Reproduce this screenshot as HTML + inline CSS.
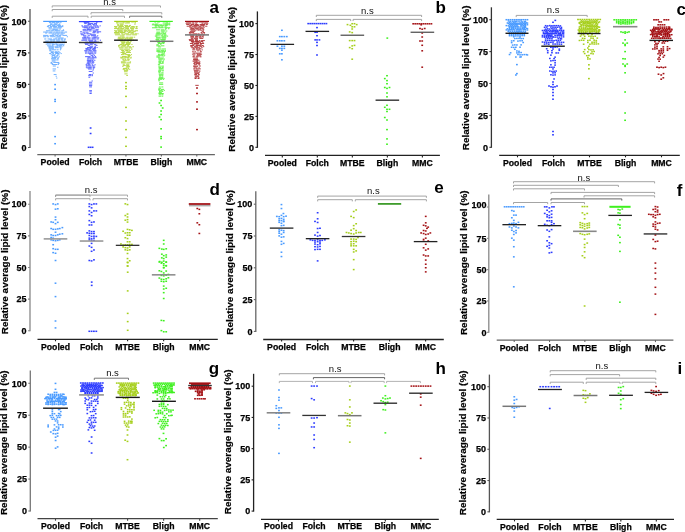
<!DOCTYPE html>
<html><head><meta charset="utf-8"><style>
html,body{margin:0;padding:0;background:#fff;}
svg{display:block;will-change:transform;}
text{font-family:"Liberation Sans",sans-serif;}
.tk{font-size:9px;font-weight:bold;text-anchor:end;fill:#000;stroke:#000;stroke-width:0.25px;}
.cl{font-size:8.7px;font-weight:bold;text-anchor:middle;fill:#000;stroke:#000;stroke-width:0.25px;}
.yl{font-size:9.95px;font-weight:bold;text-anchor:middle;fill:#000;stroke:#000;stroke-width:0.2px;}
.lt{font-size:17px;font-weight:bold;fill:#000;}
.ns{font-size:9.5px;text-anchor:middle;fill:#111;}
</style></head><body>
<svg width="685" height="532" viewBox="0 0 685 532">
<line x1="30" y1="9" x2="30" y2="148" stroke="#555" stroke-width="1.3"/>
<line x1="28" y1="147.5" x2="30" y2="147.5" stroke="#555" stroke-width="1.1"/>
<text x="26.6" y="150.7" class="tk">0</text>
<line x1="28" y1="115.95" x2="30" y2="115.95" stroke="#555" stroke-width="1.1"/>
<text x="26.6" y="119.15" class="tk">25</text>
<line x1="28" y1="84.4" x2="30" y2="84.4" stroke="#555" stroke-width="1.1"/>
<text x="26.6" y="87.6" class="tk">50</text>
<line x1="28" y1="52.85" x2="30" y2="52.85" stroke="#555" stroke-width="1.1"/>
<text x="26.6" y="56.05" class="tk">75</text>
<line x1="28" y1="21.3" x2="30" y2="21.3" stroke="#555" stroke-width="1.1"/>
<text x="26.6" y="24.5" class="tk">100</text>
<line x1="37.3" y1="154.6" x2="214.9" y2="154.6" stroke="#666" stroke-width="1.3"/>
<line x1="55.1" y1="154.6" x2="55.1" y2="156.6" stroke="#666" stroke-width="1.1"/>
<text x="55.1" y="165.1" class="cl">Pooled</text>
<line x1="90.52" y1="154.6" x2="90.52" y2="156.6" stroke="#666" stroke-width="1.1"/>
<text x="90.52" y="165.1" class="cl">Folch</text>
<line x1="125.94" y1="154.6" x2="125.94" y2="156.6" stroke="#666" stroke-width="1.1"/>
<text x="125.94" y="165.1" class="cl">MTBE</text>
<line x1="161.36" y1="154.6" x2="161.36" y2="156.6" stroke="#666" stroke-width="1.1"/>
<text x="161.36" y="165.1" class="cl">Bligh</text>
<line x1="196.78" y1="154.6" x2="196.78" y2="156.6" stroke="#666" stroke-width="1.1"/>
<text x="196.78" y="165.1" class="cl">MMC</text>
<text transform="translate(7.3,77.2) rotate(-90)" class="yl">Relative average lipid level (%)</text>
<text x="209.5" y="12.8" class="lt">a</text>
<rect x="43.2" y="20.8" width="23.8" height="1.2" fill="#4a9bff"/>
<rect x="48.91" y="22.1" width="2.18" height="1" fill="#4a9bff" fill-opacity="0.8"/>
<rect x="51.46" y="22.1" width="3.91" height="1" fill="#4a9bff" fill-opacity="0.8"/>
<rect x="55.73" y="22.1" width="3.78" height="1" fill="#4a9bff" fill-opacity="0.8"/>
<rect x="60.25" y="22.1" width="1.2" height="1" fill="#4a9bff" fill-opacity="0.8"/>
<rect x="50.04" y="23.35" width="2.5" height="1" fill="#4a9bff" fill-opacity="0.8"/>
<rect x="53.79" y="23.35" width="4.1" height="1" fill="#4a9bff" fill-opacity="0.8"/>
<rect x="59.16" y="23.35" width="1.2" height="1" fill="#4a9bff" fill-opacity="0.8"/>
<rect x="49.86" y="24.23" width="2.89" height="1" fill="#4a9bff" fill-opacity="0.8"/>
<rect x="53.23" y="24.23" width="4.12" height="1" fill="#4a9bff" fill-opacity="0.8"/>
<rect x="58.01" y="24.23" width="2.33" height="1" fill="#4a9bff" fill-opacity="0.8"/>
<rect x="47.64" y="25.15" width="3.42" height="1" fill="#4a9bff" fill-opacity="0.8"/>
<rect x="51.95" y="25.15" width="3.54" height="1" fill="#4a9bff" fill-opacity="0.8"/>
<rect x="56.58" y="25.15" width="4.65" height="1" fill="#4a9bff" fill-opacity="0.8"/>
<rect x="62.1" y="25.15" width="1.2" height="1" fill="#4a9bff" fill-opacity="0.8"/>
<rect x="46.89" y="26.11" width="2.03" height="1" fill="#4a9bff" fill-opacity="0.8"/>
<rect x="49.98" y="26.11" width="2.18" height="1" fill="#4a9bff" fill-opacity="0.8"/>
<rect x="52.5" y="26.11" width="4.51" height="1" fill="#4a9bff" fill-opacity="0.8"/>
<rect x="57.88" y="26.11" width="5.42" height="1" fill="#4a9bff" fill-opacity="0.8"/>
<rect x="48.39" y="27.23" width="3.55" height="1" fill="#4a9bff" fill-opacity="0.8"/>
<rect x="53.19" y="27.23" width="3.63" height="1" fill="#4a9bff" fill-opacity="0.8"/>
<rect x="57.18" y="27.23" width="4.63" height="1" fill="#4a9bff" fill-opacity="0.8"/>
<rect x="48.65" y="28.48" width="3.24" height="1" fill="#4a9bff" fill-opacity="0.8"/>
<rect x="52.21" y="28.48" width="3.58" height="1" fill="#4a9bff" fill-opacity="0.8"/>
<rect x="56.2" y="28.48" width="1.77" height="1" fill="#4a9bff" fill-opacity="0.8"/>
<rect x="58.4" y="28.48" width="2.61" height="1" fill="#4a9bff" fill-opacity="0.8"/>
<rect x="52.36" y="29.33" width="5.39" height="1" fill="#4a9bff" fill-opacity="0.8"/>
<rect x="62.84" y="29.33" width="1.2" height="1" fill="#4a9bff" fill-opacity="0.8"/>
<rect x="45.94" y="30.26" width="4.15" height="1" fill="#4a9bff" fill-opacity="0.8"/>
<rect x="50.4" y="30.26" width="3.39" height="1" fill="#4a9bff" fill-opacity="0.8"/>
<rect x="54.65" y="30.26" width="5.79" height="1" fill="#4a9bff" fill-opacity="0.8"/>
<rect x="61.25" y="30.26" width="3.01" height="1" fill="#4a9bff" fill-opacity="0.8"/>
<rect x="43.1" y="31.55" width="5.44" height="1" fill="#4a9bff" fill-opacity="0.8"/>
<rect x="49.23" y="31.55" width="3.3" height="1" fill="#4a9bff" fill-opacity="0.8"/>
<rect x="53.46" y="31.55" width="1.78" height="1" fill="#4a9bff" fill-opacity="0.8"/>
<rect x="55.75" y="31.55" width="2.23" height="1" fill="#4a9bff" fill-opacity="0.8"/>
<rect x="58.33" y="31.55" width="1.5" height="1" fill="#4a9bff" fill-opacity="0.8"/>
<rect x="60.23" y="31.55" width="3.14" height="1" fill="#4a9bff" fill-opacity="0.8"/>
<rect x="64.54" y="31.55" width="2.56" height="1" fill="#4a9bff" fill-opacity="0.8"/>
<rect x="45.12" y="32.54" width="2.05" height="1" fill="#4a9bff" fill-opacity="0.8"/>
<rect x="48.47" y="32.54" width="3.6" height="1" fill="#4a9bff" fill-opacity="0.8"/>
<rect x="52.45" y="32.54" width="1.96" height="1" fill="#4a9bff" fill-opacity="0.8"/>
<rect x="54.97" y="32.54" width="5.23" height="1" fill="#4a9bff" fill-opacity="0.8"/>
<rect x="60.53" y="32.54" width="4.55" height="1" fill="#4a9bff" fill-opacity="0.8"/>
<rect x="51.82" y="33.64" width="4.63" height="1" fill="#4a9bff" fill-opacity="0.8"/>
<rect x="57.12" y="33.64" width="2.25" height="1" fill="#4a9bff" fill-opacity="0.8"/>
<rect x="60.2" y="33.64" width="3.22" height="1" fill="#4a9bff" fill-opacity="0.8"/>
<rect x="43.1" y="34.89" width="5.34" height="1" fill="#4a9bff" fill-opacity="0.8"/>
<rect x="49.56" y="34.89" width="4.83" height="1" fill="#4a9bff" fill-opacity="0.8"/>
<rect x="55.2" y="34.89" width="3.1" height="1" fill="#4a9bff" fill-opacity="0.8"/>
<rect x="58.63" y="34.89" width="2.76" height="1" fill="#4a9bff" fill-opacity="0.8"/>
<rect x="62.38" y="34.89" width="4.72" height="1" fill="#4a9bff" fill-opacity="0.8"/>
<rect x="43.1" y="36.23" width="3.14" height="1" fill="#4a9bff" fill-opacity="0.8"/>
<rect x="46.77" y="36.23" width="2.39" height="1" fill="#4a9bff" fill-opacity="0.8"/>
<rect x="50.08" y="36.23" width="5.55" height="1" fill="#4a9bff" fill-opacity="0.8"/>
<rect x="56.41" y="36.23" width="4.44" height="1" fill="#4a9bff" fill-opacity="0.8"/>
<rect x="66.79" y="36.23" width="1.2" height="1" fill="#4a9bff" fill-opacity="0.8"/>
<rect x="55.41" y="37.47" width="2.27" height="1" fill="#4a9bff" fill-opacity="0.8"/>
<rect x="58.12" y="37.47" width="5.57" height="1" fill="#4a9bff" fill-opacity="0.8"/>
<rect x="44.21" y="38.46" width="2.09" height="1" fill="#4a9bff" fill-opacity="0.8"/>
<rect x="47.57" y="38.46" width="4.42" height="1" fill="#4a9bff" fill-opacity="0.8"/>
<rect x="53.23" y="38.46" width="3.45" height="1" fill="#4a9bff" fill-opacity="0.8"/>
<rect x="57.81" y="38.46" width="2.45" height="1" fill="#4a9bff" fill-opacity="0.8"/>
<rect x="60.85" y="38.46" width="2.58" height="1" fill="#4a9bff" fill-opacity="0.8"/>
<rect x="63.99" y="38.46" width="1.99" height="1" fill="#4a9bff" fill-opacity="0.8"/>
<rect x="49.5" y="39.45" width="5.63" height="1" fill="#4a9bff" fill-opacity="0.8"/>
<rect x="55.97" y="39.45" width="3.86" height="1" fill="#4a9bff" fill-opacity="0.8"/>
<rect x="60.56" y="39.45" width="2.32" height="1" fill="#4a9bff" fill-opacity="0.8"/>
<rect x="63.98" y="39.45" width="1.56" height="1" fill="#4a9bff" fill-opacity="0.8"/>
<rect x="45.31" y="40.56" width="3.83" height="1" fill="#4a9bff" fill-opacity="0.8"/>
<rect x="50.22" y="40.56" width="1.98" height="1" fill="#4a9bff" fill-opacity="0.8"/>
<rect x="52.75" y="40.56" width="2.75" height="1" fill="#4a9bff" fill-opacity="0.8"/>
<rect x="56.3" y="40.56" width="4.03" height="1" fill="#4a9bff" fill-opacity="0.8"/>
<rect x="61.55" y="40.56" width="3.35" height="1" fill="#4a9bff" fill-opacity="0.8"/>
<rect x="44.56" y="41.64" width="3.54" height="1" fill="#4a9bff" fill-opacity="0.8"/>
<rect x="48.88" y="41.64" width="5.74" height="1" fill="#4a9bff" fill-opacity="0.8"/>
<rect x="55.79" y="41.64" width="5.74" height="1" fill="#4a9bff" fill-opacity="0.8"/>
<rect x="62.39" y="41.64" width="3.25" height="1" fill="#4a9bff" fill-opacity="0.8"/>
<rect x="46.96" y="42.51" width="1.83" height="1" fill="#4a9bff" fill-opacity="0.8"/>
<rect x="49.16" y="42.51" width="4.51" height="1" fill="#4a9bff" fill-opacity="0.8"/>
<rect x="54.87" y="42.51" width="2.2" height="1" fill="#4a9bff" fill-opacity="0.8"/>
<rect x="45.67" y="43.58" width="5.25" height="1" fill="#4a9bff" fill-opacity="0.8"/>
<rect x="51.64" y="43.58" width="3.82" height="1" fill="#4a9bff" fill-opacity="0.8"/>
<rect x="55.96" y="43.58" width="2.93" height="1" fill="#4a9bff" fill-opacity="0.8"/>
<rect x="59.21" y="43.58" width="3.99" height="1" fill="#4a9bff" fill-opacity="0.8"/>
<rect x="63.52" y="43.58" width="1.2" height="1" fill="#4a9bff" fill-opacity="0.8"/>
<rect x="51.78" y="44.41" width="2.7" height="1" fill="#4a9bff" fill-opacity="0.8"/>
<rect x="55.55" y="44.41" width="2.72" height="1" fill="#4a9bff" fill-opacity="0.8"/>
<rect x="58.99" y="44.41" width="4.88" height="1" fill="#4a9bff" fill-opacity="0.8"/>
<rect x="47.08" y="45.29" width="4.07" height="1" fill="#4a9bff" fill-opacity="0.8"/>
<rect x="51.54" y="45.29" width="1.76" height="1" fill="#4a9bff" fill-opacity="0.8"/>
<rect x="56.79" y="45.29" width="5.11" height="1" fill="#4a9bff" fill-opacity="0.8"/>
<rect x="63.05" y="45.29" width="1.2" height="1" fill="#4a9bff" fill-opacity="0.8"/>
<rect x="48.31" y="46.28" width="5.67" height="1" fill="#4a9bff" fill-opacity="0.8"/>
<rect x="54.41" y="46.28" width="3.87" height="1" fill="#4a9bff" fill-opacity="0.8"/>
<rect x="58.69" y="46.28" width="2.23" height="1" fill="#4a9bff" fill-opacity="0.8"/>
<rect x="61.42" y="46.28" width="1.2" height="1" fill="#4a9bff" fill-opacity="0.8"/>
<rect x="48.55" y="47.24" width="2.3" height="1" fill="#4a9bff" fill-opacity="0.8"/>
<rect x="51.17" y="47.24" width="2.63" height="1" fill="#4a9bff" fill-opacity="0.8"/>
<rect x="54.83" y="47.24" width="3.98" height="1" fill="#4a9bff" fill-opacity="0.8"/>
<rect x="59.59" y="47.24" width="2.06" height="1" fill="#4a9bff" fill-opacity="0.8"/>
<rect x="48.67" y="48.28" width="5.26" height="1" fill="#4a9bff" fill-opacity="0.8"/>
<rect x="59.97" y="48.28" width="1.56" height="1" fill="#4a9bff" fill-opacity="0.8"/>
<rect x="49.33" y="49.3" width="1.74" height="1" fill="#4a9bff" fill-opacity="0.8"/>
<rect x="51.44" y="49.3" width="4.83" height="1" fill="#4a9bff" fill-opacity="0.8"/>
<rect x="56.74" y="49.3" width="1.88" height="1" fill="#4a9bff" fill-opacity="0.8"/>
<rect x="59.79" y="49.3" width="1.2" height="1" fill="#4a9bff" fill-opacity="0.8"/>
<rect x="49.22" y="50.26" width="2.21" height="1" fill="#4a9bff" fill-opacity="0.8"/>
<rect x="50.66" y="51.26" width="3.22" height="1" fill="#4a9bff" fill-opacity="0.8"/>
<rect x="54.68" y="51.26" width="2.4" height="1" fill="#4a9bff" fill-opacity="0.8"/>
<rect x="57.39" y="51.26" width="2.15" height="1" fill="#4a9bff" fill-opacity="0.8"/>
<rect x="50.75" y="52.08" width="2.87" height="1" fill="#4a9bff" fill-opacity="0.8"/>
<rect x="54.51" y="52.08" width="3.88" height="1" fill="#4a9bff" fill-opacity="0.8"/>
<rect x="59.34" y="52.08" width="1.2" height="1" fill="#4a9bff" fill-opacity="0.8"/>
<rect x="49.14" y="53.06" width="2.17" height="1" fill="#4a9bff" fill-opacity="0.8"/>
<rect x="52.25" y="53.06" width="1.7" height="1" fill="#4a9bff" fill-opacity="0.8"/>
<rect x="55.14" y="53.06" width="4.32" height="1" fill="#4a9bff" fill-opacity="0.8"/>
<rect x="60.58" y="53.06" width="1.2" height="1" fill="#4a9bff" fill-opacity="0.8"/>
<rect x="50.68" y="54.32" width="5.22" height="1" fill="#4a9bff" fill-opacity="0.8"/>
<rect x="57.09" y="54.32" width="2.43" height="1" fill="#4a9bff" fill-opacity="0.8"/>
<rect x="52" y="55.14" width="3.12" height="1" fill="#4a9bff" fill-opacity="0.8"/>
<rect x="56.26" y="55.14" width="1.94" height="1" fill="#4a9bff" fill-opacity="0.8"/>
<rect x="51.39" y="56.31" width="1.51" height="1" fill="#4a9bff" fill-opacity="0.8"/>
<rect x="53.95" y="56.31" width="3.76" height="1" fill="#4a9bff" fill-opacity="0.8"/>
<rect x="58.67" y="56.31" width="1.2" height="1" fill="#4a9bff" fill-opacity="0.8"/>
<rect x="51.77" y="57.15" width="4.78" height="1" fill="#4a9bff" fill-opacity="0.8"/>
<rect x="57.59" y="57.15" width="1.2" height="1" fill="#4a9bff" fill-opacity="0.8"/>
<rect x="51.05" y="58.21" width="4.95" height="1" fill="#4a9bff" fill-opacity="0.8"/>
<rect x="56.95" y="58.21" width="1.85" height="1" fill="#4a9bff" fill-opacity="0.8"/>
<rect x="51.71" y="59.42" width="4.05" height="1" fill="#4a9bff" fill-opacity="0.8"/>
<rect x="56.12" y="59.42" width="2.37" height="1" fill="#4a9bff" fill-opacity="0.8"/>
<rect x="51.73" y="60.59" width="3.82" height="1" fill="#4a9bff" fill-opacity="0.8"/>
<rect x="50.62" y="61.93" width="1.58" height="1" fill="#4a9bff" fill-opacity="0.8"/>
<rect x="53.32" y="61.93" width="5.86" height="1" fill="#4a9bff" fill-opacity="0.8"/>
<rect x="50.6" y="62.85" width="2.45" height="1" fill="#4a9bff" fill-opacity="0.8"/>
<rect x="57.78" y="62.85" width="1.82" height="1" fill="#4a9bff" fill-opacity="0.8"/>
<rect x="51.83" y="64.03" width="5.54" height="1" fill="#4a9bff" fill-opacity="0.8"/>
<rect x="57.7" y="64.03" width="1.2" height="1" fill="#4a9bff" fill-opacity="0.8"/>
<rect x="52.82" y="65.5" width="3.05" height="1" fill="#4a9bff" fill-opacity="0.8"/>
<rect x="57.13" y="66.8" width="1.24" height="1" fill="#4a9bff" fill-opacity="0.8"/>
<rect x="52.55" y="68.47" width="3.43" height="1" fill="#4a9bff" fill-opacity="0.8"/>
<rect x="52.69" y="70.42" width="2.7" height="1" fill="#4a9bff" fill-opacity="0.8"/>
<rect x="53.66" y="74.04" width="2.88" height="1" fill="#4a9bff" fill-opacity="0.8"/>
<rect x="55.61" y="75.76" width="1.2" height="1" fill="#4a9bff" fill-opacity="0.8"/>
<rect x="56.15" y="77.55" width="1.2" height="1" fill="#4a9bff" fill-opacity="0.8"/>
<rect x="54.2" y="83.85" width="1.8" height="1.5" fill="#4a9bff"/>
<rect x="54.2" y="88.45" width="1.8" height="1.5" fill="#4a9bff"/>
<rect x="54.2" y="98.75" width="1.8" height="1.5" fill="#4a9bff"/>
<rect x="54.2" y="100.65" width="1.8" height="1.5" fill="#4a9bff"/>
<rect x="54.2" y="111.85" width="1.8" height="1.5" fill="#4a9bff"/>
<rect x="54.2" y="135.85" width="1.8" height="1.5" fill="#4a9bff"/>
<rect x="54.2" y="142.95" width="1.8" height="1.5" fill="#4a9bff"/>
<rect x="78.9" y="21" width="23.4" height="1.2" fill="#2d3cff"/>
<rect x="83.75" y="22.1" width="5.58" height="1" fill="#2d3cff" fill-opacity="0.8"/>
<rect x="96.18" y="22.1" width="1.27" height="1" fill="#2d3cff" fill-opacity="0.8"/>
<rect x="84.18" y="23.09" width="2.58" height="1" fill="#2d3cff" fill-opacity="0.8"/>
<rect x="87.62" y="23.09" width="5.49" height="1" fill="#2d3cff" fill-opacity="0.8"/>
<rect x="93.83" y="23.09" width="3.19" height="1" fill="#2d3cff" fill-opacity="0.8"/>
<rect x="87.46" y="24.07" width="3.77" height="1" fill="#2d3cff" fill-opacity="0.8"/>
<rect x="92.39" y="24.07" width="2.47" height="1" fill="#2d3cff" fill-opacity="0.8"/>
<rect x="95.41" y="24.07" width="1.51" height="1" fill="#2d3cff" fill-opacity="0.8"/>
<rect x="81.32" y="25.34" width="1.6" height="1" fill="#2d3cff" fill-opacity="0.8"/>
<rect x="83.93" y="25.34" width="5.53" height="1" fill="#2d3cff" fill-opacity="0.8"/>
<rect x="90.35" y="25.34" width="1.5" height="1" fill="#2d3cff" fill-opacity="0.8"/>
<rect x="93.07" y="25.34" width="5.22" height="1" fill="#2d3cff" fill-opacity="0.8"/>
<rect x="99.56" y="25.34" width="1.2" height="1" fill="#2d3cff" fill-opacity="0.8"/>
<rect x="82.02" y="26.43" width="5.74" height="1" fill="#2d3cff" fill-opacity="0.8"/>
<rect x="88.7" y="26.43" width="4.94" height="1" fill="#2d3cff" fill-opacity="0.8"/>
<rect x="94.49" y="26.43" width="1.68" height="1" fill="#2d3cff" fill-opacity="0.8"/>
<rect x="96.71" y="26.43" width="2.48" height="1" fill="#2d3cff" fill-opacity="0.8"/>
<rect x="83.59" y="27.3" width="4.36" height="1" fill="#2d3cff" fill-opacity="0.8"/>
<rect x="88.37" y="27.3" width="1.82" height="1" fill="#2d3cff" fill-opacity="0.8"/>
<rect x="91.06" y="27.3" width="3.25" height="1" fill="#2d3cff" fill-opacity="0.8"/>
<rect x="95.21" y="27.3" width="1.55" height="1" fill="#2d3cff" fill-opacity="0.8"/>
<rect x="97.52" y="27.3" width="1.2" height="1" fill="#2d3cff" fill-opacity="0.8"/>
<rect x="86.74" y="28.36" width="2.88" height="1" fill="#2d3cff" fill-opacity="0.8"/>
<rect x="90.42" y="28.36" width="4.54" height="1" fill="#2d3cff" fill-opacity="0.8"/>
<rect x="82.6" y="29.18" width="3.39" height="1" fill="#2d3cff" fill-opacity="0.8"/>
<rect x="86.49" y="29.18" width="5.09" height="1" fill="#2d3cff" fill-opacity="0.8"/>
<rect x="95.42" y="29.18" width="3.18" height="1" fill="#2d3cff" fill-opacity="0.8"/>
<rect x="82.77" y="30.4" width="5.78" height="1" fill="#2d3cff" fill-opacity="0.8"/>
<rect x="89.04" y="30.4" width="2.5" height="1" fill="#2d3cff" fill-opacity="0.8"/>
<rect x="92.51" y="30.4" width="5.77" height="1" fill="#2d3cff" fill-opacity="0.8"/>
<rect x="80.06" y="31.31" width="2.14" height="1" fill="#2d3cff" fill-opacity="0.8"/>
<rect x="93.04" y="31.31" width="2.98" height="1" fill="#2d3cff" fill-opacity="0.8"/>
<rect x="97.26" y="31.31" width="3.87" height="1" fill="#2d3cff" fill-opacity="0.8"/>
<rect x="82.46" y="32.32" width="2.99" height="1" fill="#2d3cff" fill-opacity="0.8"/>
<rect x="85.75" y="32.32" width="2.76" height="1" fill="#2d3cff" fill-opacity="0.8"/>
<rect x="92.33" y="32.32" width="3.1" height="1" fill="#2d3cff" fill-opacity="0.8"/>
<rect x="96.56" y="32.32" width="2.18" height="1" fill="#2d3cff" fill-opacity="0.8"/>
<rect x="80.28" y="33.33" width="2.37" height="1" fill="#2d3cff" fill-opacity="0.8"/>
<rect x="83.85" y="33.33" width="1.64" height="1" fill="#2d3cff" fill-opacity="0.8"/>
<rect x="86.59" y="33.33" width="4.95" height="1" fill="#2d3cff" fill-opacity="0.8"/>
<rect x="81.09" y="34.27" width="2.92" height="1" fill="#2d3cff" fill-opacity="0.8"/>
<rect x="90.15" y="34.27" width="5.74" height="1" fill="#2d3cff" fill-opacity="0.8"/>
<rect x="82.95" y="35.28" width="3.43" height="1" fill="#2d3cff" fill-opacity="0.8"/>
<rect x="87.61" y="35.28" width="2.32" height="1" fill="#2d3cff" fill-opacity="0.8"/>
<rect x="90.97" y="35.28" width="5.2" height="1" fill="#2d3cff" fill-opacity="0.8"/>
<rect x="97.08" y="35.28" width="1.2" height="1" fill="#2d3cff" fill-opacity="0.8"/>
<rect x="83.63" y="36.51" width="2.39" height="1" fill="#2d3cff" fill-opacity="0.8"/>
<rect x="86.57" y="36.51" width="1.79" height="1" fill="#2d3cff" fill-opacity="0.8"/>
<rect x="93.36" y="36.51" width="4.2" height="1" fill="#2d3cff" fill-opacity="0.8"/>
<rect x="81.96" y="37.37" width="4.69" height="1" fill="#2d3cff" fill-opacity="0.8"/>
<rect x="87.19" y="37.37" width="3.38" height="1" fill="#2d3cff" fill-opacity="0.8"/>
<rect x="91.54" y="37.37" width="4.87" height="1" fill="#2d3cff" fill-opacity="0.8"/>
<rect x="97.37" y="37.37" width="1.87" height="1" fill="#2d3cff" fill-opacity="0.8"/>
<rect x="82.46" y="38.48" width="4.82" height="1" fill="#2d3cff" fill-opacity="0.8"/>
<rect x="87.83" y="38.48" width="2.6" height="1" fill="#2d3cff" fill-opacity="0.8"/>
<rect x="91.62" y="38.48" width="4.1" height="1" fill="#2d3cff" fill-opacity="0.8"/>
<rect x="96.42" y="38.48" width="2.32" height="1" fill="#2d3cff" fill-opacity="0.8"/>
<rect x="81.34" y="39.72" width="5.96" height="1" fill="#2d3cff" fill-opacity="0.8"/>
<rect x="88.08" y="39.72" width="5.19" height="1" fill="#2d3cff" fill-opacity="0.8"/>
<rect x="94.48" y="39.72" width="1.68" height="1" fill="#2d3cff" fill-opacity="0.8"/>
<rect x="99.81" y="39.72" width="1.2" height="1" fill="#2d3cff" fill-opacity="0.8"/>
<rect x="89.04" y="40.77" width="4.18" height="1" fill="#2d3cff" fill-opacity="0.8"/>
<rect x="93.74" y="40.77" width="3.16" height="1" fill="#2d3cff" fill-opacity="0.8"/>
<rect x="97.41" y="40.77" width="1.2" height="1" fill="#2d3cff" fill-opacity="0.8"/>
<rect x="85.28" y="41.68" width="2.97" height="1" fill="#2d3cff" fill-opacity="0.8"/>
<rect x="88.74" y="41.68" width="2.9" height="1" fill="#2d3cff" fill-opacity="0.8"/>
<rect x="92.74" y="41.68" width="3.18" height="1" fill="#2d3cff" fill-opacity="0.8"/>
<rect x="84.46" y="42.7" width="4.38" height="1" fill="#2d3cff" fill-opacity="0.8"/>
<rect x="89.3" y="42.7" width="4.63" height="1" fill="#2d3cff" fill-opacity="0.8"/>
<rect x="84.99" y="43.81" width="3.37" height="1" fill="#2d3cff" fill-opacity="0.8"/>
<rect x="89.66" y="43.81" width="3.14" height="1" fill="#2d3cff" fill-opacity="0.8"/>
<rect x="93.83" y="43.81" width="2.38" height="1" fill="#2d3cff" fill-opacity="0.8"/>
<rect x="87.79" y="44.84" width="2.23" height="1" fill="#2d3cff" fill-opacity="0.8"/>
<rect x="95.65" y="44.84" width="1.84" height="1" fill="#2d3cff" fill-opacity="0.8"/>
<rect x="89.45" y="45.73" width="3.71" height="1" fill="#2d3cff" fill-opacity="0.8"/>
<rect x="94.42" y="45.73" width="1.58" height="1" fill="#2d3cff" fill-opacity="0.8"/>
<rect x="87.07" y="47.06" width="5.57" height="1" fill="#2d3cff" fill-opacity="0.8"/>
<rect x="93.76" y="47.06" width="2.22" height="1" fill="#2d3cff" fill-opacity="0.8"/>
<rect x="96.51" y="47.06" width="1.2" height="1" fill="#2d3cff" fill-opacity="0.8"/>
<rect x="85.38" y="47.96" width="3.3" height="1" fill="#2d3cff" fill-opacity="0.8"/>
<rect x="89.36" y="47.96" width="2.05" height="1" fill="#2d3cff" fill-opacity="0.8"/>
<rect x="92.44" y="47.96" width="3.39" height="1" fill="#2d3cff" fill-opacity="0.8"/>
<rect x="85.55" y="49.18" width="5.27" height="1" fill="#2d3cff" fill-opacity="0.8"/>
<rect x="91.72" y="49.18" width="3.93" height="1" fill="#2d3cff" fill-opacity="0.8"/>
<rect x="84.2" y="50.21" width="3.42" height="1" fill="#2d3cff" fill-opacity="0.8"/>
<rect x="88.37" y="50.21" width="3.47" height="1" fill="#2d3cff" fill-opacity="0.8"/>
<rect x="92.76" y="50.21" width="3.7" height="1" fill="#2d3cff" fill-opacity="0.8"/>
<rect x="84.86" y="51.44" width="2.31" height="1" fill="#2d3cff" fill-opacity="0.8"/>
<rect x="87.57" y="51.44" width="2.08" height="1" fill="#2d3cff" fill-opacity="0.8"/>
<rect x="90.04" y="51.44" width="3.49" height="1" fill="#2d3cff" fill-opacity="0.8"/>
<rect x="93.87" y="51.44" width="2.47" height="1" fill="#2d3cff" fill-opacity="0.8"/>
<rect x="85.02" y="52.67" width="1.74" height="1" fill="#2d3cff" fill-opacity="0.8"/>
<rect x="87.44" y="52.67" width="5.78" height="1" fill="#2d3cff" fill-opacity="0.8"/>
<rect x="94.38" y="52.67" width="1.8" height="1" fill="#2d3cff" fill-opacity="0.8"/>
<rect x="89.02" y="53.57" width="2.24" height="1" fill="#2d3cff" fill-opacity="0.8"/>
<rect x="92.49" y="53.57" width="1.79" height="1" fill="#2d3cff" fill-opacity="0.8"/>
<rect x="90.61" y="54.82" width="2.68" height="1" fill="#2d3cff" fill-opacity="0.8"/>
<rect x="93.91" y="54.82" width="1.2" height="1" fill="#2d3cff" fill-opacity="0.8"/>
<rect x="85.08" y="56.14" width="5.53" height="1" fill="#2d3cff" fill-opacity="0.8"/>
<rect x="91.7" y="56.14" width="2.02" height="1" fill="#2d3cff" fill-opacity="0.8"/>
<rect x="94.65" y="56.14" width="1.47" height="1" fill="#2d3cff" fill-opacity="0.8"/>
<rect x="87.5" y="57.26" width="3.27" height="1" fill="#2d3cff" fill-opacity="0.8"/>
<rect x="91.34" y="57.26" width="5.25" height="1" fill="#2d3cff" fill-opacity="0.8"/>
<rect x="86.97" y="58.48" width="2.3" height="1" fill="#2d3cff" fill-opacity="0.8"/>
<rect x="89.62" y="58.48" width="4.61" height="1" fill="#2d3cff" fill-opacity="0.8"/>
<rect x="86.82" y="59.82" width="4.49" height="1" fill="#2d3cff" fill-opacity="0.8"/>
<rect x="91.6" y="59.82" width="1.65" height="1" fill="#2d3cff" fill-opacity="0.8"/>
<rect x="94.17" y="59.82" width="1.2" height="1" fill="#2d3cff" fill-opacity="0.8"/>
<rect x="87.42" y="60.69" width="4.44" height="1" fill="#2d3cff" fill-opacity="0.8"/>
<rect x="92.16" y="60.69" width="1.62" height="1" fill="#2d3cff" fill-opacity="0.8"/>
<rect x="86.82" y="61.61" width="4.15" height="1" fill="#2d3cff" fill-opacity="0.8"/>
<rect x="91.89" y="61.61" width="2.49" height="1" fill="#2d3cff" fill-opacity="0.8"/>
<rect x="87.46" y="62.55" width="1.93" height="1" fill="#2d3cff" fill-opacity="0.8"/>
<rect x="90.57" y="62.55" width="3.17" height="1" fill="#2d3cff" fill-opacity="0.8"/>
<rect x="86.36" y="63.35" width="4.03" height="1" fill="#2d3cff" fill-opacity="0.8"/>
<rect x="85.56" y="64.29" width="1.7" height="1" fill="#2d3cff" fill-opacity="0.8"/>
<rect x="87.96" y="64.29" width="2.57" height="1" fill="#2d3cff" fill-opacity="0.8"/>
<rect x="91.61" y="64.29" width="1.56" height="1" fill="#2d3cff" fill-opacity="0.8"/>
<rect x="94.41" y="64.29" width="1.23" height="1" fill="#2d3cff" fill-opacity="0.8"/>
<rect x="85.95" y="65.37" width="5.16" height="1" fill="#2d3cff" fill-opacity="0.8"/>
<rect x="91.72" y="65.37" width="2.85" height="1" fill="#2d3cff" fill-opacity="0.8"/>
<rect x="85.8" y="66.6" width="1.53" height="1" fill="#2d3cff" fill-opacity="0.8"/>
<rect x="88.37" y="66.6" width="3.59" height="1" fill="#2d3cff" fill-opacity="0.8"/>
<rect x="92.72" y="66.6" width="2.52" height="1" fill="#2d3cff" fill-opacity="0.8"/>
<rect x="86.56" y="67.42" width="4.87" height="1" fill="#2d3cff" fill-opacity="0.8"/>
<rect x="92.58" y="67.42" width="2.05" height="1" fill="#2d3cff" fill-opacity="0.8"/>
<rect x="88.02" y="68.5" width="3.85" height="1" fill="#2d3cff" fill-opacity="0.8"/>
<rect x="92.82" y="68.5" width="1.2" height="1" fill="#2d3cff" fill-opacity="0.8"/>
<rect x="92.42" y="69.61" width="1.2" height="1" fill="#2d3cff" fill-opacity="0.8"/>
<rect x="88.69" y="70.94" width="3.82" height="1" fill="#2d3cff" fill-opacity="0.8"/>
<rect x="92.63" y="72.51" width="1.2" height="1" fill="#2d3cff" fill-opacity="0.8"/>
<rect x="88.73" y="74.01" width="2.45" height="1" fill="#2d3cff" fill-opacity="0.8"/>
<rect x="91.57" y="74.01" width="1.2" height="1" fill="#2d3cff" fill-opacity="0.8"/>
<rect x="88.21" y="75.18" width="3.05" height="1" fill="#2d3cff" fill-opacity="0.8"/>
<rect x="91.59" y="75.18" width="1.41" height="1" fill="#2d3cff" fill-opacity="0.8"/>
<rect x="88.46" y="76.77" width="1.8" height="1" fill="#2d3cff" fill-opacity="0.8"/>
<rect x="91.59" y="80.46" width="1.2" height="1" fill="#2d3cff" fill-opacity="0.8"/>
<rect x="89.03" y="81.74" width="3.14" height="1" fill="#2d3cff" fill-opacity="0.8"/>
<rect x="88.91" y="83.51" width="3.38" height="1" fill="#2d3cff" fill-opacity="0.8"/>
<rect x="89" y="84.9" width="3.19" height="1" fill="#2d3cff" fill-opacity="0.8"/>
<rect x="89.21" y="86.38" width="2.78" height="1" fill="#2d3cff" fill-opacity="0.8"/>
<rect x="89.23" y="90.15" width="2.74" height="1" fill="#2d3cff" fill-opacity="0.8"/>
<rect x="89.36" y="91.45" width="2.49" height="1" fill="#2d3cff" fill-opacity="0.8"/>
<rect x="89.49" y="92.99" width="2.23" height="1" fill="#2d3cff" fill-opacity="0.8"/>
<rect x="89.7" y="127.25" width="1.8" height="1.5" fill="#2d3cff"/>
<rect x="89.7" y="132.75" width="1.8" height="1.5" fill="#2d3cff"/>
<rect x="87.7" y="146.55" width="1.8" height="1.5" fill="#2d3cff"/>
<rect x="89.7" y="146.55" width="1.8" height="1.5" fill="#2d3cff"/>
<rect x="91.7" y="146.55" width="1.8" height="1.5" fill="#2d3cff"/>
<rect x="114.2" y="20.8" width="23.6" height="1.2" fill="#a6cf1c"/>
<rect x="115.98" y="21.5" width="3.31" height="1" fill="#a6cf1c" fill-opacity="0.8"/>
<rect x="122.69" y="21.5" width="2.43" height="1" fill="#a6cf1c" fill-opacity="0.8"/>
<rect x="126.32" y="21.5" width="3.76" height="1" fill="#a6cf1c" fill-opacity="0.8"/>
<rect x="131.25" y="21.5" width="2.55" height="1" fill="#a6cf1c" fill-opacity="0.8"/>
<rect x="134.64" y="21.5" width="1.39" height="1" fill="#a6cf1c" fill-opacity="0.8"/>
<rect x="116.12" y="22.49" width="2.2" height="1" fill="#a6cf1c" fill-opacity="0.8"/>
<rect x="119.28" y="22.49" width="4.84" height="1" fill="#a6cf1c" fill-opacity="0.8"/>
<rect x="124.86" y="22.49" width="4.98" height="1" fill="#a6cf1c" fill-opacity="0.8"/>
<rect x="134.38" y="22.49" width="1.5" height="1" fill="#a6cf1c" fill-opacity="0.8"/>
<rect x="116.97" y="23.76" width="2.2" height="1" fill="#a6cf1c" fill-opacity="0.8"/>
<rect x="119.8" y="23.76" width="3.85" height="1" fill="#a6cf1c" fill-opacity="0.8"/>
<rect x="134.34" y="23.76" width="1.2" height="1" fill="#a6cf1c" fill-opacity="0.8"/>
<rect x="117.21" y="24.91" width="2.43" height="1" fill="#a6cf1c" fill-opacity="0.8"/>
<rect x="119.97" y="24.91" width="3.3" height="1" fill="#a6cf1c" fill-opacity="0.8"/>
<rect x="124.26" y="24.91" width="3.75" height="1" fill="#a6cf1c" fill-opacity="0.8"/>
<rect x="128.78" y="24.91" width="2.14" height="1" fill="#a6cf1c" fill-opacity="0.8"/>
<rect x="114.03" y="26.02" width="3.4" height="1" fill="#a6cf1c" fill-opacity="0.8"/>
<rect x="118.44" y="26.02" width="5.46" height="1" fill="#a6cf1c" fill-opacity="0.8"/>
<rect x="124.91" y="26.02" width="5.34" height="1" fill="#a6cf1c" fill-opacity="0.8"/>
<rect x="131.18" y="26.02" width="3.54" height="1" fill="#a6cf1c" fill-opacity="0.8"/>
<rect x="135.65" y="26.02" width="1.94" height="1" fill="#a6cf1c" fill-opacity="0.8"/>
<rect x="114.62" y="27.21" width="2.63" height="1" fill="#a6cf1c" fill-opacity="0.8"/>
<rect x="118" y="27.21" width="4.3" height="1" fill="#a6cf1c" fill-opacity="0.8"/>
<rect x="123.27" y="27.21" width="5.69" height="1" fill="#a6cf1c" fill-opacity="0.8"/>
<rect x="129.91" y="27.21" width="5" height="1" fill="#a6cf1c" fill-opacity="0.8"/>
<rect x="135.7" y="27.21" width="1.68" height="1" fill="#a6cf1c" fill-opacity="0.8"/>
<rect x="114" y="28.1" width="5.73" height="1" fill="#a6cf1c" fill-opacity="0.8"/>
<rect x="120.13" y="28.1" width="4.09" height="1" fill="#a6cf1c" fill-opacity="0.8"/>
<rect x="125.24" y="28.1" width="3.8" height="1" fill="#a6cf1c" fill-opacity="0.8"/>
<rect x="130.17" y="28.1" width="3.85" height="1" fill="#a6cf1c" fill-opacity="0.8"/>
<rect x="135.27" y="28.1" width="2.45" height="1" fill="#a6cf1c" fill-opacity="0.8"/>
<rect x="117.13" y="29.32" width="5.93" height="1" fill="#a6cf1c" fill-opacity="0.8"/>
<rect x="123.42" y="29.32" width="2.73" height="1" fill="#a6cf1c" fill-opacity="0.8"/>
<rect x="126.47" y="29.32" width="3.38" height="1" fill="#a6cf1c" fill-opacity="0.8"/>
<rect x="130.85" y="29.32" width="3.08" height="1" fill="#a6cf1c" fill-opacity="0.8"/>
<rect x="114" y="30.24" width="3.26" height="1" fill="#a6cf1c" fill-opacity="0.8"/>
<rect x="117.69" y="30.24" width="4.99" height="1" fill="#a6cf1c" fill-opacity="0.8"/>
<rect x="123.62" y="30.24" width="3.61" height="1" fill="#a6cf1c" fill-opacity="0.8"/>
<rect x="127.76" y="30.24" width="5.84" height="1" fill="#a6cf1c" fill-opacity="0.8"/>
<rect x="134.54" y="30.24" width="3.46" height="1" fill="#a6cf1c" fill-opacity="0.8"/>
<rect x="115.02" y="31.2" width="2.06" height="1" fill="#a6cf1c" fill-opacity="0.8"/>
<rect x="117.74" y="31.2" width="5.33" height="1" fill="#a6cf1c" fill-opacity="0.8"/>
<rect x="123.74" y="31.2" width="2.64" height="1" fill="#a6cf1c" fill-opacity="0.8"/>
<rect x="126.87" y="31.2" width="1.51" height="1" fill="#a6cf1c" fill-opacity="0.8"/>
<rect x="128.97" y="31.2" width="2.6" height="1" fill="#a6cf1c" fill-opacity="0.8"/>
<rect x="132.35" y="31.2" width="3.43" height="1" fill="#a6cf1c" fill-opacity="0.8"/>
<rect x="114" y="32.04" width="5.58" height="1" fill="#a6cf1c" fill-opacity="0.8"/>
<rect x="120.02" y="32.04" width="5.24" height="1" fill="#a6cf1c" fill-opacity="0.8"/>
<rect x="128.08" y="32.04" width="2.63" height="1" fill="#a6cf1c" fill-opacity="0.8"/>
<rect x="131.15" y="32.04" width="2.55" height="1" fill="#a6cf1c" fill-opacity="0.8"/>
<rect x="114.43" y="33.27" width="5.52" height="1" fill="#a6cf1c" fill-opacity="0.8"/>
<rect x="121.09" y="33.27" width="2.39" height="1" fill="#a6cf1c" fill-opacity="0.8"/>
<rect x="124.31" y="33.27" width="4.84" height="1" fill="#a6cf1c" fill-opacity="0.8"/>
<rect x="130.33" y="33.27" width="4" height="1" fill="#a6cf1c" fill-opacity="0.8"/>
<rect x="134.86" y="33.27" width="2.13" height="1" fill="#a6cf1c" fill-opacity="0.8"/>
<rect x="137.35" y="33.27" width="1.2" height="1" fill="#a6cf1c" fill-opacity="0.8"/>
<rect x="115.07" y="34.34" width="5.38" height="1" fill="#a6cf1c" fill-opacity="0.8"/>
<rect x="121.59" y="34.34" width="3.61" height="1" fill="#a6cf1c" fill-opacity="0.8"/>
<rect x="126.16" y="34.34" width="5.28" height="1" fill="#a6cf1c" fill-opacity="0.8"/>
<rect x="132.16" y="34.34" width="4.77" height="1" fill="#a6cf1c" fill-opacity="0.8"/>
<rect x="119.91" y="35.49" width="4.24" height="1" fill="#a6cf1c" fill-opacity="0.8"/>
<rect x="117.82" y="36.68" width="3.02" height="1" fill="#a6cf1c" fill-opacity="0.8"/>
<rect x="121.51" y="36.68" width="3.64" height="1" fill="#a6cf1c" fill-opacity="0.8"/>
<rect x="126.21" y="36.68" width="2.45" height="1" fill="#a6cf1c" fill-opacity="0.8"/>
<rect x="129.38" y="36.68" width="3.99" height="1" fill="#a6cf1c" fill-opacity="0.8"/>
<rect x="133.97" y="36.68" width="1.2" height="1" fill="#a6cf1c" fill-opacity="0.8"/>
<rect x="118.24" y="37.63" width="5.89" height="1" fill="#a6cf1c" fill-opacity="0.8"/>
<rect x="125.22" y="37.63" width="2.99" height="1" fill="#a6cf1c" fill-opacity="0.8"/>
<rect x="128.81" y="37.63" width="4.14" height="1" fill="#a6cf1c" fill-opacity="0.8"/>
<rect x="117.47" y="38.46" width="5.49" height="1" fill="#a6cf1c" fill-opacity="0.8"/>
<rect x="123.3" y="38.46" width="2.85" height="1" fill="#a6cf1c" fill-opacity="0.8"/>
<rect x="126.65" y="38.46" width="5.65" height="1" fill="#a6cf1c" fill-opacity="0.8"/>
<rect x="118.54" y="39.6" width="4.63" height="1" fill="#a6cf1c" fill-opacity="0.8"/>
<rect x="124.15" y="39.6" width="2.46" height="1" fill="#a6cf1c" fill-opacity="0.8"/>
<rect x="127.37" y="39.6" width="4.93" height="1" fill="#a6cf1c" fill-opacity="0.8"/>
<rect x="132.78" y="39.6" width="1.2" height="1" fill="#a6cf1c" fill-opacity="0.8"/>
<rect x="120.36" y="40.76" width="5.2" height="1" fill="#a6cf1c" fill-opacity="0.8"/>
<rect x="126.42" y="40.76" width="2.66" height="1" fill="#a6cf1c" fill-opacity="0.8"/>
<rect x="129.8" y="40.76" width="1.84" height="1" fill="#a6cf1c" fill-opacity="0.8"/>
<rect x="121.23" y="42.07" width="4.05" height="1" fill="#a6cf1c" fill-opacity="0.8"/>
<rect x="125.7" y="42.07" width="5.07" height="1" fill="#a6cf1c" fill-opacity="0.8"/>
<rect x="121.34" y="43.12" width="3.24" height="1" fill="#a6cf1c" fill-opacity="0.8"/>
<rect x="125.82" y="43.12" width="4.84" height="1" fill="#a6cf1c" fill-opacity="0.8"/>
<rect x="119.59" y="43.97" width="2.46" height="1" fill="#a6cf1c" fill-opacity="0.8"/>
<rect x="122.36" y="43.97" width="1.52" height="1" fill="#a6cf1c" fill-opacity="0.8"/>
<rect x="124.31" y="43.97" width="5.85" height="1" fill="#a6cf1c" fill-opacity="0.8"/>
<rect x="131.33" y="43.97" width="1.2" height="1" fill="#a6cf1c" fill-opacity="0.8"/>
<rect x="118.04" y="44.9" width="2.34" height="1" fill="#a6cf1c" fill-opacity="0.8"/>
<rect x="121.45" y="44.9" width="4.71" height="1" fill="#a6cf1c" fill-opacity="0.8"/>
<rect x="127.19" y="44.9" width="1.88" height="1" fill="#a6cf1c" fill-opacity="0.8"/>
<rect x="118.09" y="46.23" width="1.55" height="1" fill="#a6cf1c" fill-opacity="0.8"/>
<rect x="120.59" y="46.23" width="5.18" height="1" fill="#a6cf1c" fill-opacity="0.8"/>
<rect x="126.38" y="46.23" width="4.78" height="1" fill="#a6cf1c" fill-opacity="0.8"/>
<rect x="132.32" y="46.23" width="1.58" height="1" fill="#a6cf1c" fill-opacity="0.8"/>
<rect x="119.01" y="47.35" width="4.55" height="1" fill="#a6cf1c" fill-opacity="0.8"/>
<rect x="124.66" y="47.35" width="3.13" height="1" fill="#a6cf1c" fill-opacity="0.8"/>
<rect x="128.72" y="47.35" width="3.38" height="1" fill="#a6cf1c" fill-opacity="0.8"/>
<rect x="119.56" y="48.67" width="4.05" height="1" fill="#a6cf1c" fill-opacity="0.8"/>
<rect x="123.97" y="48.67" width="5.88" height="1" fill="#a6cf1c" fill-opacity="0.8"/>
<rect x="130.98" y="48.67" width="1.45" height="1" fill="#a6cf1c" fill-opacity="0.8"/>
<rect x="121.14" y="49.93" width="2.89" height="1" fill="#a6cf1c" fill-opacity="0.8"/>
<rect x="125.22" y="49.93" width="3.2" height="1" fill="#a6cf1c" fill-opacity="0.8"/>
<rect x="129.32" y="49.93" width="1.54" height="1" fill="#a6cf1c" fill-opacity="0.8"/>
<rect x="121.87" y="50.73" width="3.4" height="1" fill="#a6cf1c" fill-opacity="0.8"/>
<rect x="126.38" y="50.73" width="3.75" height="1" fill="#a6cf1c" fill-opacity="0.8"/>
<rect x="120.57" y="51.98" width="4.07" height="1" fill="#a6cf1c" fill-opacity="0.8"/>
<rect x="125.8" y="51.98" width="5.13" height="1" fill="#a6cf1c" fill-opacity="0.8"/>
<rect x="122.25" y="52.97" width="3.99" height="1" fill="#a6cf1c" fill-opacity="0.8"/>
<rect x="120.98" y="54.1" width="3.59" height="1" fill="#a6cf1c" fill-opacity="0.8"/>
<rect x="125.13" y="54.1" width="4.88" height="1" fill="#a6cf1c" fill-opacity="0.8"/>
<rect x="130.77" y="54.1" width="1.2" height="1" fill="#a6cf1c" fill-opacity="0.8"/>
<rect x="127.55" y="55.03" width="3.26" height="1" fill="#a6cf1c" fill-opacity="0.8"/>
<rect x="122.04" y="55.93" width="4.65" height="1" fill="#a6cf1c" fill-opacity="0.8"/>
<rect x="127.56" y="55.93" width="2.39" height="1" fill="#a6cf1c" fill-opacity="0.8"/>
<rect x="120.29" y="56.76" width="3.18" height="1" fill="#a6cf1c" fill-opacity="0.8"/>
<rect x="124.41" y="56.76" width="5.04" height="1" fill="#a6cf1c" fill-opacity="0.8"/>
<rect x="130.35" y="56.76" width="1.36" height="1" fill="#a6cf1c" fill-opacity="0.8"/>
<rect x="120.47" y="57.58" width="5.4" height="1" fill="#a6cf1c" fill-opacity="0.8"/>
<rect x="126.74" y="57.58" width="2.68" height="1" fill="#a6cf1c" fill-opacity="0.8"/>
<rect x="130.14" y="57.58" width="1.39" height="1" fill="#a6cf1c" fill-opacity="0.8"/>
<rect x="122.29" y="58.91" width="1.67" height="1" fill="#a6cf1c" fill-opacity="0.8"/>
<rect x="124.44" y="58.91" width="1.88" height="1" fill="#a6cf1c" fill-opacity="0.8"/>
<rect x="127.17" y="58.91" width="2.54" height="1" fill="#a6cf1c" fill-opacity="0.8"/>
<rect x="122.66" y="60.21" width="4.19" height="1" fill="#a6cf1c" fill-opacity="0.8"/>
<rect x="127.27" y="60.21" width="2.08" height="1" fill="#a6cf1c" fill-opacity="0.8"/>
<rect x="120.93" y="61.36" width="4.51" height="1" fill="#a6cf1c" fill-opacity="0.8"/>
<rect x="129.7" y="61.36" width="1.36" height="1" fill="#a6cf1c" fill-opacity="0.8"/>
<rect x="121.04" y="62.35" width="5.57" height="1" fill="#a6cf1c" fill-opacity="0.8"/>
<rect x="126.95" y="62.35" width="4.01" height="1" fill="#a6cf1c" fill-opacity="0.8"/>
<rect x="122.67" y="63.7" width="2.15" height="1" fill="#a6cf1c" fill-opacity="0.8"/>
<rect x="126.06" y="63.7" width="3.26" height="1" fill="#a6cf1c" fill-opacity="0.8"/>
<rect x="122.84" y="64.91" width="2.96" height="1" fill="#a6cf1c" fill-opacity="0.8"/>
<rect x="126.22" y="64.91" width="2.94" height="1" fill="#a6cf1c" fill-opacity="0.8"/>
<rect x="122.07" y="65.79" width="1.56" height="1" fill="#a6cf1c" fill-opacity="0.8"/>
<rect x="126.3" y="65.79" width="3.63" height="1" fill="#a6cf1c" fill-opacity="0.8"/>
<rect x="125.76" y="66.67" width="3.56" height="1" fill="#a6cf1c" fill-opacity="0.8"/>
<rect x="122.94" y="67.92" width="4.33" height="1" fill="#a6cf1c" fill-opacity="0.8"/>
<rect x="127.79" y="67.92" width="1.27" height="1" fill="#a6cf1c" fill-opacity="0.8"/>
<rect x="122.62" y="68.8" width="2.7" height="1" fill="#a6cf1c" fill-opacity="0.8"/>
<rect x="125.77" y="68.8" width="2.72" height="1" fill="#a6cf1c" fill-opacity="0.8"/>
<rect x="129.13" y="68.8" width="1.2" height="1" fill="#a6cf1c" fill-opacity="0.8"/>
<rect x="123.87" y="70.1" width="4.26" height="1" fill="#a6cf1c" fill-opacity="0.8"/>
<rect x="123.98" y="71.26" width="3.65" height="1" fill="#a6cf1c" fill-opacity="0.8"/>
<rect x="124.4" y="73.39" width="3.2" height="1" fill="#a6cf1c" fill-opacity="0.8"/>
<rect x="126.28" y="74.95" width="1.65" height="1" fill="#a6cf1c" fill-opacity="0.8"/>
<rect x="125.1" y="81.85" width="1.8" height="1.5" fill="#a6cf1c"/>
<rect x="125.1" y="85.65" width="1.8" height="1.5" fill="#a6cf1c"/>
<rect x="125.1" y="87.95" width="1.8" height="1.5" fill="#a6cf1c"/>
<rect x="125.1" y="95.65" width="1.8" height="1.5" fill="#a6cf1c"/>
<rect x="125.1" y="106.65" width="1.8" height="1.5" fill="#a6cf1c"/>
<rect x="125.1" y="120.25" width="1.8" height="1.5" fill="#a6cf1c"/>
<rect x="125.1" y="128.85" width="1.8" height="1.5" fill="#a6cf1c"/>
<rect x="125.1" y="136.65" width="1.8" height="1.5" fill="#a6cf1c"/>
<rect x="125.1" y="145.55" width="1.8" height="1.5" fill="#a6cf1c"/>
<rect x="149.4" y="20.8" width="23.4" height="1.2" fill="#3ff01f"/>
<rect x="154.35" y="21.5" width="1.89" height="1" fill="#3ff01f" fill-opacity="0.8"/>
<rect x="157.04" y="21.5" width="2.73" height="1" fill="#3ff01f" fill-opacity="0.8"/>
<rect x="166.26" y="21.5" width="1.59" height="1" fill="#3ff01f" fill-opacity="0.8"/>
<rect x="162.68" y="22.52" width="5.42" height="1" fill="#3ff01f" fill-opacity="0.8"/>
<rect x="168.59" y="22.52" width="1.73" height="1" fill="#3ff01f" fill-opacity="0.8"/>
<rect x="152.36" y="23.53" width="1.52" height="1" fill="#3ff01f" fill-opacity="0.8"/>
<rect x="154.63" y="23.53" width="3.82" height="1" fill="#3ff01f" fill-opacity="0.8"/>
<rect x="165.26" y="23.53" width="4.58" height="1" fill="#3ff01f" fill-opacity="0.8"/>
<rect x="151.82" y="24.36" width="5.79" height="1" fill="#3ff01f" fill-opacity="0.8"/>
<rect x="158.43" y="24.36" width="3.89" height="1" fill="#3ff01f" fill-opacity="0.8"/>
<rect x="162.64" y="24.36" width="5.85" height="1" fill="#3ff01f" fill-opacity="0.8"/>
<rect x="168.97" y="24.36" width="1.41" height="1" fill="#3ff01f" fill-opacity="0.8"/>
<rect x="154.66" y="25.18" width="4.65" height="1" fill="#3ff01f" fill-opacity="0.8"/>
<rect x="159.62" y="25.18" width="4.2" height="1" fill="#3ff01f" fill-opacity="0.8"/>
<rect x="164.64" y="25.18" width="2.9" height="1" fill="#3ff01f" fill-opacity="0.8"/>
<rect x="154.84" y="26.37" width="2.05" height="1" fill="#3ff01f" fill-opacity="0.8"/>
<rect x="157.7" y="26.37" width="2.76" height="1" fill="#3ff01f" fill-opacity="0.8"/>
<rect x="161.16" y="26.37" width="2.12" height="1" fill="#3ff01f" fill-opacity="0.8"/>
<rect x="164.44" y="26.37" width="2.16" height="1" fill="#3ff01f" fill-opacity="0.8"/>
<rect x="151.99" y="27.26" width="5.72" height="1" fill="#3ff01f" fill-opacity="0.8"/>
<rect x="158.43" y="27.26" width="5.28" height="1" fill="#3ff01f" fill-opacity="0.8"/>
<rect x="164.41" y="27.26" width="5.74" height="1" fill="#3ff01f" fill-opacity="0.8"/>
<rect x="165.11" y="28.2" width="1.74" height="1" fill="#3ff01f" fill-opacity="0.8"/>
<rect x="168.1" y="28.2" width="1.2" height="1" fill="#3ff01f" fill-opacity="0.8"/>
<rect x="156.07" y="29.34" width="3.89" height="1" fill="#3ff01f" fill-opacity="0.8"/>
<rect x="160.69" y="29.34" width="3.77" height="1" fill="#3ff01f" fill-opacity="0.8"/>
<rect x="164.9" y="29.34" width="1.23" height="1" fill="#3ff01f" fill-opacity="0.8"/>
<rect x="160.78" y="30.49" width="4.39" height="1" fill="#3ff01f" fill-opacity="0.8"/>
<rect x="166.14" y="30.49" width="1.2" height="1" fill="#3ff01f" fill-opacity="0.8"/>
<rect x="156.35" y="31.63" width="3.84" height="1" fill="#3ff01f" fill-opacity="0.8"/>
<rect x="161.44" y="31.63" width="2.79" height="1" fill="#3ff01f" fill-opacity="0.8"/>
<rect x="165.18" y="31.63" width="1.2" height="1" fill="#3ff01f" fill-opacity="0.8"/>
<rect x="156.3" y="32.72" width="3.6" height="1" fill="#3ff01f" fill-opacity="0.8"/>
<rect x="160.35" y="32.72" width="2.06" height="1" fill="#3ff01f" fill-opacity="0.8"/>
<rect x="163" y="32.72" width="2.89" height="1" fill="#3ff01f" fill-opacity="0.8"/>
<rect x="155.62" y="33.56" width="5.28" height="1" fill="#3ff01f" fill-opacity="0.8"/>
<rect x="161.77" y="33.56" width="4.43" height="1" fill="#3ff01f" fill-opacity="0.8"/>
<rect x="155.61" y="34.62" width="4.26" height="1" fill="#3ff01f" fill-opacity="0.8"/>
<rect x="160.48" y="34.62" width="2.59" height="1" fill="#3ff01f" fill-opacity="0.8"/>
<rect x="163.88" y="34.62" width="2.71" height="1" fill="#3ff01f" fill-opacity="0.8"/>
<rect x="154.83" y="35.61" width="2.57" height="1" fill="#3ff01f" fill-opacity="0.8"/>
<rect x="161.58" y="35.61" width="4.97" height="1" fill="#3ff01f" fill-opacity="0.8"/>
<rect x="166.92" y="35.61" width="1.2" height="1" fill="#3ff01f" fill-opacity="0.8"/>
<rect x="155.88" y="36.63" width="4.81" height="1" fill="#3ff01f" fill-opacity="0.8"/>
<rect x="161.21" y="36.63" width="5.11" height="1" fill="#3ff01f" fill-opacity="0.8"/>
<rect x="156.1" y="37.61" width="4.54" height="1" fill="#3ff01f" fill-opacity="0.8"/>
<rect x="161.79" y="37.61" width="4.32" height="1" fill="#3ff01f" fill-opacity="0.8"/>
<rect x="155.5" y="38.82" width="3.64" height="1" fill="#3ff01f" fill-opacity="0.8"/>
<rect x="160.15" y="38.82" width="5.62" height="1" fill="#3ff01f" fill-opacity="0.8"/>
<rect x="155.85" y="39.62" width="4.14" height="1" fill="#3ff01f" fill-opacity="0.8"/>
<rect x="161.25" y="39.62" width="4.07" height="1" fill="#3ff01f" fill-opacity="0.8"/>
<rect x="156.74" y="40.9" width="3.21" height="1" fill="#3ff01f" fill-opacity="0.8"/>
<rect x="160.71" y="40.9" width="4.75" height="1" fill="#3ff01f" fill-opacity="0.8"/>
<rect x="157.4" y="42.01" width="2.95" height="1" fill="#3ff01f" fill-opacity="0.8"/>
<rect x="161.49" y="42.01" width="3.31" height="1" fill="#3ff01f" fill-opacity="0.8"/>
<rect x="157.83" y="42.97" width="4.09" height="1" fill="#3ff01f" fill-opacity="0.8"/>
<rect x="162.31" y="42.97" width="2.07" height="1" fill="#3ff01f" fill-opacity="0.8"/>
<rect x="156.36" y="44.24" width="2.42" height="1" fill="#3ff01f" fill-opacity="0.8"/>
<rect x="159.99" y="44.24" width="1.55" height="1" fill="#3ff01f" fill-opacity="0.8"/>
<rect x="156.29" y="45.33" width="3.83" height="1" fill="#3ff01f" fill-opacity="0.8"/>
<rect x="161.1" y="45.33" width="3.25" height="1" fill="#3ff01f" fill-opacity="0.8"/>
<rect x="157.91" y="46.42" width="3.18" height="1" fill="#3ff01f" fill-opacity="0.8"/>
<rect x="156.32" y="48.46" width="5.22" height="1" fill="#3ff01f" fill-opacity="0.8"/>
<rect x="161.95" y="48.46" width="3.93" height="1" fill="#3ff01f" fill-opacity="0.8"/>
<rect x="156.49" y="49.81" width="3.39" height="1" fill="#3ff01f" fill-opacity="0.8"/>
<rect x="160.47" y="49.81" width="3.8" height="1" fill="#3ff01f" fill-opacity="0.8"/>
<rect x="164.76" y="49.81" width="1.2" height="1" fill="#3ff01f" fill-opacity="0.8"/>
<rect x="156.3" y="50.8" width="4.36" height="1" fill="#3ff01f" fill-opacity="0.8"/>
<rect x="161.37" y="50.8" width="4.53" height="1" fill="#3ff01f" fill-opacity="0.8"/>
<rect x="157.54" y="51.6" width="5.29" height="1" fill="#3ff01f" fill-opacity="0.8"/>
<rect x="163.8" y="51.6" width="1.2" height="1" fill="#3ff01f" fill-opacity="0.8"/>
<rect x="161.69" y="52.55" width="3.35" height="1" fill="#3ff01f" fill-opacity="0.8"/>
<rect x="157.9" y="53.77" width="1.95" height="1" fill="#3ff01f" fill-opacity="0.8"/>
<rect x="160.67" y="53.77" width="3.63" height="1" fill="#3ff01f" fill-opacity="0.8"/>
<rect x="158.07" y="54.6" width="4.97" height="1" fill="#3ff01f" fill-opacity="0.8"/>
<rect x="164.05" y="54.6" width="1.2" height="1" fill="#3ff01f" fill-opacity="0.8"/>
<rect x="156.46" y="55.46" width="4.12" height="1" fill="#3ff01f" fill-opacity="0.8"/>
<rect x="161.33" y="55.46" width="3.24" height="1" fill="#3ff01f" fill-opacity="0.8"/>
<rect x="156.36" y="56.58" width="3.48" height="1" fill="#3ff01f" fill-opacity="0.8"/>
<rect x="158.05" y="57.5" width="5.82" height="1" fill="#3ff01f" fill-opacity="0.8"/>
<rect x="158.35" y="58.55" width="4.73" height="1" fill="#3ff01f" fill-opacity="0.8"/>
<rect x="163.69" y="58.55" width="1.2" height="1" fill="#3ff01f" fill-opacity="0.8"/>
<rect x="158.65" y="59.59" width="3.11" height="1" fill="#3ff01f" fill-opacity="0.8"/>
<rect x="163.04" y="59.59" width="1.2" height="1" fill="#3ff01f" fill-opacity="0.8"/>
<rect x="158.38" y="60.81" width="3.31" height="1" fill="#3ff01f" fill-opacity="0.8"/>
<rect x="162.12" y="60.81" width="1.69" height="1" fill="#3ff01f" fill-opacity="0.8"/>
<rect x="158.53" y="61.83" width="2.57" height="1" fill="#3ff01f" fill-opacity="0.8"/>
<rect x="162.06" y="61.83" width="1.6" height="1" fill="#3ff01f" fill-opacity="0.8"/>
<rect x="158.56" y="62.78" width="5.08" height="1" fill="#3ff01f" fill-opacity="0.8"/>
<rect x="157.88" y="64.18" width="2.22" height="1" fill="#3ff01f" fill-opacity="0.8"/>
<rect x="158.29" y="65.65" width="2.52" height="1" fill="#3ff01f" fill-opacity="0.8"/>
<rect x="161.25" y="65.65" width="2.66" height="1" fill="#3ff01f" fill-opacity="0.8"/>
<rect x="158.49" y="66.91" width="2.61" height="1" fill="#3ff01f" fill-opacity="0.8"/>
<rect x="161.61" y="66.91" width="2.11" height="1" fill="#3ff01f" fill-opacity="0.8"/>
<rect x="158.63" y="68.13" width="4.95" height="1" fill="#3ff01f" fill-opacity="0.8"/>
<rect x="158.59" y="69.37" width="3.25" height="1" fill="#3ff01f" fill-opacity="0.8"/>
<rect x="162.32" y="69.37" width="1.29" height="1" fill="#3ff01f" fill-opacity="0.8"/>
<rect x="158.28" y="70.34" width="3.13" height="1" fill="#3ff01f" fill-opacity="0.8"/>
<rect x="162.01" y="70.34" width="1.8" height="1" fill="#3ff01f" fill-opacity="0.8"/>
<rect x="158.1" y="71.31" width="2.77" height="1" fill="#3ff01f" fill-opacity="0.8"/>
<rect x="158.67" y="72.29" width="1.63" height="1" fill="#3ff01f" fill-opacity="0.8"/>
<rect x="161.27" y="72.29" width="2.26" height="1" fill="#3ff01f" fill-opacity="0.8"/>
<rect x="158.72" y="73.61" width="4.76" height="1" fill="#3ff01f" fill-opacity="0.8"/>
<rect x="158.9" y="74.62" width="4.41" height="1" fill="#3ff01f" fill-opacity="0.8"/>
<rect x="159" y="75.55" width="2.23" height="1" fill="#3ff01f" fill-opacity="0.8"/>
<rect x="161.83" y="75.55" width="1.37" height="1" fill="#3ff01f" fill-opacity="0.8"/>
<rect x="158.84" y="76.83" width="4.51" height="1" fill="#3ff01f" fill-opacity="0.8"/>
<rect x="158.55" y="77.88" width="4.58" height="1" fill="#3ff01f" fill-opacity="0.8"/>
<rect x="163.43" y="77.88" width="1.2" height="1" fill="#3ff01f" fill-opacity="0.8"/>
<rect x="158.05" y="78.81" width="4.23" height="1" fill="#3ff01f" fill-opacity="0.8"/>
<rect x="162.83" y="78.81" width="1.32" height="1" fill="#3ff01f" fill-opacity="0.8"/>
<rect x="158.2" y="80.26" width="1.89" height="1" fill="#3ff01f" fill-opacity="0.8"/>
<rect x="159.06" y="82.38" width="4.09" height="1" fill="#3ff01f" fill-opacity="0.8"/>
<rect x="158.99" y="83.84" width="4.23" height="1" fill="#3ff01f" fill-opacity="0.8"/>
<rect x="158.87" y="86.45" width="1.77" height="1" fill="#3ff01f" fill-opacity="0.8"/>
<rect x="161.35" y="86.45" width="1.97" height="1" fill="#3ff01f" fill-opacity="0.8"/>
<rect x="158.4" y="87.77" width="2.57" height="1" fill="#3ff01f" fill-opacity="0.8"/>
<rect x="158.17" y="88.85" width="2.14" height="1" fill="#3ff01f" fill-opacity="0.8"/>
<rect x="160.95" y="88.85" width="3.08" height="1" fill="#3ff01f" fill-opacity="0.8"/>
<rect x="158.44" y="89.85" width="4.19" height="1" fill="#3ff01f" fill-opacity="0.8"/>
<rect x="163.7" y="89.85" width="1.2" height="1" fill="#3ff01f" fill-opacity="0.8"/>
<rect x="158.98" y="90.97" width="1.77" height="1" fill="#3ff01f" fill-opacity="0.8"/>
<rect x="161.25" y="90.97" width="1.98" height="1" fill="#3ff01f" fill-opacity="0.8"/>
<rect x="158.7" y="92.07" width="3.13" height="1" fill="#3ff01f" fill-opacity="0.8"/>
<rect x="158.43" y="93.02" width="5.34" height="1" fill="#3ff01f" fill-opacity="0.8"/>
<rect x="158.76" y="94.21" width="2.35" height="1" fill="#3ff01f" fill-opacity="0.8"/>
<rect x="161.42" y="94.21" width="2.01" height="1" fill="#3ff01f" fill-opacity="0.8"/>
<rect x="158.54" y="95.67" width="2.63" height="1" fill="#3ff01f" fill-opacity="0.8"/>
<rect x="161.61" y="95.67" width="1.62" height="1" fill="#3ff01f" fill-opacity="0.8"/>
<rect x="160.2" y="99.75" width="1.8" height="1.5" fill="#3ff01f"/>
<rect x="158.6" y="102.25" width="1.8" height="1.5" fill="#3ff01f"/>
<rect x="160.2" y="104.75" width="1.8" height="1.5" fill="#3ff01f"/>
<rect x="161.8" y="107.25" width="1.8" height="1.5" fill="#3ff01f"/>
<rect x="160.2" y="110.25" width="1.8" height="1.5" fill="#3ff01f"/>
<rect x="160.2" y="113.75" width="1.8" height="1.5" fill="#3ff01f"/>
<rect x="158.6" y="116.25" width="1.8" height="1.5" fill="#3ff01f"/>
<rect x="160.2" y="118.85" width="1.8" height="1.5" fill="#3ff01f"/>
<rect x="160.2" y="128.05" width="1.8" height="1.5" fill="#3ff01f"/>
<rect x="160.2" y="135.85" width="1.8" height="1.5" fill="#3ff01f"/>
<rect x="160.2" y="137.75" width="1.8" height="1.5" fill="#3ff01f"/>
<rect x="160.2" y="146.35" width="1.8" height="1.5" fill="#3ff01f"/>
<rect x="185" y="20.8" width="24" height="1.2" fill="#a31014"/>
<rect x="186.19" y="21.5" width="5.24" height="1" fill="#a31014" fill-opacity="0.8"/>
<rect x="192.05" y="21.5" width="2.33" height="1" fill="#a31014" fill-opacity="0.8"/>
<rect x="195" y="21.5" width="3.16" height="1" fill="#a31014" fill-opacity="0.8"/>
<rect x="198.83" y="21.5" width="5.24" height="1" fill="#a31014" fill-opacity="0.8"/>
<rect x="204.41" y="21.5" width="3.4" height="1" fill="#a31014" fill-opacity="0.8"/>
<rect x="185.66" y="22.69" width="5.75" height="1" fill="#a31014" fill-opacity="0.8"/>
<rect x="192.21" y="22.69" width="2.21" height="1" fill="#a31014" fill-opacity="0.8"/>
<rect x="195.3" y="22.69" width="1.86" height="1" fill="#a31014" fill-opacity="0.8"/>
<rect x="201.51" y="22.69" width="1.68" height="1" fill="#a31014" fill-opacity="0.8"/>
<rect x="203.68" y="22.69" width="4.66" height="1" fill="#a31014" fill-opacity="0.8"/>
<rect x="186.18" y="23.96" width="3.41" height="1" fill="#a31014" fill-opacity="0.8"/>
<rect x="190.56" y="23.96" width="3.82" height="1" fill="#a31014" fill-opacity="0.8"/>
<rect x="195.01" y="23.96" width="3.47" height="1" fill="#a31014" fill-opacity="0.8"/>
<rect x="199.61" y="23.96" width="5.57" height="1" fill="#a31014" fill-opacity="0.8"/>
<rect x="205.77" y="23.96" width="2.05" height="1" fill="#a31014" fill-opacity="0.8"/>
<rect x="189.27" y="24.87" width="2.96" height="1" fill="#a31014" fill-opacity="0.8"/>
<rect x="193.5" y="24.87" width="5.59" height="1" fill="#a31014" fill-opacity="0.8"/>
<rect x="200.37" y="24.87" width="4.36" height="1" fill="#a31014" fill-opacity="0.8"/>
<rect x="186.67" y="25.7" width="4.24" height="1" fill="#a31014" fill-opacity="0.8"/>
<rect x="191.78" y="25.7" width="5.79" height="1" fill="#a31014" fill-opacity="0.8"/>
<rect x="198.51" y="25.7" width="2.85" height="1" fill="#a31014" fill-opacity="0.8"/>
<rect x="202.55" y="25.7" width="1.63" height="1" fill="#a31014" fill-opacity="0.8"/>
<rect x="205.15" y="25.7" width="2.18" height="1" fill="#a31014" fill-opacity="0.8"/>
<rect x="189.26" y="26.7" width="3.37" height="1" fill="#a31014" fill-opacity="0.8"/>
<rect x="193.5" y="26.7" width="3.28" height="1" fill="#a31014" fill-opacity="0.8"/>
<rect x="197.26" y="26.7" width="5.5" height="1" fill="#a31014" fill-opacity="0.8"/>
<rect x="203.18" y="26.7" width="1.56" height="1" fill="#a31014" fill-opacity="0.8"/>
<rect x="190.39" y="27.8" width="3.7" height="1" fill="#a31014" fill-opacity="0.8"/>
<rect x="194.62" y="27.8" width="4.08" height="1" fill="#a31014" fill-opacity="0.8"/>
<rect x="199.51" y="27.8" width="4.09" height="1" fill="#a31014" fill-opacity="0.8"/>
<rect x="189.75" y="28.64" width="5.39" height="1" fill="#a31014" fill-opacity="0.8"/>
<rect x="196.15" y="28.64" width="4.91" height="1" fill="#a31014" fill-opacity="0.8"/>
<rect x="202.34" y="28.64" width="1.91" height="1" fill="#a31014" fill-opacity="0.8"/>
<rect x="190.67" y="29.65" width="5.82" height="1" fill="#a31014" fill-opacity="0.8"/>
<rect x="197.57" y="29.65" width="2.12" height="1" fill="#a31014" fill-opacity="0.8"/>
<rect x="200.04" y="29.65" width="2.57" height="1" fill="#a31014" fill-opacity="0.8"/>
<rect x="202.92" y="29.65" width="1.2" height="1" fill="#a31014" fill-opacity="0.8"/>
<rect x="189.79" y="30.84" width="5.5" height="1" fill="#a31014" fill-opacity="0.8"/>
<rect x="201.67" y="30.84" width="2.26" height="1" fill="#a31014" fill-opacity="0.8"/>
<rect x="188.92" y="32.06" width="5.22" height="1" fill="#a31014" fill-opacity="0.8"/>
<rect x="200.64" y="32.06" width="1.7" height="1" fill="#a31014" fill-opacity="0.8"/>
<rect x="202.74" y="32.06" width="2.34" height="1" fill="#a31014" fill-opacity="0.8"/>
<rect x="188.93" y="33.37" width="2.65" height="1" fill="#a31014" fill-opacity="0.8"/>
<rect x="192.33" y="33.37" width="5.27" height="1" fill="#a31014" fill-opacity="0.8"/>
<rect x="198.01" y="33.37" width="1.59" height="1" fill="#a31014" fill-opacity="0.8"/>
<rect x="200.71" y="33.37" width="2.33" height="1" fill="#a31014" fill-opacity="0.8"/>
<rect x="203.63" y="33.37" width="1.43" height="1" fill="#a31014" fill-opacity="0.8"/>
<rect x="189.76" y="34.65" width="4.6" height="1" fill="#a31014" fill-opacity="0.8"/>
<rect x="195.62" y="34.65" width="1.56" height="1" fill="#a31014" fill-opacity="0.8"/>
<rect x="197.63" y="34.65" width="3.76" height="1" fill="#a31014" fill-opacity="0.8"/>
<rect x="202.49" y="34.65" width="1.66" height="1" fill="#a31014" fill-opacity="0.8"/>
<rect x="190.34" y="35.82" width="3.64" height="1" fill="#a31014" fill-opacity="0.8"/>
<rect x="195.13" y="35.82" width="3.27" height="1" fill="#a31014" fill-opacity="0.8"/>
<rect x="199.31" y="35.82" width="1.84" height="1" fill="#a31014" fill-opacity="0.8"/>
<rect x="201.67" y="35.82" width="1.99" height="1" fill="#a31014" fill-opacity="0.8"/>
<rect x="190.44" y="36.72" width="3.6" height="1" fill="#a31014" fill-opacity="0.8"/>
<rect x="194.74" y="36.72" width="3.09" height="1" fill="#a31014" fill-opacity="0.8"/>
<rect x="198.71" y="36.72" width="3" height="1" fill="#a31014" fill-opacity="0.8"/>
<rect x="202.47" y="36.72" width="1.2" height="1" fill="#a31014" fill-opacity="0.8"/>
<rect x="190.73" y="37.89" width="2.73" height="1" fill="#a31014" fill-opacity="0.8"/>
<rect x="194.02" y="37.89" width="4.06" height="1" fill="#a31014" fill-opacity="0.8"/>
<rect x="199.34" y="37.89" width="3.93" height="1" fill="#a31014" fill-opacity="0.8"/>
<rect x="188.79" y="39.11" width="4.98" height="1" fill="#a31014" fill-opacity="0.8"/>
<rect x="194.71" y="39.11" width="3.13" height="1" fill="#a31014" fill-opacity="0.8"/>
<rect x="189.14" y="40.08" width="4.83" height="1" fill="#a31014" fill-opacity="0.8"/>
<rect x="194.9" y="40.08" width="3.08" height="1" fill="#a31014" fill-opacity="0.8"/>
<rect x="198.69" y="40.08" width="1.77" height="1" fill="#a31014" fill-opacity="0.8"/>
<rect x="201.08" y="40.08" width="3.78" height="1" fill="#a31014" fill-opacity="0.8"/>
<rect x="190.87" y="41.01" width="3.07" height="1" fill="#a31014" fill-opacity="0.8"/>
<rect x="194.25" y="41.01" width="5.42" height="1" fill="#a31014" fill-opacity="0.8"/>
<rect x="200.42" y="41.01" width="2.71" height="1" fill="#a31014" fill-opacity="0.8"/>
<rect x="191.65" y="41.85" width="2.89" height="1" fill="#a31014" fill-opacity="0.8"/>
<rect x="195.39" y="41.85" width="5.72" height="1" fill="#a31014" fill-opacity="0.8"/>
<rect x="202.33" y="41.85" width="1.2" height="1" fill="#a31014" fill-opacity="0.8"/>
<rect x="189.9" y="42.97" width="3.11" height="1" fill="#a31014" fill-opacity="0.8"/>
<rect x="193.74" y="42.97" width="5.41" height="1" fill="#a31014" fill-opacity="0.8"/>
<rect x="199.93" y="42.97" width="4.17" height="1" fill="#a31014" fill-opacity="0.8"/>
<rect x="192.16" y="43.78" width="2.71" height="1" fill="#a31014" fill-opacity="0.8"/>
<rect x="195.38" y="43.78" width="3.3" height="1" fill="#a31014" fill-opacity="0.8"/>
<rect x="199.58" y="43.78" width="2.26" height="1" fill="#a31014" fill-opacity="0.8"/>
<rect x="190.17" y="44.98" width="4.2" height="1" fill="#a31014" fill-opacity="0.8"/>
<rect x="195.48" y="44.98" width="5.44" height="1" fill="#a31014" fill-opacity="0.8"/>
<rect x="201.36" y="44.98" width="2.35" height="1" fill="#a31014" fill-opacity="0.8"/>
<rect x="190.38" y="46.14" width="2.46" height="1" fill="#a31014" fill-opacity="0.8"/>
<rect x="193.89" y="46.14" width="4.42" height="1" fill="#a31014" fill-opacity="0.8"/>
<rect x="199.29" y="46.14" width="3.02" height="1" fill="#a31014" fill-opacity="0.8"/>
<rect x="203.02" y="46.14" width="1.2" height="1" fill="#a31014" fill-opacity="0.8"/>
<rect x="191.3" y="47.21" width="2.66" height="1" fill="#a31014" fill-opacity="0.8"/>
<rect x="194.27" y="47.21" width="5.66" height="1" fill="#a31014" fill-opacity="0.8"/>
<rect x="201.23" y="47.21" width="1.47" height="1" fill="#a31014" fill-opacity="0.8"/>
<rect x="192.64" y="48.19" width="2.2" height="1" fill="#a31014" fill-opacity="0.8"/>
<rect x="195.91" y="48.19" width="1.9" height="1" fill="#a31014" fill-opacity="0.8"/>
<rect x="198.54" y="48.19" width="2.83" height="1" fill="#a31014" fill-opacity="0.8"/>
<rect x="192.25" y="49.35" width="2.99" height="1" fill="#a31014" fill-opacity="0.8"/>
<rect x="195.8" y="49.35" width="4.7" height="1" fill="#a31014" fill-opacity="0.8"/>
<rect x="201.58" y="49.35" width="1.2" height="1" fill="#a31014" fill-opacity="0.8"/>
<rect x="197.24" y="50.4" width="1.54" height="1" fill="#a31014" fill-opacity="0.8"/>
<rect x="199.73" y="50.4" width="1.32" height="1" fill="#a31014" fill-opacity="0.8"/>
<rect x="191.98" y="51.33" width="1.9" height="1" fill="#a31014" fill-opacity="0.8"/>
<rect x="194.31" y="51.33" width="1.77" height="1" fill="#a31014" fill-opacity="0.8"/>
<rect x="199.92" y="51.33" width="2.1" height="1" fill="#a31014" fill-opacity="0.8"/>
<rect x="193.23" y="52.63" width="1.63" height="1" fill="#a31014" fill-opacity="0.8"/>
<rect x="195.4" y="52.63" width="5.36" height="1" fill="#a31014" fill-opacity="0.8"/>
<rect x="191.94" y="53.62" width="3.57" height="1" fill="#a31014" fill-opacity="0.8"/>
<rect x="196.71" y="53.62" width="1.99" height="1" fill="#a31014" fill-opacity="0.8"/>
<rect x="199.06" y="53.62" width="3" height="1" fill="#a31014" fill-opacity="0.8"/>
<rect x="197.03" y="54.45" width="4.32" height="1" fill="#a31014" fill-opacity="0.8"/>
<rect x="192.73" y="55.4" width="2.54" height="1" fill="#a31014" fill-opacity="0.8"/>
<rect x="196.33" y="55.4" width="4.39" height="1" fill="#a31014" fill-opacity="0.8"/>
<rect x="192.47" y="56.32" width="2.21" height="1" fill="#a31014" fill-opacity="0.8"/>
<rect x="195.84" y="56.32" width="2.7" height="1" fill="#a31014" fill-opacity="0.8"/>
<rect x="199.67" y="56.32" width="1.86" height="1" fill="#a31014" fill-opacity="0.8"/>
<rect x="193.33" y="57.61" width="4.57" height="1" fill="#a31014" fill-opacity="0.8"/>
<rect x="193.06" y="58.89" width="5.01" height="1" fill="#a31014" fill-opacity="0.8"/>
<rect x="193.61" y="59.71" width="5.88" height="1" fill="#a31014" fill-opacity="0.8"/>
<rect x="192.52" y="60.59" width="1.94" height="1" fill="#a31014" fill-opacity="0.8"/>
<rect x="195.44" y="60.59" width="1.91" height="1" fill="#a31014" fill-opacity="0.8"/>
<rect x="193.53" y="61.41" width="5.06" height="1" fill="#a31014" fill-opacity="0.8"/>
<rect x="198.93" y="61.41" width="1.54" height="1" fill="#a31014" fill-opacity="0.8"/>
<rect x="193.99" y="62.27" width="5.96" height="1" fill="#a31014" fill-opacity="0.8"/>
<rect x="193.24" y="63.13" width="2.11" height="1" fill="#a31014" fill-opacity="0.8"/>
<rect x="195.83" y="63.13" width="4.58" height="1" fill="#a31014" fill-opacity="0.8"/>
<rect x="193.99" y="64.21" width="3.09" height="1" fill="#a31014" fill-opacity="0.8"/>
<rect x="198.3" y="64.21" width="1.72" height="1" fill="#a31014" fill-opacity="0.8"/>
<rect x="193.13" y="65.49" width="2.73" height="1" fill="#a31014" fill-opacity="0.8"/>
<rect x="196.42" y="65.49" width="1.81" height="1" fill="#a31014" fill-opacity="0.8"/>
<rect x="199.04" y="65.49" width="1.83" height="1" fill="#a31014" fill-opacity="0.8"/>
<rect x="193.33" y="66.3" width="4.44" height="1" fill="#a31014" fill-opacity="0.8"/>
<rect x="193.94" y="67.49" width="2.93" height="1" fill="#a31014" fill-opacity="0.8"/>
<rect x="198.15" y="67.49" width="1.91" height="1" fill="#a31014" fill-opacity="0.8"/>
<rect x="193.22" y="68.37" width="1.52" height="1" fill="#a31014" fill-opacity="0.8"/>
<rect x="195.97" y="68.37" width="2.65" height="1" fill="#a31014" fill-opacity="0.8"/>
<rect x="199.29" y="68.37" width="1.49" height="1" fill="#a31014" fill-opacity="0.8"/>
<rect x="193.72" y="69.64" width="5.59" height="1" fill="#a31014" fill-opacity="0.8"/>
<rect x="193.99" y="70.61" width="3.97" height="1" fill="#a31014" fill-opacity="0.8"/>
<rect x="199.23" y="70.61" width="1.2" height="1" fill="#a31014" fill-opacity="0.8"/>
<rect x="194.15" y="71.7" width="5.71" height="1" fill="#a31014" fill-opacity="0.8"/>
<rect x="194.51" y="72.9" width="4.7" height="1" fill="#a31014" fill-opacity="0.8"/>
<rect x="194.24" y="74.04" width="2.95" height="1" fill="#a31014" fill-opacity="0.8"/>
<rect x="198.03" y="74.04" width="1.73" height="1" fill="#a31014" fill-opacity="0.8"/>
<rect x="194.58" y="75.34" width="4.75" height="1" fill="#a31014" fill-opacity="0.8"/>
<rect x="195.02" y="76.26" width="3.96" height="1" fill="#a31014" fill-opacity="0.8"/>
<rect x="194.38" y="77.35" width="2.57" height="1" fill="#a31014" fill-opacity="0.8"/>
<rect x="198.08" y="77.35" width="1.54" height="1" fill="#a31014" fill-opacity="0.8"/>
<rect x="194.67" y="78" width="1.69" height="1" fill="#a31014" fill-opacity="0.8"/>
<rect x="197.5" y="78" width="1.83" height="1" fill="#a31014" fill-opacity="0.8"/>
<rect x="195.28" y="84.85" width="3.43" height="1" fill="#a31014" fill-opacity="0.8"/>
<rect x="196.1" y="87.25" width="1.8" height="1.5" fill="#a31014"/>
<rect x="196.1" y="92.75" width="1.8" height="1.5" fill="#a31014"/>
<rect x="196.1" y="101.15" width="1.8" height="1.5" fill="#a31014"/>
<rect x="196.1" y="108.45" width="1.8" height="1.5" fill="#a31014"/>
<rect x="196.1" y="128.85" width="1.8" height="1.5" fill="#a31014"/>
<line x1="43.3" y1="42.3" x2="66.9" y2="42.3" stroke="#1a1a1a" stroke-width="1.4"/>
<line x1="78.9" y1="42.5" x2="102.4" y2="42.5" stroke="#333" stroke-width="1.4"/>
<line x1="114.1" y1="40.2" x2="137.8" y2="40.2" stroke="#1a1a1a" stroke-width="1.4"/>
<line x1="149.9" y1="41.3" x2="173.4" y2="41.3" stroke="#777" stroke-width="1.5"/>
<line x1="185" y1="34.9" x2="209" y2="34.9" stroke="#777" stroke-width="1.5"/>
<path d="M52.2 7.6V5.9H160.5V7.6" fill="none" stroke="#9a9a9a" stroke-width="0.9"/>
<path d="M52.2 11.2V9.5H122.8V11.2" fill="none" stroke="#9a9a9a" stroke-width="0.9"/>
<path d="M91 14.4V12.7H161.8V14.4" fill="none" stroke="#9a9a9a" stroke-width="0.9"/>
<path d="M52.2 17.9V16.2H88V17.9" fill="none" stroke="#9a9a9a" stroke-width="0.9"/>
<path d="M91.2 17.9V16.2H124.5V17.9" fill="none" stroke="#9a9a9a" stroke-width="0.9"/>
<path d="M129.6 17.9V16.2H161.8V17.9" fill="none" stroke="#666" stroke-width="0.9"/>
<text x="109.6" y="4.6" class="ns">n.s</text>
<line x1="257.4" y1="11.4" x2="257.4" y2="147.8" stroke="#222" stroke-width="1.3"/>
<line x1="255.4" y1="147.3" x2="257.4" y2="147.3" stroke="#222" stroke-width="1.1"/>
<text x="254" y="150.5" class="tk">0</text>
<line x1="255.4" y1="116.38" x2="257.4" y2="116.38" stroke="#222" stroke-width="1.1"/>
<text x="254" y="119.58" class="tk">25</text>
<line x1="255.4" y1="85.45" x2="257.4" y2="85.45" stroke="#222" stroke-width="1.1"/>
<text x="254" y="88.65" class="tk">50</text>
<line x1="255.4" y1="54.52" x2="257.4" y2="54.52" stroke="#222" stroke-width="1.1"/>
<text x="254" y="57.72" class="tk">75</text>
<line x1="255.4" y1="23.6" x2="257.4" y2="23.6" stroke="#222" stroke-width="1.1"/>
<text x="254" y="26.8" class="tk">100</text>
<line x1="265" y1="155.4" x2="439.9" y2="155.4" stroke="#222" stroke-width="1.3"/>
<line x1="282.3" y1="155.4" x2="282.3" y2="157.4" stroke="#222" stroke-width="1.1"/>
<text x="282.3" y="165.9" class="cl">Pooled</text>
<line x1="317.32" y1="155.4" x2="317.32" y2="157.4" stroke="#222" stroke-width="1.1"/>
<text x="317.32" y="165.9" class="cl">Folch</text>
<line x1="352.34" y1="155.4" x2="352.34" y2="157.4" stroke="#222" stroke-width="1.1"/>
<text x="352.34" y="165.9" class="cl">MTBE</text>
<line x1="387.36" y1="155.4" x2="387.36" y2="157.4" stroke="#222" stroke-width="1.1"/>
<text x="387.36" y="165.9" class="cl">Bligh</text>
<line x1="422.38" y1="155.4" x2="422.38" y2="157.4" stroke="#222" stroke-width="1.1"/>
<text x="422.38" y="165.9" class="cl">MMC</text>
<text transform="translate(234.7,79.3) rotate(-90)" class="yl">Relative average lipid level (%)</text>
<text x="435.5" y="13.4" class="lt">b</text>
<rect x="281" y="29.55" width="1.8" height="1.5" fill="#4a9bff"/>
<rect x="278.9" y="35.85" width="1.8" height="1.5" fill="#4a9bff"/>
<rect x="281" y="35.85" width="1.8" height="1.5" fill="#4a9bff"/>
<rect x="283.4" y="35.85" width="1.8" height="1.5" fill="#4a9bff"/>
<rect x="285.9" y="35.85" width="1.8" height="1.5" fill="#4a9bff"/>
<rect x="276.5" y="40.05" width="1.8" height="1.5" fill="#4a9bff"/>
<rect x="278.9" y="40.05" width="1.8" height="1.5" fill="#4a9bff"/>
<rect x="281" y="40.05" width="1.8" height="1.5" fill="#4a9bff"/>
<rect x="283.4" y="40.05" width="1.8" height="1.5" fill="#4a9bff"/>
<rect x="276.5" y="45.45" width="1.8" height="1.5" fill="#4a9bff"/>
<rect x="281" y="45.45" width="1.8" height="1.5" fill="#4a9bff"/>
<rect x="283.4" y="45.45" width="1.8" height="1.5" fill="#4a9bff"/>
<rect x="278.9" y="47.65" width="1.8" height="1.5" fill="#4a9bff"/>
<rect x="281" y="47.65" width="1.8" height="1.5" fill="#4a9bff"/>
<rect x="283.4" y="47.65" width="1.8" height="1.5" fill="#4a9bff"/>
<rect x="281" y="49.45" width="1.8" height="1.5" fill="#4a9bff"/>
<rect x="278.9" y="53.05" width="1.8" height="1.5" fill="#4a9bff"/>
<rect x="281" y="53.05" width="1.8" height="1.5" fill="#4a9bff"/>
<rect x="281" y="59.05" width="1.8" height="1.5" fill="#4a9bff"/>
<rect x="307.3" y="22.85" width="1.8" height="1.5" fill="#2d3cff"/>
<rect x="309.32" y="22.85" width="1.8" height="1.5" fill="#2d3cff"/>
<rect x="311.34" y="22.85" width="1.8" height="1.5" fill="#2d3cff"/>
<rect x="313.37" y="22.85" width="1.8" height="1.5" fill="#2d3cff"/>
<rect x="315.39" y="22.85" width="1.8" height="1.5" fill="#2d3cff"/>
<rect x="317.41" y="22.85" width="1.8" height="1.5" fill="#2d3cff"/>
<rect x="319.43" y="22.85" width="1.8" height="1.5" fill="#2d3cff"/>
<rect x="321.46" y="22.85" width="1.8" height="1.5" fill="#2d3cff"/>
<rect x="323.48" y="22.85" width="1.8" height="1.5" fill="#2d3cff"/>
<rect x="325.5" y="22.85" width="1.8" height="1.5" fill="#2d3cff"/>
<rect x="316.1" y="26.85" width="1.8" height="1.5" fill="#2d3cff"/>
<rect x="314.3" y="31.55" width="1.8" height="1.5" fill="#2d3cff"/>
<rect x="316.1" y="31.55" width="1.8" height="1.5" fill="#2d3cff"/>
<rect x="316.1" y="34.95" width="1.8" height="1.5" fill="#2d3cff"/>
<rect x="314.3" y="39.15" width="1.8" height="1.5" fill="#2d3cff"/>
<rect x="316.1" y="39.15" width="1.8" height="1.5" fill="#2d3cff"/>
<rect x="318.5" y="39.15" width="1.8" height="1.5" fill="#2d3cff"/>
<rect x="316.1" y="41.65" width="1.8" height="1.5" fill="#2d3cff"/>
<rect x="316.1" y="44.75" width="1.8" height="1.5" fill="#2d3cff"/>
<rect x="316.1" y="54.25" width="1.8" height="1.5" fill="#2d3cff"/>
<rect x="351.3" y="22.95" width="1.8" height="1.5" fill="#a6cf1c"/>
<rect x="353.6" y="22.95" width="1.8" height="1.5" fill="#a6cf1c"/>
<rect x="346.6" y="23.85" width="1.8" height="1.5" fill="#a6cf1c"/>
<rect x="355.8" y="23.85" width="1.8" height="1.5" fill="#a6cf1c"/>
<rect x="349.5" y="24.55" width="1.8" height="1.5" fill="#a6cf1c"/>
<rect x="351.3" y="26.05" width="1.8" height="1.5" fill="#a6cf1c"/>
<rect x="353.6" y="26.05" width="1.8" height="1.5" fill="#a6cf1c"/>
<rect x="351.3" y="28.25" width="1.8" height="1.5" fill="#a6cf1c"/>
<rect x="348.8" y="31.15" width="1.8" height="1.5" fill="#a6cf1c"/>
<rect x="351.3" y="31.85" width="1.8" height="1.5" fill="#a6cf1c"/>
<rect x="348.8" y="39.85" width="1.8" height="1.5" fill="#a6cf1c"/>
<rect x="351.3" y="39.85" width="1.8" height="1.5" fill="#a6cf1c"/>
<rect x="353.6" y="39.85" width="1.8" height="1.5" fill="#a6cf1c"/>
<rect x="353.6" y="44.65" width="1.8" height="1.5" fill="#a6cf1c"/>
<rect x="351.3" y="45.15" width="1.8" height="1.5" fill="#a6cf1c"/>
<rect x="348.8" y="46.85" width="1.8" height="1.5" fill="#a6cf1c"/>
<rect x="351.3" y="47.95" width="1.8" height="1.5" fill="#a6cf1c"/>
<rect x="351.3" y="58.45" width="1.8" height="1.5" fill="#a6cf1c"/>
<rect x="386.4" y="37.35" width="1.8" height="1.5" fill="#3ff01f"/>
<rect x="386.1" y="74.95" width="1.8" height="1.5" fill="#3ff01f"/>
<rect x="383.9" y="77.85" width="1.8" height="1.5" fill="#3ff01f"/>
<rect x="386.1" y="79.85" width="1.8" height="1.5" fill="#3ff01f"/>
<rect x="386.1" y="82.95" width="1.8" height="1.5" fill="#3ff01f"/>
<rect x="383.9" y="86.75" width="1.8" height="1.5" fill="#3ff01f"/>
<rect x="388.6" y="86.75" width="1.8" height="1.5" fill="#3ff01f"/>
<rect x="386.1" y="87.65" width="1.8" height="1.5" fill="#3ff01f"/>
<rect x="386.1" y="92.25" width="1.8" height="1.5" fill="#3ff01f"/>
<rect x="386.1" y="96.05" width="1.8" height="1.5" fill="#3ff01f"/>
<rect x="386.1" y="104.55" width="1.8" height="1.5" fill="#3ff01f"/>
<rect x="383.9" y="106.55" width="1.8" height="1.5" fill="#3ff01f"/>
<rect x="386.1" y="108.55" width="1.8" height="1.5" fill="#3ff01f"/>
<rect x="388.6" y="108.55" width="1.8" height="1.5" fill="#3ff01f"/>
<rect x="386.1" y="110.75" width="1.8" height="1.5" fill="#3ff01f"/>
<rect x="383.9" y="116.75" width="1.8" height="1.5" fill="#3ff01f"/>
<rect x="386.1" y="119.25" width="1.8" height="1.5" fill="#3ff01f"/>
<rect x="386.1" y="128.85" width="1.8" height="1.5" fill="#3ff01f"/>
<rect x="386.1" y="138.15" width="1.8" height="1.5" fill="#3ff01f"/>
<rect x="386.1" y="143.45" width="1.8" height="1.5" fill="#3ff01f"/>
<rect x="412.3" y="23.05" width="1.8" height="1.5" fill="#a31014"/>
<rect x="414.32" y="23.05" width="1.8" height="1.5" fill="#a31014"/>
<rect x="416.34" y="23.05" width="1.8" height="1.5" fill="#a31014"/>
<rect x="418.37" y="23.05" width="1.8" height="1.5" fill="#a31014"/>
<rect x="420.39" y="23.05" width="1.8" height="1.5" fill="#a31014"/>
<rect x="422.41" y="23.05" width="1.8" height="1.5" fill="#a31014"/>
<rect x="424.43" y="23.05" width="1.8" height="1.5" fill="#a31014"/>
<rect x="426.46" y="23.05" width="1.8" height="1.5" fill="#a31014"/>
<rect x="428.48" y="23.05" width="1.8" height="1.5" fill="#a31014"/>
<rect x="430.5" y="23.05" width="1.8" height="1.5" fill="#a31014"/>
<rect x="420.3" y="24.05" width="1.8" height="1.5" fill="#a31014"/>
<rect x="419.1" y="27.75" width="1.8" height="1.5" fill="#a31014"/>
<rect x="423.8" y="27.75" width="1.8" height="1.5" fill="#a31014"/>
<rect x="421.3" y="28.45" width="1.8" height="1.5" fill="#a31014"/>
<rect x="421.3" y="32.25" width="1.8" height="1.5" fill="#a31014"/>
<rect x="421.3" y="36.25" width="1.8" height="1.5" fill="#a31014"/>
<rect x="419.1" y="40.25" width="1.8" height="1.5" fill="#a31014"/>
<rect x="421.3" y="40.25" width="1.8" height="1.5" fill="#a31014"/>
<rect x="421.3" y="44.55" width="1.8" height="1.5" fill="#a31014"/>
<rect x="421.3" y="50.05" width="1.8" height="1.5" fill="#a31014"/>
<rect x="421.3" y="66.45" width="1.8" height="1.5" fill="#a31014"/>
<line x1="270.5" y1="44.38" x2="294.1" y2="44.38" stroke="#222" stroke-width="1.3"/>
<line x1="305.52" y1="31.39" x2="329.12" y2="31.39" stroke="#222" stroke-width="1.3"/>
<line x1="340.54" y1="35.23" x2="364.14" y2="35.23" stroke="#555" stroke-width="1.3"/>
<line x1="375.56" y1="100.17" x2="399.16" y2="100.17" stroke="#222" stroke-width="1.3"/>
<line x1="410.58" y1="32.26" x2="434.18" y2="32.26" stroke="#555" stroke-width="1.3"/>
<path d="M316.3 17V15.3H421.6V17" fill="none" stroke="#9a9a9a" stroke-width="0.9"/>
<path d="M316.3 21.1V19.4H350.7V21.1" fill="none" stroke="#9a9a9a" stroke-width="0.9"/>
<path d="M353.1 21.1V19.4H421.6V21.1" fill="none" stroke="#9a9a9a" stroke-width="0.9"/>
<text x="367.4" y="13.6" class="ns">n.s</text>
<line x1="491.4" y1="7.3" x2="491.4" y2="147.8" stroke="#333" stroke-width="1.3"/>
<line x1="489.4" y1="147.3" x2="491.4" y2="147.3" stroke="#333" stroke-width="1.1"/>
<text x="488" y="150.5" class="tk">0</text>
<line x1="489.4" y1="115.4" x2="491.4" y2="115.4" stroke="#333" stroke-width="1.1"/>
<text x="488" y="118.6" class="tk">25</text>
<line x1="489.4" y1="83.5" x2="491.4" y2="83.5" stroke="#333" stroke-width="1.1"/>
<text x="488" y="86.7" class="tk">50</text>
<line x1="489.4" y1="51.6" x2="491.4" y2="51.6" stroke="#333" stroke-width="1.1"/>
<text x="488" y="54.8" class="tk">75</text>
<line x1="489.4" y1="19.7" x2="491.4" y2="19.7" stroke="#333" stroke-width="1.1"/>
<text x="488" y="22.9" class="tk">100</text>
<line x1="499.2" y1="155.3" x2="679.8" y2="155.3" stroke="#222" stroke-width="1.3"/>
<line x1="517.5" y1="155.3" x2="517.5" y2="157.3" stroke="#222" stroke-width="1.1"/>
<text x="517.5" y="165.8" class="cl">Pooled</text>
<line x1="553.5" y1="155.3" x2="553.5" y2="157.3" stroke="#222" stroke-width="1.1"/>
<text x="553.5" y="165.8" class="cl">Folch</text>
<line x1="589.5" y1="155.3" x2="589.5" y2="157.3" stroke="#222" stroke-width="1.1"/>
<text x="589.5" y="165.8" class="cl">MTBE</text>
<line x1="625.5" y1="155.3" x2="625.5" y2="157.3" stroke="#222" stroke-width="1.1"/>
<text x="625.5" y="165.8" class="cl">Bligh</text>
<line x1="661.5" y1="155.3" x2="661.5" y2="157.3" stroke="#222" stroke-width="1.1"/>
<text x="661.5" y="165.8" class="cl">MMC</text>
<text transform="translate(469.3,77.9) rotate(-90)" class="yl">Relative average lipid level (%)</text>
<text x="676.5" y="14.8" class="lt">c</text>
<rect x="505.5" y="18.95" width="1.8" height="1.5" fill="#4a9bff"/>
<rect x="507.6" y="18.95" width="1.8" height="1.5" fill="#4a9bff"/>
<rect x="509.7" y="18.95" width="1.8" height="1.5" fill="#4a9bff"/>
<rect x="511.8" y="18.95" width="1.8" height="1.5" fill="#4a9bff"/>
<rect x="513.9" y="18.95" width="1.8" height="1.5" fill="#4a9bff"/>
<rect x="516" y="18.95" width="1.8" height="1.5" fill="#4a9bff"/>
<rect x="518.1" y="18.95" width="1.8" height="1.5" fill="#4a9bff"/>
<rect x="520.2" y="18.95" width="1.8" height="1.5" fill="#4a9bff"/>
<rect x="522.3" y="18.95" width="1.8" height="1.5" fill="#4a9bff"/>
<rect x="524.4" y="18.95" width="1.8" height="1.5" fill="#4a9bff"/>
<rect x="526.5" y="18.95" width="1.8" height="1.5" fill="#4a9bff"/>
<rect x="507.65" y="20.23" width="1.7" height="1.45" fill="#4a9bff"/>
<rect x="509.75" y="20.52" width="1.7" height="1.45" fill="#4a9bff"/>
<rect x="511.85" y="20.5" width="1.7" height="1.45" fill="#4a9bff"/>
<rect x="513.95" y="20.35" width="1.7" height="1.45" fill="#4a9bff"/>
<rect x="516.05" y="20.44" width="1.7" height="1.45" fill="#4a9bff"/>
<rect x="518.15" y="20.47" width="1.7" height="1.45" fill="#4a9bff"/>
<rect x="520.25" y="20.29" width="1.7" height="1.45" fill="#4a9bff"/>
<rect x="524.45" y="20.62" width="1.7" height="1.45" fill="#4a9bff"/>
<rect x="506.6" y="22.25" width="1.7" height="1.45" fill="#4a9bff"/>
<rect x="508.7" y="22.1" width="1.7" height="1.45" fill="#4a9bff"/>
<rect x="510.8" y="22.3" width="1.7" height="1.45" fill="#4a9bff"/>
<rect x="512.9" y="22.09" width="1.7" height="1.45" fill="#4a9bff"/>
<rect x="515" y="22.36" width="1.7" height="1.45" fill="#4a9bff"/>
<rect x="517.1" y="22.38" width="1.7" height="1.45" fill="#4a9bff"/>
<rect x="519.2" y="22.08" width="1.7" height="1.45" fill="#4a9bff"/>
<rect x="521.3" y="22.06" width="1.7" height="1.45" fill="#4a9bff"/>
<rect x="523.4" y="22.27" width="1.7" height="1.45" fill="#4a9bff"/>
<rect x="525.5" y="22.16" width="1.7" height="1.45" fill="#4a9bff"/>
<rect x="526.55" y="22.34" width="1.7" height="1.45" fill="#4a9bff"/>
<rect x="508.7" y="23.85" width="1.7" height="1.45" fill="#4a9bff"/>
<rect x="510.8" y="23.99" width="1.7" height="1.45" fill="#4a9bff"/>
<rect x="512.9" y="23.53" width="1.7" height="1.45" fill="#4a9bff"/>
<rect x="515" y="23.56" width="1.7" height="1.45" fill="#4a9bff"/>
<rect x="517.1" y="23.5" width="1.7" height="1.45" fill="#4a9bff"/>
<rect x="519.2" y="23.6" width="1.7" height="1.45" fill="#4a9bff"/>
<rect x="521.3" y="23.96" width="1.7" height="1.45" fill="#4a9bff"/>
<rect x="523.4" y="23.66" width="1.7" height="1.45" fill="#4a9bff"/>
<rect x="524.45" y="23.73" width="1.7" height="1.45" fill="#4a9bff"/>
<rect x="505.55" y="24.88" width="1.7" height="1.45" fill="#4a9bff"/>
<rect x="507.65" y="25.11" width="1.7" height="1.45" fill="#4a9bff"/>
<rect x="509.75" y="25.17" width="1.7" height="1.45" fill="#4a9bff"/>
<rect x="511.85" y="25.07" width="1.7" height="1.45" fill="#4a9bff"/>
<rect x="513.95" y="25.18" width="1.7" height="1.45" fill="#4a9bff"/>
<rect x="516.05" y="25.12" width="1.7" height="1.45" fill="#4a9bff"/>
<rect x="520.25" y="25.27" width="1.7" height="1.45" fill="#4a9bff"/>
<rect x="522.35" y="25" width="1.7" height="1.45" fill="#4a9bff"/>
<rect x="524.45" y="24.84" width="1.7" height="1.45" fill="#4a9bff"/>
<rect x="508.7" y="26.57" width="1.7" height="1.45" fill="#4a9bff"/>
<rect x="510.8" y="26.44" width="1.7" height="1.45" fill="#4a9bff"/>
<rect x="512.9" y="26.58" width="1.7" height="1.45" fill="#4a9bff"/>
<rect x="515" y="26.37" width="1.7" height="1.45" fill="#4a9bff"/>
<rect x="517.1" y="26.46" width="1.7" height="1.45" fill="#4a9bff"/>
<rect x="519.2" y="26.39" width="1.7" height="1.45" fill="#4a9bff"/>
<rect x="521.3" y="26.35" width="1.7" height="1.45" fill="#4a9bff"/>
<rect x="523.4" y="26.71" width="1.7" height="1.45" fill="#4a9bff"/>
<rect x="524.45" y="26.6" width="1.7" height="1.45" fill="#4a9bff"/>
<rect x="506.6" y="28.06" width="1.7" height="1.45" fill="#4a9bff"/>
<rect x="508.7" y="27.62" width="1.7" height="1.45" fill="#4a9bff"/>
<rect x="510.8" y="27.86" width="1.7" height="1.45" fill="#4a9bff"/>
<rect x="512.9" y="27.88" width="1.7" height="1.45" fill="#4a9bff"/>
<rect x="515" y="27.74" width="1.7" height="1.45" fill="#4a9bff"/>
<rect x="517.1" y="27.74" width="1.7" height="1.45" fill="#4a9bff"/>
<rect x="519.2" y="28" width="1.7" height="1.45" fill="#4a9bff"/>
<rect x="521.3" y="27.83" width="1.7" height="1.45" fill="#4a9bff"/>
<rect x="523.4" y="27.82" width="1.7" height="1.45" fill="#4a9bff"/>
<rect x="525.5" y="27.63" width="1.7" height="1.45" fill="#4a9bff"/>
<rect x="526.55" y="27.92" width="1.7" height="1.45" fill="#4a9bff"/>
<rect x="505.55" y="29.17" width="1.7" height="1.45" fill="#4a9bff"/>
<rect x="507.65" y="29.28" width="1.7" height="1.45" fill="#4a9bff"/>
<rect x="509.75" y="29" width="1.7" height="1.45" fill="#4a9bff"/>
<rect x="511.85" y="29.28" width="1.7" height="1.45" fill="#4a9bff"/>
<rect x="513.95" y="29.32" width="1.7" height="1.45" fill="#4a9bff"/>
<rect x="516.05" y="29" width="1.7" height="1.45" fill="#4a9bff"/>
<rect x="518.15" y="29.28" width="1.7" height="1.45" fill="#4a9bff"/>
<rect x="520.25" y="29.15" width="1.7" height="1.45" fill="#4a9bff"/>
<rect x="522.35" y="28.96" width="1.7" height="1.45" fill="#4a9bff"/>
<rect x="524.45" y="29.03" width="1.7" height="1.45" fill="#4a9bff"/>
<rect x="526.55" y="29.27" width="1.7" height="1.45" fill="#4a9bff"/>
<rect x="507.65" y="30.46" width="1.7" height="1.45" fill="#4a9bff"/>
<rect x="509.75" y="30.62" width="1.7" height="1.45" fill="#4a9bff"/>
<rect x="511.85" y="30.83" width="1.7" height="1.45" fill="#4a9bff"/>
<rect x="513.95" y="30.75" width="1.7" height="1.45" fill="#4a9bff"/>
<rect x="516.05" y="30.55" width="1.7" height="1.45" fill="#4a9bff"/>
<rect x="518.15" y="30.67" width="1.7" height="1.45" fill="#4a9bff"/>
<rect x="520.25" y="30.87" width="1.7" height="1.45" fill="#4a9bff"/>
<rect x="522.35" y="30.51" width="1.7" height="1.45" fill="#4a9bff"/>
<rect x="508.7" y="32.1" width="1.7" height="1.45" fill="#4a9bff"/>
<rect x="510.8" y="32.06" width="1.7" height="1.45" fill="#4a9bff"/>
<rect x="512.9" y="32.04" width="1.7" height="1.45" fill="#4a9bff"/>
<rect x="515" y="31.88" width="1.7" height="1.45" fill="#4a9bff"/>
<rect x="517.1" y="31.89" width="1.7" height="1.45" fill="#4a9bff"/>
<rect x="519.2" y="32.32" width="1.7" height="1.45" fill="#4a9bff"/>
<rect x="521.3" y="32.09" width="1.7" height="1.45" fill="#4a9bff"/>
<rect x="523.4" y="32" width="1.7" height="1.45" fill="#4a9bff"/>
<rect x="524.45" y="32.07" width="1.7" height="1.45" fill="#4a9bff"/>
<rect x="508.7" y="33.65" width="1.7" height="1.45" fill="#4a9bff"/>
<rect x="510.8" y="33.88" width="1.7" height="1.45" fill="#4a9bff"/>
<rect x="512.9" y="33.73" width="1.7" height="1.45" fill="#4a9bff"/>
<rect x="515" y="33.88" width="1.7" height="1.45" fill="#4a9bff"/>
<rect x="517.1" y="33.79" width="1.7" height="1.45" fill="#4a9bff"/>
<rect x="519.2" y="33.79" width="1.7" height="1.45" fill="#4a9bff"/>
<rect x="521.3" y="33.5" width="1.7" height="1.45" fill="#4a9bff"/>
<rect x="523.4" y="33.57" width="1.7" height="1.45" fill="#4a9bff"/>
<rect x="508.7" y="35.04" width="1.7" height="1.45" fill="#4a9bff"/>
<rect x="510.8" y="35.01" width="1.7" height="1.45" fill="#4a9bff"/>
<rect x="512.9" y="35.07" width="1.7" height="1.45" fill="#4a9bff"/>
<rect x="515" y="35.2" width="1.7" height="1.45" fill="#4a9bff"/>
<rect x="517.1" y="35.19" width="1.7" height="1.45" fill="#4a9bff"/>
<rect x="519.2" y="35.22" width="1.7" height="1.45" fill="#4a9bff"/>
<rect x="521.3" y="34.93" width="1.7" height="1.45" fill="#4a9bff"/>
<rect x="523.4" y="34.97" width="1.7" height="1.45" fill="#4a9bff"/>
<rect x="508.7" y="21.39" width="1.7" height="1.45" fill="#4a9bff"/>
<rect x="512.9" y="21.36" width="1.7" height="1.45" fill="#4a9bff"/>
<rect x="515" y="21.03" width="1.7" height="1.45" fill="#4a9bff"/>
<rect x="521.3" y="21.16" width="1.7" height="1.45" fill="#4a9bff"/>
<rect x="523.4" y="21.14" width="1.7" height="1.45" fill="#4a9bff"/>
<rect x="524.45" y="21.16" width="1.7" height="1.45" fill="#4a9bff"/>
<rect x="507.65" y="22.81" width="1.7" height="1.45" fill="#4a9bff"/>
<rect x="509.75" y="22.72" width="1.7" height="1.45" fill="#4a9bff"/>
<rect x="511.85" y="22.74" width="1.7" height="1.45" fill="#4a9bff"/>
<rect x="513.95" y="22.6" width="1.7" height="1.45" fill="#4a9bff"/>
<rect x="516.05" y="22.98" width="1.7" height="1.45" fill="#4a9bff"/>
<rect x="518.15" y="22.99" width="1.7" height="1.45" fill="#4a9bff"/>
<rect x="520.25" y="23.01" width="1.7" height="1.45" fill="#4a9bff"/>
<rect x="522.35" y="22.94" width="1.7" height="1.45" fill="#4a9bff"/>
<rect x="524.45" y="22.89" width="1.7" height="1.45" fill="#4a9bff"/>
<rect x="509.75" y="24.25" width="1.7" height="1.45" fill="#4a9bff"/>
<rect x="511.85" y="24.22" width="1.7" height="1.45" fill="#4a9bff"/>
<rect x="513.95" y="24.27" width="1.7" height="1.45" fill="#4a9bff"/>
<rect x="516.05" y="24.05" width="1.7" height="1.45" fill="#4a9bff"/>
<rect x="520.25" y="24.34" width="1.7" height="1.45" fill="#4a9bff"/>
<rect x="524.45" y="24.1" width="1.7" height="1.45" fill="#4a9bff"/>
<rect x="526.55" y="24.04" width="1.7" height="1.45" fill="#4a9bff"/>
<rect x="508.7" y="25.95" width="1.7" height="1.45" fill="#4a9bff"/>
<rect x="510.8" y="26" width="1.7" height="1.45" fill="#4a9bff"/>
<rect x="512.9" y="26.01" width="1.7" height="1.45" fill="#4a9bff"/>
<rect x="515" y="25.75" width="1.7" height="1.45" fill="#4a9bff"/>
<rect x="517.1" y="25.66" width="1.7" height="1.45" fill="#4a9bff"/>
<rect x="523.4" y="25.71" width="1.7" height="1.45" fill="#4a9bff"/>
<rect x="524.45" y="25.64" width="1.7" height="1.45" fill="#4a9bff"/>
<rect x="511.85" y="27.18" width="1.7" height="1.45" fill="#4a9bff"/>
<rect x="522.35" y="27.24" width="1.7" height="1.45" fill="#4a9bff"/>
<rect x="508.7" y="28.95" width="1.7" height="1.45" fill="#4a9bff"/>
<rect x="510.8" y="28.93" width="1.7" height="1.45" fill="#4a9bff"/>
<rect x="512.9" y="28.67" width="1.7" height="1.45" fill="#4a9bff"/>
<rect x="517.1" y="28.57" width="1.7" height="1.45" fill="#4a9bff"/>
<rect x="519.2" y="28.94" width="1.7" height="1.45" fill="#4a9bff"/>
<rect x="523.4" y="28.74" width="1.7" height="1.45" fill="#4a9bff"/>
<rect x="507.65" y="30.61" width="1.7" height="1.45" fill="#4a9bff"/>
<rect x="516.05" y="30.51" width="1.7" height="1.45" fill="#4a9bff"/>
<rect x="518.15" y="30.66" width="1.7" height="1.45" fill="#4a9bff"/>
<rect x="520.25" y="30.69" width="1.7" height="1.45" fill="#4a9bff"/>
<rect x="524.45" y="30.55" width="1.7" height="1.45" fill="#4a9bff"/>
<rect x="512.9" y="36.07" width="1.7" height="1.45" fill="#4a9bff"/>
<rect x="519.2" y="36.32" width="1.7" height="1.45" fill="#4a9bff"/>
<rect x="513.95" y="37.83" width="1.7" height="1.45" fill="#4a9bff"/>
<rect x="516.05" y="37.7" width="1.7" height="1.45" fill="#4a9bff"/>
<rect x="518.15" y="37.67" width="1.7" height="1.45" fill="#4a9bff"/>
<rect x="520.25" y="37.86" width="1.7" height="1.45" fill="#4a9bff"/>
<rect x="522.35" y="37.8" width="1.7" height="1.45" fill="#4a9bff"/>
<rect x="510.8" y="40.19" width="1.7" height="1.45" fill="#4a9bff"/>
<rect x="512.9" y="40.03" width="1.7" height="1.45" fill="#4a9bff"/>
<rect x="517.1" y="40.37" width="1.7" height="1.45" fill="#4a9bff"/>
<rect x="519.2" y="40.09" width="1.7" height="1.45" fill="#4a9bff"/>
<rect x="521.3" y="40.01" width="1.7" height="1.45" fill="#4a9bff"/>
<rect x="510.8" y="41.93" width="1.7" height="1.45" fill="#4a9bff"/>
<rect x="522.35" y="41.77" width="1.7" height="1.45" fill="#4a9bff"/>
<rect x="511.85" y="44.37" width="1.7" height="1.45" fill="#4a9bff"/>
<rect x="513.95" y="44.14" width="1.7" height="1.45" fill="#4a9bff"/>
<rect x="516.05" y="44.24" width="1.7" height="1.45" fill="#4a9bff"/>
<rect x="520.25" y="44.15" width="1.7" height="1.45" fill="#4a9bff"/>
<rect x="510.8" y="46.53" width="1.7" height="1.45" fill="#4a9bff"/>
<rect x="512.9" y="46.7" width="1.7" height="1.45" fill="#4a9bff"/>
<rect x="515" y="46.55" width="1.7" height="1.45" fill="#4a9bff"/>
<rect x="519.2" y="46.48" width="1.7" height="1.45" fill="#4a9bff"/>
<rect x="513.95" y="48.58" width="1.7" height="1.45" fill="#4a9bff"/>
<rect x="516.05" y="50.24" width="1.7" height="1.45" fill="#4a9bff"/>
<rect x="518.15" y="50.56" width="1.7" height="1.45" fill="#4a9bff"/>
<rect x="509.75" y="52.07" width="1.7" height="1.45" fill="#4a9bff"/>
<rect x="516.05" y="52.17" width="1.7" height="1.45" fill="#4a9bff"/>
<rect x="518.15" y="52.05" width="1.7" height="1.45" fill="#4a9bff"/>
<rect x="520.25" y="51.82" width="1.7" height="1.45" fill="#4a9bff"/>
<rect x="508.7" y="53.81" width="1.7" height="1.45" fill="#4a9bff"/>
<rect x="517.1" y="53.79" width="1.7" height="1.45" fill="#4a9bff"/>
<rect x="519.2" y="54.16" width="1.7" height="1.45" fill="#4a9bff"/>
<rect x="521.3" y="54.09" width="1.7" height="1.45" fill="#4a9bff"/>
<rect x="523.4" y="53.88" width="1.7" height="1.45" fill="#4a9bff"/>
<rect x="525.5" y="53.87" width="1.7" height="1.45" fill="#4a9bff"/>
<rect x="526.55" y="54.21" width="1.7" height="1.45" fill="#4a9bff"/>
<rect x="515" y="56.31" width="1.7" height="1.45" fill="#4a9bff"/>
<rect x="519.2" y="56.34" width="1.7" height="1.45" fill="#4a9bff"/>
<rect x="520.25" y="56.16" width="1.7" height="1.45" fill="#4a9bff"/>
<rect x="516" y="63.85" width="1.8" height="1.5" fill="#4a9bff"/>
<rect x="516" y="72.85" width="1.8" height="1.5" fill="#4a9bff"/>
<rect x="515" y="74.25" width="1.8" height="1.5" fill="#4a9bff"/>
<rect x="554.4" y="19.65" width="1.8" height="1.5" fill="#2d3cff"/>
<rect x="552.1" y="21.55" width="1.8" height="1.5" fill="#2d3cff"/>
<rect x="544.8" y="24.93" width="1.7" height="1.45" fill="#2d3cff"/>
<rect x="546.9" y="25.17" width="1.7" height="1.45" fill="#2d3cff"/>
<rect x="549" y="24.86" width="1.7" height="1.45" fill="#2d3cff"/>
<rect x="551.1" y="25.06" width="1.7" height="1.45" fill="#2d3cff"/>
<rect x="553.2" y="24.93" width="1.7" height="1.45" fill="#2d3cff"/>
<rect x="555.3" y="24.92" width="1.7" height="1.45" fill="#2d3cff"/>
<rect x="557.4" y="24.92" width="1.7" height="1.45" fill="#2d3cff"/>
<rect x="559.5" y="25.15" width="1.7" height="1.45" fill="#2d3cff"/>
<rect x="543.75" y="26.6" width="1.7" height="1.45" fill="#2d3cff"/>
<rect x="545.85" y="26.36" width="1.7" height="1.45" fill="#2d3cff"/>
<rect x="550.05" y="26.31" width="1.7" height="1.45" fill="#2d3cff"/>
<rect x="552.15" y="26.46" width="1.7" height="1.45" fill="#2d3cff"/>
<rect x="554.25" y="26.52" width="1.7" height="1.45" fill="#2d3cff"/>
<rect x="556.35" y="26.59" width="1.7" height="1.45" fill="#2d3cff"/>
<rect x="558.45" y="26.34" width="1.7" height="1.45" fill="#2d3cff"/>
<rect x="560.55" y="26.67" width="1.7" height="1.45" fill="#2d3cff"/>
<rect x="544.8" y="28.37" width="1.7" height="1.45" fill="#2d3cff"/>
<rect x="546.9" y="28.07" width="1.7" height="1.45" fill="#2d3cff"/>
<rect x="549" y="28.31" width="1.7" height="1.45" fill="#2d3cff"/>
<rect x="551.1" y="28" width="1.7" height="1.45" fill="#2d3cff"/>
<rect x="553.2" y="28.17" width="1.7" height="1.45" fill="#2d3cff"/>
<rect x="555.3" y="28.24" width="1.7" height="1.45" fill="#2d3cff"/>
<rect x="559.5" y="28.07" width="1.7" height="1.45" fill="#2d3cff"/>
<rect x="560.55" y="28.11" width="1.7" height="1.45" fill="#2d3cff"/>
<rect x="541.65" y="29.76" width="1.7" height="1.45" fill="#2d3cff"/>
<rect x="543.75" y="29.69" width="1.7" height="1.45" fill="#2d3cff"/>
<rect x="545.85" y="29.95" width="1.7" height="1.45" fill="#2d3cff"/>
<rect x="547.95" y="29.63" width="1.7" height="1.45" fill="#2d3cff"/>
<rect x="550.05" y="29.93" width="1.7" height="1.45" fill="#2d3cff"/>
<rect x="552.15" y="30" width="1.7" height="1.45" fill="#2d3cff"/>
<rect x="554.25" y="29.93" width="1.7" height="1.45" fill="#2d3cff"/>
<rect x="556.35" y="29.88" width="1.7" height="1.45" fill="#2d3cff"/>
<rect x="558.45" y="29.62" width="1.7" height="1.45" fill="#2d3cff"/>
<rect x="560.55" y="29.91" width="1.7" height="1.45" fill="#2d3cff"/>
<rect x="562.65" y="29.69" width="1.7" height="1.45" fill="#2d3cff"/>
<rect x="542.7" y="31.44" width="1.7" height="1.45" fill="#2d3cff"/>
<rect x="544.8" y="31.17" width="1.7" height="1.45" fill="#2d3cff"/>
<rect x="546.9" y="31.43" width="1.7" height="1.45" fill="#2d3cff"/>
<rect x="549" y="31" width="1.7" height="1.45" fill="#2d3cff"/>
<rect x="551.1" y="31.05" width="1.7" height="1.45" fill="#2d3cff"/>
<rect x="555.3" y="31.22" width="1.7" height="1.45" fill="#2d3cff"/>
<rect x="557.4" y="31.21" width="1.7" height="1.45" fill="#2d3cff"/>
<rect x="559.5" y="31.48" width="1.7" height="1.45" fill="#2d3cff"/>
<rect x="561.6" y="31.29" width="1.7" height="1.45" fill="#2d3cff"/>
<rect x="562.65" y="31.26" width="1.7" height="1.45" fill="#2d3cff"/>
<rect x="542.7" y="32.79" width="1.7" height="1.45" fill="#2d3cff"/>
<rect x="544.8" y="32.91" width="1.7" height="1.45" fill="#2d3cff"/>
<rect x="546.9" y="33.02" width="1.7" height="1.45" fill="#2d3cff"/>
<rect x="549" y="33.04" width="1.7" height="1.45" fill="#2d3cff"/>
<rect x="551.1" y="32.89" width="1.7" height="1.45" fill="#2d3cff"/>
<rect x="553.2" y="33.01" width="1.7" height="1.45" fill="#2d3cff"/>
<rect x="555.3" y="32.87" width="1.7" height="1.45" fill="#2d3cff"/>
<rect x="557.4" y="32.65" width="1.7" height="1.45" fill="#2d3cff"/>
<rect x="559.5" y="32.98" width="1.7" height="1.45" fill="#2d3cff"/>
<rect x="561.6" y="32.82" width="1.7" height="1.45" fill="#2d3cff"/>
<rect x="541.65" y="34.72" width="1.7" height="1.45" fill="#2d3cff"/>
<rect x="543.75" y="34.46" width="1.7" height="1.45" fill="#2d3cff"/>
<rect x="545.85" y="34.61" width="1.7" height="1.45" fill="#2d3cff"/>
<rect x="547.95" y="34.6" width="1.7" height="1.45" fill="#2d3cff"/>
<rect x="550.05" y="34.49" width="1.7" height="1.45" fill="#2d3cff"/>
<rect x="554.25" y="34.59" width="1.7" height="1.45" fill="#2d3cff"/>
<rect x="556.35" y="34.58" width="1.7" height="1.45" fill="#2d3cff"/>
<rect x="558.45" y="34.36" width="1.7" height="1.45" fill="#2d3cff"/>
<rect x="560.55" y="34.32" width="1.7" height="1.45" fill="#2d3cff"/>
<rect x="562.65" y="34.29" width="1.7" height="1.45" fill="#2d3cff"/>
<rect x="541.65" y="36.17" width="1.7" height="1.45" fill="#2d3cff"/>
<rect x="543.75" y="36.48" width="1.7" height="1.45" fill="#2d3cff"/>
<rect x="545.85" y="36.46" width="1.7" height="1.45" fill="#2d3cff"/>
<rect x="547.95" y="36.44" width="1.7" height="1.45" fill="#2d3cff"/>
<rect x="550.05" y="36.07" width="1.7" height="1.45" fill="#2d3cff"/>
<rect x="552.15" y="36.27" width="1.7" height="1.45" fill="#2d3cff"/>
<rect x="554.25" y="36.39" width="1.7" height="1.45" fill="#2d3cff"/>
<rect x="556.35" y="36.33" width="1.7" height="1.45" fill="#2d3cff"/>
<rect x="558.45" y="36.38" width="1.7" height="1.45" fill="#2d3cff"/>
<rect x="560.55" y="36.22" width="1.7" height="1.45" fill="#2d3cff"/>
<rect x="562.65" y="36.12" width="1.7" height="1.45" fill="#2d3cff"/>
<rect x="544.8" y="38.24" width="1.7" height="1.45" fill="#2d3cff"/>
<rect x="546.9" y="37.89" width="1.7" height="1.45" fill="#2d3cff"/>
<rect x="549" y="37.91" width="1.7" height="1.45" fill="#2d3cff"/>
<rect x="551.1" y="38.07" width="1.7" height="1.45" fill="#2d3cff"/>
<rect x="557.4" y="38.07" width="1.7" height="1.45" fill="#2d3cff"/>
<rect x="559.5" y="37.9" width="1.7" height="1.45" fill="#2d3cff"/>
<rect x="560.55" y="38.12" width="1.7" height="1.45" fill="#2d3cff"/>
<rect x="544.8" y="39.96" width="1.7" height="1.45" fill="#2d3cff"/>
<rect x="546.9" y="39.63" width="1.7" height="1.45" fill="#2d3cff"/>
<rect x="549" y="39.75" width="1.7" height="1.45" fill="#2d3cff"/>
<rect x="551.1" y="39.85" width="1.7" height="1.45" fill="#2d3cff"/>
<rect x="553.2" y="39.94" width="1.7" height="1.45" fill="#2d3cff"/>
<rect x="555.3" y="39.56" width="1.7" height="1.45" fill="#2d3cff"/>
<rect x="557.4" y="39.85" width="1.7" height="1.45" fill="#2d3cff"/>
<rect x="559.5" y="39.5" width="1.7" height="1.45" fill="#2d3cff"/>
<rect x="541.65" y="41.32" width="1.7" height="1.45" fill="#2d3cff"/>
<rect x="543.75" y="41.56" width="1.7" height="1.45" fill="#2d3cff"/>
<rect x="545.85" y="41.46" width="1.7" height="1.45" fill="#2d3cff"/>
<rect x="547.95" y="41.74" width="1.7" height="1.45" fill="#2d3cff"/>
<rect x="550.05" y="41.62" width="1.7" height="1.45" fill="#2d3cff"/>
<rect x="552.15" y="41.42" width="1.7" height="1.45" fill="#2d3cff"/>
<rect x="556.35" y="41.35" width="1.7" height="1.45" fill="#2d3cff"/>
<rect x="558.45" y="41.36" width="1.7" height="1.45" fill="#2d3cff"/>
<rect x="560.55" y="41.52" width="1.7" height="1.45" fill="#2d3cff"/>
<rect x="562.65" y="41.61" width="1.7" height="1.45" fill="#2d3cff"/>
<rect x="543.75" y="43.41" width="1.7" height="1.45" fill="#2d3cff"/>
<rect x="545.85" y="43.13" width="1.7" height="1.45" fill="#2d3cff"/>
<rect x="547.95" y="43.48" width="1.7" height="1.45" fill="#2d3cff"/>
<rect x="552.15" y="43.28" width="1.7" height="1.45" fill="#2d3cff"/>
<rect x="554.25" y="43.35" width="1.7" height="1.45" fill="#2d3cff"/>
<rect x="556.35" y="43.3" width="1.7" height="1.45" fill="#2d3cff"/>
<rect x="558.45" y="43.4" width="1.7" height="1.45" fill="#2d3cff"/>
<rect x="560.55" y="43.49" width="1.7" height="1.45" fill="#2d3cff"/>
<rect x="543.75" y="29.7" width="1.7" height="1.45" fill="#2d3cff"/>
<rect x="545.85" y="29.37" width="1.7" height="1.45" fill="#2d3cff"/>
<rect x="552.15" y="29.35" width="1.7" height="1.45" fill="#2d3cff"/>
<rect x="554.25" y="29.79" width="1.7" height="1.45" fill="#2d3cff"/>
<rect x="556.35" y="29.66" width="1.7" height="1.45" fill="#2d3cff"/>
<rect x="560.55" y="29.78" width="1.7" height="1.45" fill="#2d3cff"/>
<rect x="545.85" y="31.33" width="1.7" height="1.45" fill="#2d3cff"/>
<rect x="552.15" y="30.93" width="1.7" height="1.45" fill="#2d3cff"/>
<rect x="554.25" y="31.16" width="1.7" height="1.45" fill="#2d3cff"/>
<rect x="556.35" y="31.11" width="1.7" height="1.45" fill="#2d3cff"/>
<rect x="543.75" y="32.86" width="1.7" height="1.45" fill="#2d3cff"/>
<rect x="545.85" y="32.76" width="1.7" height="1.45" fill="#2d3cff"/>
<rect x="547.95" y="32.85" width="1.7" height="1.45" fill="#2d3cff"/>
<rect x="550.05" y="32.47" width="1.7" height="1.45" fill="#2d3cff"/>
<rect x="552.15" y="32.59" width="1.7" height="1.45" fill="#2d3cff"/>
<rect x="554.25" y="32.45" width="1.7" height="1.45" fill="#2d3cff"/>
<rect x="558.45" y="32.86" width="1.7" height="1.45" fill="#2d3cff"/>
<rect x="562.65" y="32.51" width="1.7" height="1.45" fill="#2d3cff"/>
<rect x="546.9" y="34.22" width="1.7" height="1.45" fill="#2d3cff"/>
<rect x="549" y="34.51" width="1.7" height="1.45" fill="#2d3cff"/>
<rect x="551.1" y="34.29" width="1.7" height="1.45" fill="#2d3cff"/>
<rect x="557.4" y="34.31" width="1.7" height="1.45" fill="#2d3cff"/>
<rect x="559.5" y="34.32" width="1.7" height="1.45" fill="#2d3cff"/>
<rect x="560.55" y="34.46" width="1.7" height="1.45" fill="#2d3cff"/>
<rect x="543.75" y="35.8" width="1.7" height="1.45" fill="#2d3cff"/>
<rect x="545.85" y="36.04" width="1.7" height="1.45" fill="#2d3cff"/>
<rect x="547.95" y="35.97" width="1.7" height="1.45" fill="#2d3cff"/>
<rect x="550.05" y="36.05" width="1.7" height="1.45" fill="#2d3cff"/>
<rect x="552.15" y="36.2" width="1.7" height="1.45" fill="#2d3cff"/>
<rect x="550.05" y="46.56" width="1.7" height="1.45" fill="#2d3cff"/>
<rect x="552.15" y="46.6" width="1.7" height="1.45" fill="#2d3cff"/>
<rect x="554.25" y="46.48" width="1.7" height="1.45" fill="#2d3cff"/>
<rect x="556.35" y="46.28" width="1.7" height="1.45" fill="#2d3cff"/>
<rect x="545.85" y="48.05" width="1.7" height="1.45" fill="#2d3cff"/>
<rect x="552.15" y="48.28" width="1.7" height="1.45" fill="#2d3cff"/>
<rect x="558.45" y="48.37" width="1.7" height="1.45" fill="#2d3cff"/>
<rect x="546.9" y="50.02" width="1.7" height="1.45" fill="#2d3cff"/>
<rect x="551.1" y="49.96" width="1.7" height="1.45" fill="#2d3cff"/>
<rect x="558.45" y="49.63" width="1.7" height="1.45" fill="#2d3cff"/>
<rect x="546.9" y="52.02" width="1.7" height="1.45" fill="#2d3cff"/>
<rect x="551.1" y="52.02" width="1.7" height="1.45" fill="#2d3cff"/>
<rect x="555.3" y="52.22" width="1.7" height="1.45" fill="#2d3cff"/>
<rect x="557.4" y="52.21" width="1.7" height="1.45" fill="#2d3cff"/>
<rect x="550.05" y="54.41" width="1.7" height="1.45" fill="#2d3cff"/>
<rect x="554.25" y="56.41" width="1.7" height="1.45" fill="#2d3cff"/>
<rect x="549" y="57.75" width="1.7" height="1.45" fill="#2d3cff"/>
<rect x="553.2" y="57.86" width="1.7" height="1.45" fill="#2d3cff"/>
<rect x="550.05" y="60.13" width="1.7" height="1.45" fill="#2d3cff"/>
<rect x="552.15" y="59.82" width="1.7" height="1.45" fill="#2d3cff"/>
<rect x="554.25" y="59.79" width="1.7" height="1.45" fill="#2d3cff"/>
<rect x="554.25" y="62.08" width="1.7" height="1.45" fill="#2d3cff"/>
<rect x="550.05" y="64.08" width="1.7" height="1.45" fill="#2d3cff"/>
<rect x="554.25" y="64.38" width="1.7" height="1.45" fill="#2d3cff"/>
<rect x="549" y="66.51" width="1.7" height="1.45" fill="#2d3cff"/>
<rect x="551.1" y="66.51" width="1.7" height="1.45" fill="#2d3cff"/>
<rect x="553.2" y="66.52" width="1.7" height="1.45" fill="#2d3cff"/>
<rect x="552.15" y="68.21" width="1.7" height="1.45" fill="#2d3cff"/>
<rect x="549" y="70.3" width="1.7" height="1.45" fill="#2d3cff"/>
<rect x="551.1" y="70.72" width="1.7" height="1.45" fill="#2d3cff"/>
<rect x="553.2" y="70.56" width="1.7" height="1.45" fill="#2d3cff"/>
<rect x="555.3" y="70.34" width="1.7" height="1.45" fill="#2d3cff"/>
<rect x="552.15" y="72.15" width="1.7" height="1.45" fill="#2d3cff"/>
<rect x="554.25" y="72.06" width="1.7" height="1.45" fill="#2d3cff"/>
<rect x="550.05" y="74.05" width="1.7" height="1.45" fill="#2d3cff"/>
<rect x="552.15" y="74.39" width="1.7" height="1.45" fill="#2d3cff"/>
<rect x="554.25" y="74.18" width="1.7" height="1.45" fill="#2d3cff"/>
<rect x="553.2" y="78.23" width="1.7" height="1.45" fill="#2d3cff"/>
<rect x="552.1" y="81.25" width="1.8" height="1.5" fill="#2d3cff"/>
<rect x="552.1" y="83.75" width="1.8" height="1.5" fill="#2d3cff"/>
<rect x="548.1" y="85.25" width="1.8" height="1.5" fill="#2d3cff"/>
<rect x="550.1" y="86.05" width="1.8" height="1.5" fill="#2d3cff"/>
<rect x="552.1" y="86.45" width="1.8" height="1.5" fill="#2d3cff"/>
<rect x="554.1" y="86.05" width="1.8" height="1.5" fill="#2d3cff"/>
<rect x="556.1" y="85.25" width="1.8" height="1.5" fill="#2d3cff"/>
<rect x="552.1" y="88.75" width="1.8" height="1.5" fill="#2d3cff"/>
<rect x="552.1" y="91.75" width="1.8" height="1.5" fill="#2d3cff"/>
<rect x="552.1" y="94.75" width="1.8" height="1.5" fill="#2d3cff"/>
<rect x="552.1" y="98.45" width="1.8" height="1.5" fill="#2d3cff"/>
<rect x="552.1" y="130.75" width="1.8" height="1.5" fill="#2d3cff"/>
<rect x="552.1" y="134.05" width="1.8" height="1.5" fill="#2d3cff"/>
<rect x="577.1" y="18.75" width="1.8" height="1.5" fill="#a6cf1c"/>
<rect x="579.32" y="18.75" width="1.8" height="1.5" fill="#a6cf1c"/>
<rect x="581.54" y="18.75" width="1.8" height="1.5" fill="#a6cf1c"/>
<rect x="583.76" y="18.75" width="1.8" height="1.5" fill="#a6cf1c"/>
<rect x="585.98" y="18.75" width="1.8" height="1.5" fill="#a6cf1c"/>
<rect x="588.2" y="18.75" width="1.8" height="1.5" fill="#a6cf1c"/>
<rect x="590.42" y="18.75" width="1.8" height="1.5" fill="#a6cf1c"/>
<rect x="592.64" y="18.75" width="1.8" height="1.5" fill="#a6cf1c"/>
<rect x="594.86" y="18.75" width="1.8" height="1.5" fill="#a6cf1c"/>
<rect x="597.08" y="18.75" width="1.8" height="1.5" fill="#a6cf1c"/>
<rect x="599.3" y="18.75" width="1.8" height="1.5" fill="#a6cf1c"/>
<rect x="580.7" y="20.08" width="1.7" height="1.45" fill="#a6cf1c"/>
<rect x="582.8" y="20.27" width="1.7" height="1.45" fill="#a6cf1c"/>
<rect x="584.9" y="20.27" width="1.7" height="1.45" fill="#a6cf1c"/>
<rect x="587" y="20.48" width="1.7" height="1.45" fill="#a6cf1c"/>
<rect x="589.1" y="20.06" width="1.7" height="1.45" fill="#a6cf1c"/>
<rect x="591.2" y="20.16" width="1.7" height="1.45" fill="#a6cf1c"/>
<rect x="593.3" y="20.14" width="1.7" height="1.45" fill="#a6cf1c"/>
<rect x="595.4" y="20.05" width="1.7" height="1.45" fill="#a6cf1c"/>
<rect x="596.45" y="20.27" width="1.7" height="1.45" fill="#a6cf1c"/>
<rect x="578.6" y="21.9" width="1.7" height="1.45" fill="#a6cf1c"/>
<rect x="580.7" y="21.55" width="1.7" height="1.45" fill="#a6cf1c"/>
<rect x="582.8" y="21.87" width="1.7" height="1.45" fill="#a6cf1c"/>
<rect x="584.9" y="21.47" width="1.7" height="1.45" fill="#a6cf1c"/>
<rect x="587" y="21.89" width="1.7" height="1.45" fill="#a6cf1c"/>
<rect x="589.1" y="21.8" width="1.7" height="1.45" fill="#a6cf1c"/>
<rect x="591.2" y="21.66" width="1.7" height="1.45" fill="#a6cf1c"/>
<rect x="593.3" y="21.54" width="1.7" height="1.45" fill="#a6cf1c"/>
<rect x="595.4" y="21.61" width="1.7" height="1.45" fill="#a6cf1c"/>
<rect x="597.5" y="21.93" width="1.7" height="1.45" fill="#a6cf1c"/>
<rect x="579.65" y="23.38" width="1.7" height="1.45" fill="#a6cf1c"/>
<rect x="581.75" y="23.3" width="1.7" height="1.45" fill="#a6cf1c"/>
<rect x="583.85" y="22.99" width="1.7" height="1.45" fill="#a6cf1c"/>
<rect x="585.95" y="23.36" width="1.7" height="1.45" fill="#a6cf1c"/>
<rect x="588.05" y="23.04" width="1.7" height="1.45" fill="#a6cf1c"/>
<rect x="590.15" y="23.17" width="1.7" height="1.45" fill="#a6cf1c"/>
<rect x="592.25" y="23.13" width="1.7" height="1.45" fill="#a6cf1c"/>
<rect x="594.35" y="23.4" width="1.7" height="1.45" fill="#a6cf1c"/>
<rect x="596.45" y="23.3" width="1.7" height="1.45" fill="#a6cf1c"/>
<rect x="580.7" y="24.66" width="1.7" height="1.45" fill="#a6cf1c"/>
<rect x="582.8" y="24.64" width="1.7" height="1.45" fill="#a6cf1c"/>
<rect x="584.9" y="24.69" width="1.7" height="1.45" fill="#a6cf1c"/>
<rect x="587" y="25" width="1.7" height="1.45" fill="#a6cf1c"/>
<rect x="589.1" y="25.09" width="1.7" height="1.45" fill="#a6cf1c"/>
<rect x="591.2" y="24.96" width="1.7" height="1.45" fill="#a6cf1c"/>
<rect x="593.3" y="25.1" width="1.7" height="1.45" fill="#a6cf1c"/>
<rect x="595.4" y="24.86" width="1.7" height="1.45" fill="#a6cf1c"/>
<rect x="578.6" y="26.29" width="1.7" height="1.45" fill="#a6cf1c"/>
<rect x="580.7" y="26.28" width="1.7" height="1.45" fill="#a6cf1c"/>
<rect x="582.8" y="26.33" width="1.7" height="1.45" fill="#a6cf1c"/>
<rect x="584.9" y="26.31" width="1.7" height="1.45" fill="#a6cf1c"/>
<rect x="589.1" y="26.2" width="1.7" height="1.45" fill="#a6cf1c"/>
<rect x="591.2" y="26.39" width="1.7" height="1.45" fill="#a6cf1c"/>
<rect x="593.3" y="26.46" width="1.7" height="1.45" fill="#a6cf1c"/>
<rect x="595.4" y="26.3" width="1.7" height="1.45" fill="#a6cf1c"/>
<rect x="597.5" y="26.26" width="1.7" height="1.45" fill="#a6cf1c"/>
<rect x="598.55" y="26.48" width="1.7" height="1.45" fill="#a6cf1c"/>
<rect x="578.6" y="27.84" width="1.7" height="1.45" fill="#a6cf1c"/>
<rect x="580.7" y="28.2" width="1.7" height="1.45" fill="#a6cf1c"/>
<rect x="582.8" y="27.79" width="1.7" height="1.45" fill="#a6cf1c"/>
<rect x="584.9" y="28.01" width="1.7" height="1.45" fill="#a6cf1c"/>
<rect x="587" y="27.75" width="1.7" height="1.45" fill="#a6cf1c"/>
<rect x="589.1" y="27.8" width="1.7" height="1.45" fill="#a6cf1c"/>
<rect x="591.2" y="27.94" width="1.7" height="1.45" fill="#a6cf1c"/>
<rect x="593.3" y="28.16" width="1.7" height="1.45" fill="#a6cf1c"/>
<rect x="595.4" y="28.15" width="1.7" height="1.45" fill="#a6cf1c"/>
<rect x="578.6" y="29.37" width="1.7" height="1.45" fill="#a6cf1c"/>
<rect x="580.7" y="29.64" width="1.7" height="1.45" fill="#a6cf1c"/>
<rect x="582.8" y="29.19" width="1.7" height="1.45" fill="#a6cf1c"/>
<rect x="584.9" y="29.24" width="1.7" height="1.45" fill="#a6cf1c"/>
<rect x="587" y="29.19" width="1.7" height="1.45" fill="#a6cf1c"/>
<rect x="589.1" y="29.3" width="1.7" height="1.45" fill="#a6cf1c"/>
<rect x="591.2" y="29.5" width="1.7" height="1.45" fill="#a6cf1c"/>
<rect x="593.3" y="29.37" width="1.7" height="1.45" fill="#a6cf1c"/>
<rect x="595.4" y="29.42" width="1.7" height="1.45" fill="#a6cf1c"/>
<rect x="597.5" y="29.34" width="1.7" height="1.45" fill="#a6cf1c"/>
<rect x="598.55" y="29.43" width="1.7" height="1.45" fill="#a6cf1c"/>
<rect x="578.6" y="30.76" width="1.7" height="1.45" fill="#a6cf1c"/>
<rect x="580.7" y="30.8" width="1.7" height="1.45" fill="#a6cf1c"/>
<rect x="582.8" y="30.85" width="1.7" height="1.45" fill="#a6cf1c"/>
<rect x="584.9" y="31.01" width="1.7" height="1.45" fill="#a6cf1c"/>
<rect x="587" y="31.04" width="1.7" height="1.45" fill="#a6cf1c"/>
<rect x="589.1" y="30.91" width="1.7" height="1.45" fill="#a6cf1c"/>
<rect x="591.2" y="31.07" width="1.7" height="1.45" fill="#a6cf1c"/>
<rect x="593.3" y="30.91" width="1.7" height="1.45" fill="#a6cf1c"/>
<rect x="595.4" y="31.02" width="1.7" height="1.45" fill="#a6cf1c"/>
<rect x="597.5" y="30.76" width="1.7" height="1.45" fill="#a6cf1c"/>
<rect x="579.65" y="21.31" width="1.7" height="1.45" fill="#a6cf1c"/>
<rect x="581.75" y="21.03" width="1.7" height="1.45" fill="#a6cf1c"/>
<rect x="583.85" y="21.2" width="1.7" height="1.45" fill="#a6cf1c"/>
<rect x="585.95" y="21.18" width="1.7" height="1.45" fill="#a6cf1c"/>
<rect x="588.05" y="21.07" width="1.7" height="1.45" fill="#a6cf1c"/>
<rect x="590.15" y="21.32" width="1.7" height="1.45" fill="#a6cf1c"/>
<rect x="592.25" y="21.26" width="1.7" height="1.45" fill="#a6cf1c"/>
<rect x="594.35" y="21.08" width="1.7" height="1.45" fill="#a6cf1c"/>
<rect x="598.55" y="21.15" width="1.7" height="1.45" fill="#a6cf1c"/>
<rect x="578.6" y="22.54" width="1.7" height="1.45" fill="#a6cf1c"/>
<rect x="582.8" y="22.45" width="1.7" height="1.45" fill="#a6cf1c"/>
<rect x="584.9" y="22.37" width="1.7" height="1.45" fill="#a6cf1c"/>
<rect x="587" y="22.44" width="1.7" height="1.45" fill="#a6cf1c"/>
<rect x="589.1" y="22.84" width="1.7" height="1.45" fill="#a6cf1c"/>
<rect x="595.4" y="22.68" width="1.7" height="1.45" fill="#a6cf1c"/>
<rect x="580.7" y="24.22" width="1.7" height="1.45" fill="#a6cf1c"/>
<rect x="582.8" y="24.37" width="1.7" height="1.45" fill="#a6cf1c"/>
<rect x="584.9" y="24.53" width="1.7" height="1.45" fill="#a6cf1c"/>
<rect x="587" y="24.59" width="1.7" height="1.45" fill="#a6cf1c"/>
<rect x="589.1" y="24.35" width="1.7" height="1.45" fill="#a6cf1c"/>
<rect x="591.2" y="24.16" width="1.7" height="1.45" fill="#a6cf1c"/>
<rect x="596.45" y="24.27" width="1.7" height="1.45" fill="#a6cf1c"/>
<rect x="579.65" y="25.59" width="1.7" height="1.45" fill="#a6cf1c"/>
<rect x="585.95" y="25.7" width="1.7" height="1.45" fill="#a6cf1c"/>
<rect x="588.05" y="25.69" width="1.7" height="1.45" fill="#a6cf1c"/>
<rect x="590.15" y="25.77" width="1.7" height="1.45" fill="#a6cf1c"/>
<rect x="592.25" y="25.56" width="1.7" height="1.45" fill="#a6cf1c"/>
<rect x="594.35" y="25.61" width="1.7" height="1.45" fill="#a6cf1c"/>
<rect x="596.45" y="25.84" width="1.7" height="1.45" fill="#a6cf1c"/>
<rect x="580.7" y="27.42" width="1.7" height="1.45" fill="#a6cf1c"/>
<rect x="582.8" y="27.64" width="1.7" height="1.45" fill="#a6cf1c"/>
<rect x="584.9" y="27.2" width="1.7" height="1.45" fill="#a6cf1c"/>
<rect x="587" y="27.52" width="1.7" height="1.45" fill="#a6cf1c"/>
<rect x="589.1" y="27.54" width="1.7" height="1.45" fill="#a6cf1c"/>
<rect x="591.2" y="27.58" width="1.7" height="1.45" fill="#a6cf1c"/>
<rect x="595.4" y="27.47" width="1.7" height="1.45" fill="#a6cf1c"/>
<rect x="596.45" y="27.53" width="1.7" height="1.45" fill="#a6cf1c"/>
<rect x="577.55" y="29.29" width="1.7" height="1.45" fill="#a6cf1c"/>
<rect x="579.65" y="29.1" width="1.7" height="1.45" fill="#a6cf1c"/>
<rect x="581.75" y="29.35" width="1.7" height="1.45" fill="#a6cf1c"/>
<rect x="583.85" y="29.3" width="1.7" height="1.45" fill="#a6cf1c"/>
<rect x="585.95" y="29.26" width="1.7" height="1.45" fill="#a6cf1c"/>
<rect x="588.05" y="29.14" width="1.7" height="1.45" fill="#a6cf1c"/>
<rect x="590.15" y="28.91" width="1.7" height="1.45" fill="#a6cf1c"/>
<rect x="592.25" y="28.89" width="1.7" height="1.45" fill="#a6cf1c"/>
<rect x="594.35" y="28.99" width="1.7" height="1.45" fill="#a6cf1c"/>
<rect x="598.55" y="28.98" width="1.7" height="1.45" fill="#a6cf1c"/>
<rect x="578.6" y="30.3" width="1.7" height="1.45" fill="#a6cf1c"/>
<rect x="580.7" y="30.44" width="1.7" height="1.45" fill="#a6cf1c"/>
<rect x="584.9" y="30.62" width="1.7" height="1.45" fill="#a6cf1c"/>
<rect x="589.1" y="30.53" width="1.7" height="1.45" fill="#a6cf1c"/>
<rect x="591.2" y="30.66" width="1.7" height="1.45" fill="#a6cf1c"/>
<rect x="593.3" y="30.42" width="1.7" height="1.45" fill="#a6cf1c"/>
<rect x="595.4" y="30.39" width="1.7" height="1.45" fill="#a6cf1c"/>
<rect x="597.5" y="30.59" width="1.7" height="1.45" fill="#a6cf1c"/>
<rect x="598.55" y="30.29" width="1.7" height="1.45" fill="#a6cf1c"/>
<rect x="578.6" y="31.97" width="1.7" height="1.45" fill="#a6cf1c"/>
<rect x="580.7" y="31.77" width="1.7" height="1.45" fill="#a6cf1c"/>
<rect x="582.8" y="32.04" width="1.7" height="1.45" fill="#a6cf1c"/>
<rect x="584.9" y="31.77" width="1.7" height="1.45" fill="#a6cf1c"/>
<rect x="589.1" y="31.96" width="1.7" height="1.45" fill="#a6cf1c"/>
<rect x="595.4" y="32.08" width="1.7" height="1.45" fill="#a6cf1c"/>
<rect x="597.5" y="32.12" width="1.7" height="1.45" fill="#a6cf1c"/>
<rect x="580.7" y="34.09" width="1.7" height="1.45" fill="#a6cf1c"/>
<rect x="582.8" y="34.05" width="1.7" height="1.45" fill="#a6cf1c"/>
<rect x="587" y="33.66" width="1.7" height="1.45" fill="#a6cf1c"/>
<rect x="591.2" y="33.95" width="1.7" height="1.45" fill="#a6cf1c"/>
<rect x="579.65" y="35.48" width="1.7" height="1.45" fill="#a6cf1c"/>
<rect x="583.85" y="35.57" width="1.7" height="1.45" fill="#a6cf1c"/>
<rect x="588.05" y="35.48" width="1.7" height="1.45" fill="#a6cf1c"/>
<rect x="590.15" y="35.51" width="1.7" height="1.45" fill="#a6cf1c"/>
<rect x="592.25" y="35.85" width="1.7" height="1.45" fill="#a6cf1c"/>
<rect x="594.35" y="35.52" width="1.7" height="1.45" fill="#a6cf1c"/>
<rect x="581.75" y="37.56" width="1.7" height="1.45" fill="#a6cf1c"/>
<rect x="583.85" y="37.76" width="1.7" height="1.45" fill="#a6cf1c"/>
<rect x="590.15" y="37.4" width="1.7" height="1.45" fill="#a6cf1c"/>
<rect x="592.25" y="37.69" width="1.7" height="1.45" fill="#a6cf1c"/>
<rect x="596.45" y="37.39" width="1.7" height="1.45" fill="#a6cf1c"/>
<rect x="578.6" y="39.76" width="1.7" height="1.45" fill="#a6cf1c"/>
<rect x="580.7" y="39.48" width="1.7" height="1.45" fill="#a6cf1c"/>
<rect x="582.8" y="39.59" width="1.7" height="1.45" fill="#a6cf1c"/>
<rect x="587" y="39.78" width="1.7" height="1.45" fill="#a6cf1c"/>
<rect x="589.1" y="39.44" width="1.7" height="1.45" fill="#a6cf1c"/>
<rect x="593.3" y="39.45" width="1.7" height="1.45" fill="#a6cf1c"/>
<rect x="595.4" y="39.77" width="1.7" height="1.45" fill="#a6cf1c"/>
<rect x="587" y="41.73" width="1.7" height="1.45" fill="#a6cf1c"/>
<rect x="591.2" y="41.49" width="1.7" height="1.45" fill="#a6cf1c"/>
<rect x="593.3" y="41.48" width="1.7" height="1.45" fill="#a6cf1c"/>
<rect x="595.4" y="41.36" width="1.7" height="1.45" fill="#a6cf1c"/>
<rect x="582.8" y="43.49" width="1.7" height="1.45" fill="#a6cf1c"/>
<rect x="589.1" y="43.48" width="1.7" height="1.45" fill="#a6cf1c"/>
<rect x="591.2" y="43.11" width="1.7" height="1.45" fill="#a6cf1c"/>
<rect x="593.3" y="43.29" width="1.7" height="1.45" fill="#a6cf1c"/>
<rect x="595.4" y="43.26" width="1.7" height="1.45" fill="#a6cf1c"/>
<rect x="597.5" y="43.16" width="1.7" height="1.45" fill="#a6cf1c"/>
<rect x="588.05" y="45.51" width="1.7" height="1.45" fill="#a6cf1c"/>
<rect x="587" y="47.26" width="1.7" height="1.45" fill="#a6cf1c"/>
<rect x="583.85" y="48.86" width="1.7" height="1.45" fill="#a6cf1c"/>
<rect x="588.05" y="48.88" width="1.7" height="1.45" fill="#a6cf1c"/>
<rect x="590.15" y="49.22" width="1.7" height="1.45" fill="#a6cf1c"/>
<rect x="592.25" y="49.08" width="1.7" height="1.45" fill="#a6cf1c"/>
<rect x="582.8" y="51.01" width="1.7" height="1.45" fill="#a6cf1c"/>
<rect x="587" y="51.14" width="1.7" height="1.45" fill="#a6cf1c"/>
<rect x="591.2" y="51.13" width="1.7" height="1.45" fill="#a6cf1c"/>
<rect x="593.3" y="50.74" width="1.7" height="1.45" fill="#a6cf1c"/>
<rect x="583.85" y="52.85" width="1.7" height="1.45" fill="#a6cf1c"/>
<rect x="590.15" y="52.82" width="1.7" height="1.45" fill="#a6cf1c"/>
<rect x="592.25" y="53.12" width="1.7" height="1.45" fill="#a6cf1c"/>
<rect x="585.95" y="54.94" width="1.7" height="1.45" fill="#a6cf1c"/>
<rect x="588.05" y="54.73" width="1.7" height="1.45" fill="#a6cf1c"/>
<rect x="587" y="56.77" width="1.7" height="1.45" fill="#a6cf1c"/>
<rect x="587" y="58.32" width="1.7" height="1.45" fill="#a6cf1c"/>
<rect x="589.1" y="58.21" width="1.7" height="1.45" fill="#a6cf1c"/>
<rect x="588" y="64.05" width="1.8" height="1.5" fill="#a6cf1c"/>
<rect x="588" y="68.05" width="1.8" height="1.5" fill="#a6cf1c"/>
<rect x="588" y="77.85" width="1.8" height="1.5" fill="#a6cf1c"/>
<rect x="613.3" y="19.05" width="1.8" height="1.5" fill="#3ff01f"/>
<rect x="615.5" y="19.05" width="1.8" height="1.5" fill="#3ff01f"/>
<rect x="617.7" y="19.05" width="1.8" height="1.5" fill="#3ff01f"/>
<rect x="619.9" y="19.05" width="1.8" height="1.5" fill="#3ff01f"/>
<rect x="622.1" y="19.05" width="1.8" height="1.5" fill="#3ff01f"/>
<rect x="624.3" y="19.05" width="1.8" height="1.5" fill="#3ff01f"/>
<rect x="626.5" y="19.05" width="1.8" height="1.5" fill="#3ff01f"/>
<rect x="628.7" y="19.05" width="1.8" height="1.5" fill="#3ff01f"/>
<rect x="630.9" y="19.05" width="1.8" height="1.5" fill="#3ff01f"/>
<rect x="633.1" y="19.05" width="1.8" height="1.5" fill="#3ff01f"/>
<rect x="635.3" y="19.05" width="1.8" height="1.5" fill="#3ff01f"/>
<rect x="615.85" y="20.5" width="1.7" height="1.45" fill="#3ff01f"/>
<rect x="617.95" y="20.56" width="1.7" height="1.45" fill="#3ff01f"/>
<rect x="620.05" y="20.31" width="1.7" height="1.45" fill="#3ff01f"/>
<rect x="622.15" y="20.58" width="1.7" height="1.45" fill="#3ff01f"/>
<rect x="624.25" y="20.13" width="1.7" height="1.45" fill="#3ff01f"/>
<rect x="626.35" y="20.56" width="1.7" height="1.45" fill="#3ff01f"/>
<rect x="628.45" y="20.41" width="1.7" height="1.45" fill="#3ff01f"/>
<rect x="630.55" y="20.15" width="1.7" height="1.45" fill="#3ff01f"/>
<rect x="632.65" y="20.58" width="1.7" height="1.45" fill="#3ff01f"/>
<rect x="615.85" y="22.05" width="1.7" height="1.45" fill="#3ff01f"/>
<rect x="617.95" y="21.65" width="1.7" height="1.45" fill="#3ff01f"/>
<rect x="620.05" y="21.98" width="1.7" height="1.45" fill="#3ff01f"/>
<rect x="622.15" y="21.88" width="1.7" height="1.45" fill="#3ff01f"/>
<rect x="624.25" y="21.72" width="1.7" height="1.45" fill="#3ff01f"/>
<rect x="626.35" y="21.84" width="1.7" height="1.45" fill="#3ff01f"/>
<rect x="628.45" y="21.63" width="1.7" height="1.45" fill="#3ff01f"/>
<rect x="630.55" y="21.75" width="1.7" height="1.45" fill="#3ff01f"/>
<rect x="632.65" y="21.95" width="1.7" height="1.45" fill="#3ff01f"/>
<rect x="617.95" y="22.94" width="1.7" height="1.45" fill="#3ff01f"/>
<rect x="620.05" y="23.34" width="1.7" height="1.45" fill="#3ff01f"/>
<rect x="622.15" y="22.91" width="1.7" height="1.45" fill="#3ff01f"/>
<rect x="624.25" y="23.15" width="1.7" height="1.45" fill="#3ff01f"/>
<rect x="626.35" y="23.27" width="1.7" height="1.45" fill="#3ff01f"/>
<rect x="628.45" y="23.11" width="1.7" height="1.45" fill="#3ff01f"/>
<rect x="630.55" y="22.85" width="1.7" height="1.45" fill="#3ff01f"/>
<rect x="620.1" y="31.15" width="1.8" height="1.5" fill="#3ff01f"/>
<rect x="622.1" y="31.65" width="1.8" height="1.5" fill="#3ff01f"/>
<rect x="624.2" y="31.15" width="1.8" height="1.5" fill="#3ff01f"/>
<rect x="626.3" y="31.65" width="1.8" height="1.5" fill="#3ff01f"/>
<rect x="628.1" y="31.15" width="1.8" height="1.5" fill="#3ff01f"/>
<rect x="624.2" y="32.45" width="1.8" height="1.5" fill="#3ff01f"/>
<rect x="624.2" y="39.15" width="1.8" height="1.5" fill="#3ff01f"/>
<rect x="622.1" y="42.35" width="1.8" height="1.5" fill="#3ff01f"/>
<rect x="624.2" y="43.65" width="1.8" height="1.5" fill="#3ff01f"/>
<rect x="626.3" y="42.35" width="1.8" height="1.5" fill="#3ff01f"/>
<rect x="624.2" y="44.75" width="1.8" height="1.5" fill="#3ff01f"/>
<rect x="624.2" y="50.85" width="1.8" height="1.5" fill="#3ff01f"/>
<rect x="622.1" y="57.95" width="1.8" height="1.5" fill="#3ff01f"/>
<rect x="624.2" y="58.15" width="1.8" height="1.5" fill="#3ff01f"/>
<rect x="622.1" y="63.25" width="1.8" height="1.5" fill="#3ff01f"/>
<rect x="624.2" y="64.65" width="1.8" height="1.5" fill="#3ff01f"/>
<rect x="626.3" y="63.25" width="1.8" height="1.5" fill="#3ff01f"/>
<rect x="624.2" y="65.65" width="1.8" height="1.5" fill="#3ff01f"/>
<rect x="624.2" y="72.05" width="1.8" height="1.5" fill="#3ff01f"/>
<rect x="624.2" y="91.25" width="1.8" height="1.5" fill="#3ff01f"/>
<rect x="624.2" y="112.25" width="1.8" height="1.5" fill="#3ff01f"/>
<rect x="624.2" y="119.55" width="1.8" height="1.5" fill="#3ff01f"/>
<rect x="653.1" y="19.05" width="1.8" height="1.5" fill="#a31014"/>
<rect x="655.2" y="19.05" width="1.8" height="1.5" fill="#a31014"/>
<rect x="657.3" y="19.05" width="1.8" height="1.5" fill="#a31014"/>
<rect x="663.3" y="19.05" width="1.8" height="1.5" fill="#a31014"/>
<rect x="665.4" y="19.05" width="1.8" height="1.5" fill="#a31014"/>
<rect x="667.5" y="19.05" width="1.8" height="1.5" fill="#a31014"/>
<rect x="657.3" y="24.05" width="1.8" height="1.5" fill="#a31014"/>
<rect x="659.4" y="24.05" width="1.8" height="1.5" fill="#a31014"/>
<rect x="661.5" y="24.05" width="1.8" height="1.5" fill="#a31014"/>
<rect x="663.6" y="24.05" width="1.8" height="1.5" fill="#a31014"/>
<rect x="658.2" y="21.15" width="1.8" height="1.5" fill="#a31014"/>
<rect x="660.3" y="21.15" width="1.8" height="1.5" fill="#a31014"/>
<rect x="653" y="26.45" width="1.7" height="1.45" fill="#a31014"/>
<rect x="655.1" y="26.72" width="1.7" height="1.45" fill="#a31014"/>
<rect x="657.2" y="26.61" width="1.7" height="1.45" fill="#a31014"/>
<rect x="659.3" y="26.32" width="1.7" height="1.45" fill="#a31014"/>
<rect x="661.4" y="26.43" width="1.7" height="1.45" fill="#a31014"/>
<rect x="663.5" y="26.38" width="1.7" height="1.45" fill="#a31014"/>
<rect x="665.6" y="26.33" width="1.7" height="1.45" fill="#a31014"/>
<rect x="667.7" y="26.32" width="1.7" height="1.45" fill="#a31014"/>
<rect x="668.75" y="26.48" width="1.7" height="1.45" fill="#a31014"/>
<rect x="653" y="27.91" width="1.7" height="1.45" fill="#a31014"/>
<rect x="655.1" y="27.76" width="1.7" height="1.45" fill="#a31014"/>
<rect x="657.2" y="27.85" width="1.7" height="1.45" fill="#a31014"/>
<rect x="659.3" y="27.87" width="1.7" height="1.45" fill="#a31014"/>
<rect x="661.4" y="27.79" width="1.7" height="1.45" fill="#a31014"/>
<rect x="663.5" y="27.65" width="1.7" height="1.45" fill="#a31014"/>
<rect x="665.6" y="27.98" width="1.7" height="1.45" fill="#a31014"/>
<rect x="667.7" y="27.97" width="1.7" height="1.45" fill="#a31014"/>
<rect x="668.75" y="27.94" width="1.7" height="1.45" fill="#a31014"/>
<rect x="649.85" y="29.54" width="1.7" height="1.45" fill="#a31014"/>
<rect x="651.95" y="29.4" width="1.7" height="1.45" fill="#a31014"/>
<rect x="654.05" y="29.49" width="1.7" height="1.45" fill="#a31014"/>
<rect x="658.25" y="29.23" width="1.7" height="1.45" fill="#a31014"/>
<rect x="660.35" y="29.52" width="1.7" height="1.45" fill="#a31014"/>
<rect x="662.45" y="29.49" width="1.7" height="1.45" fill="#a31014"/>
<rect x="664.55" y="29.49" width="1.7" height="1.45" fill="#a31014"/>
<rect x="666.65" y="29.31" width="1.7" height="1.45" fill="#a31014"/>
<rect x="668.75" y="29.26" width="1.7" height="1.45" fill="#a31014"/>
<rect x="670.85" y="29.23" width="1.7" height="1.45" fill="#a31014"/>
<rect x="650.9" y="31.17" width="1.7" height="1.45" fill="#a31014"/>
<rect x="653" y="30.74" width="1.7" height="1.45" fill="#a31014"/>
<rect x="655.1" y="30.97" width="1.7" height="1.45" fill="#a31014"/>
<rect x="657.2" y="30.91" width="1.7" height="1.45" fill="#a31014"/>
<rect x="659.3" y="30.9" width="1.7" height="1.45" fill="#a31014"/>
<rect x="661.4" y="31.19" width="1.7" height="1.45" fill="#a31014"/>
<rect x="663.5" y="30.96" width="1.7" height="1.45" fill="#a31014"/>
<rect x="665.6" y="30.92" width="1.7" height="1.45" fill="#a31014"/>
<rect x="667.7" y="31.12" width="1.7" height="1.45" fill="#a31014"/>
<rect x="669.8" y="30.91" width="1.7" height="1.45" fill="#a31014"/>
<rect x="651.95" y="32.39" width="1.7" height="1.45" fill="#a31014"/>
<rect x="654.05" y="32.3" width="1.7" height="1.45" fill="#a31014"/>
<rect x="656.15" y="32.23" width="1.7" height="1.45" fill="#a31014"/>
<rect x="658.25" y="32.25" width="1.7" height="1.45" fill="#a31014"/>
<rect x="660.35" y="32.29" width="1.7" height="1.45" fill="#a31014"/>
<rect x="662.45" y="32.25" width="1.7" height="1.45" fill="#a31014"/>
<rect x="664.55" y="32.59" width="1.7" height="1.45" fill="#a31014"/>
<rect x="666.65" y="32.67" width="1.7" height="1.45" fill="#a31014"/>
<rect x="649.85" y="33.87" width="1.7" height="1.45" fill="#a31014"/>
<rect x="651.95" y="33.81" width="1.7" height="1.45" fill="#a31014"/>
<rect x="654.05" y="34.16" width="1.7" height="1.45" fill="#a31014"/>
<rect x="656.15" y="34.11" width="1.7" height="1.45" fill="#a31014"/>
<rect x="658.25" y="33.88" width="1.7" height="1.45" fill="#a31014"/>
<rect x="660.35" y="33.95" width="1.7" height="1.45" fill="#a31014"/>
<rect x="662.45" y="33.87" width="1.7" height="1.45" fill="#a31014"/>
<rect x="664.55" y="33.96" width="1.7" height="1.45" fill="#a31014"/>
<rect x="666.65" y="33.88" width="1.7" height="1.45" fill="#a31014"/>
<rect x="668.75" y="33.85" width="1.7" height="1.45" fill="#a31014"/>
<rect x="670.85" y="33.97" width="1.7" height="1.45" fill="#a31014"/>
<rect x="654.05" y="35.76" width="1.7" height="1.45" fill="#a31014"/>
<rect x="656.15" y="35.68" width="1.7" height="1.45" fill="#a31014"/>
<rect x="662.45" y="35.65" width="1.7" height="1.45" fill="#a31014"/>
<rect x="664.55" y="35.64" width="1.7" height="1.45" fill="#a31014"/>
<rect x="666.65" y="35.93" width="1.7" height="1.45" fill="#a31014"/>
<rect x="668.75" y="35.83" width="1.7" height="1.45" fill="#a31014"/>
<rect x="653" y="37.65" width="1.7" height="1.45" fill="#a31014"/>
<rect x="655.1" y="37.43" width="1.7" height="1.45" fill="#a31014"/>
<rect x="657.2" y="37.52" width="1.7" height="1.45" fill="#a31014"/>
<rect x="659.3" y="37.46" width="1.7" height="1.45" fill="#a31014"/>
<rect x="661.4" y="37.23" width="1.7" height="1.45" fill="#a31014"/>
<rect x="663.5" y="37.46" width="1.7" height="1.45" fill="#a31014"/>
<rect x="665.6" y="37.55" width="1.7" height="1.45" fill="#a31014"/>
<rect x="667.7" y="37.53" width="1.7" height="1.45" fill="#a31014"/>
<rect x="651.95" y="28.68" width="1.7" height="1.45" fill="#a31014"/>
<rect x="654.05" y="28.52" width="1.7" height="1.45" fill="#a31014"/>
<rect x="656.15" y="28.49" width="1.7" height="1.45" fill="#a31014"/>
<rect x="658.25" y="28.62" width="1.7" height="1.45" fill="#a31014"/>
<rect x="662.45" y="28.77" width="1.7" height="1.45" fill="#a31014"/>
<rect x="664.55" y="28.82" width="1.7" height="1.45" fill="#a31014"/>
<rect x="666.65" y="28.66" width="1.7" height="1.45" fill="#a31014"/>
<rect x="668.75" y="28.33" width="1.7" height="1.45" fill="#a31014"/>
<rect x="670.85" y="28.49" width="1.7" height="1.45" fill="#a31014"/>
<rect x="650.9" y="30.38" width="1.7" height="1.45" fill="#a31014"/>
<rect x="653" y="30.08" width="1.7" height="1.45" fill="#a31014"/>
<rect x="657.2" y="30.41" width="1.7" height="1.45" fill="#a31014"/>
<rect x="661.4" y="30.33" width="1.7" height="1.45" fill="#a31014"/>
<rect x="663.5" y="30.4" width="1.7" height="1.45" fill="#a31014"/>
<rect x="665.6" y="30.16" width="1.7" height="1.45" fill="#a31014"/>
<rect x="669.8" y="30.33" width="1.7" height="1.45" fill="#a31014"/>
<rect x="651.95" y="31.52" width="1.7" height="1.45" fill="#a31014"/>
<rect x="658.25" y="31.52" width="1.7" height="1.45" fill="#a31014"/>
<rect x="660.35" y="31.32" width="1.7" height="1.45" fill="#a31014"/>
<rect x="664.55" y="31.33" width="1.7" height="1.45" fill="#a31014"/>
<rect x="666.65" y="31.69" width="1.7" height="1.45" fill="#a31014"/>
<rect x="668.75" y="31.55" width="1.7" height="1.45" fill="#a31014"/>
<rect x="650.9" y="33.28" width="1.7" height="1.45" fill="#a31014"/>
<rect x="653" y="33.32" width="1.7" height="1.45" fill="#a31014"/>
<rect x="655.1" y="32.91" width="1.7" height="1.45" fill="#a31014"/>
<rect x="657.2" y="32.92" width="1.7" height="1.45" fill="#a31014"/>
<rect x="659.3" y="32.87" width="1.7" height="1.45" fill="#a31014"/>
<rect x="663.5" y="33.22" width="1.7" height="1.45" fill="#a31014"/>
<rect x="665.6" y="33.17" width="1.7" height="1.45" fill="#a31014"/>
<rect x="667.7" y="32.97" width="1.7" height="1.45" fill="#a31014"/>
<rect x="651.95" y="34.56" width="1.7" height="1.45" fill="#a31014"/>
<rect x="656.15" y="34.47" width="1.7" height="1.45" fill="#a31014"/>
<rect x="660.35" y="34.31" width="1.7" height="1.45" fill="#a31014"/>
<rect x="664.55" y="34.64" width="1.7" height="1.45" fill="#a31014"/>
<rect x="666.65" y="34.54" width="1.7" height="1.45" fill="#a31014"/>
<rect x="668.75" y="34.58" width="1.7" height="1.45" fill="#a31014"/>
<rect x="651.95" y="35.99" width="1.7" height="1.45" fill="#a31014"/>
<rect x="654.05" y="36.05" width="1.7" height="1.45" fill="#a31014"/>
<rect x="656.15" y="36.05" width="1.7" height="1.45" fill="#a31014"/>
<rect x="658.25" y="36.08" width="1.7" height="1.45" fill="#a31014"/>
<rect x="662.45" y="35.86" width="1.7" height="1.45" fill="#a31014"/>
<rect x="666.65" y="35.64" width="1.7" height="1.45" fill="#a31014"/>
<rect x="650.9" y="37.53" width="1.7" height="1.45" fill="#a31014"/>
<rect x="659.3" y="37.64" width="1.7" height="1.45" fill="#a31014"/>
<rect x="661.4" y="37.5" width="1.7" height="1.45" fill="#a31014"/>
<rect x="663.5" y="37.37" width="1.7" height="1.45" fill="#a31014"/>
<rect x="665.6" y="37.54" width="1.7" height="1.45" fill="#a31014"/>
<rect x="667.7" y="37.48" width="1.7" height="1.45" fill="#a31014"/>
<rect x="669.8" y="37.68" width="1.7" height="1.45" fill="#a31014"/>
<rect x="654.05" y="41" width="1.7" height="1.45" fill="#a31014"/>
<rect x="658.25" y="40.82" width="1.7" height="1.45" fill="#a31014"/>
<rect x="662.45" y="40.8" width="1.7" height="1.45" fill="#a31014"/>
<rect x="664.55" y="40.54" width="1.7" height="1.45" fill="#a31014"/>
<rect x="666.65" y="40.59" width="1.7" height="1.45" fill="#a31014"/>
<rect x="655.1" y="42.66" width="1.7" height="1.45" fill="#a31014"/>
<rect x="657.2" y="42.67" width="1.7" height="1.45" fill="#a31014"/>
<rect x="661.4" y="42.29" width="1.7" height="1.45" fill="#a31014"/>
<rect x="663.5" y="42.34" width="1.7" height="1.45" fill="#a31014"/>
<rect x="654.05" y="44.15" width="1.7" height="1.45" fill="#a31014"/>
<rect x="656.15" y="44.11" width="1.7" height="1.45" fill="#a31014"/>
<rect x="654.05" y="46.44" width="1.7" height="1.45" fill="#a31014"/>
<rect x="656.15" y="46.09" width="1.7" height="1.45" fill="#a31014"/>
<rect x="662.45" y="46.13" width="1.7" height="1.45" fill="#a31014"/>
<rect x="666.65" y="46.04" width="1.7" height="1.45" fill="#a31014"/>
<rect x="651.95" y="48.26" width="1.7" height="1.45" fill="#a31014"/>
<rect x="654.05" y="48.24" width="1.7" height="1.45" fill="#a31014"/>
<rect x="656.15" y="47.96" width="1.7" height="1.45" fill="#a31014"/>
<rect x="660.35" y="48.15" width="1.7" height="1.45" fill="#a31014"/>
<rect x="662.45" y="48.21" width="1.7" height="1.45" fill="#a31014"/>
<rect x="666.65" y="48.17" width="1.7" height="1.45" fill="#a31014"/>
<rect x="668.75" y="47.87" width="1.7" height="1.45" fill="#a31014"/>
<rect x="658.25" y="49.84" width="1.7" height="1.45" fill="#a31014"/>
<rect x="660.35" y="49.88" width="1.7" height="1.45" fill="#a31014"/>
<rect x="662.45" y="49.7" width="1.7" height="1.45" fill="#a31014"/>
<rect x="666.65" y="49.59" width="1.7" height="1.45" fill="#a31014"/>
<rect x="658.25" y="51.36" width="1.7" height="1.45" fill="#a31014"/>
<rect x="660.35" y="51.39" width="1.7" height="1.45" fill="#a31014"/>
<rect x="662.45" y="51.38" width="1.7" height="1.45" fill="#a31014"/>
<rect x="657.2" y="53.08" width="1.7" height="1.45" fill="#a31014"/>
<rect x="659.3" y="53.07" width="1.7" height="1.45" fill="#a31014"/>
<rect x="661.4" y="53.01" width="1.7" height="1.45" fill="#a31014"/>
<rect x="659.3" y="54.81" width="1.7" height="1.45" fill="#a31014"/>
<rect x="663.5" y="54.73" width="1.7" height="1.45" fill="#a31014"/>
<rect x="658.25" y="56.72" width="1.7" height="1.45" fill="#a31014"/>
<rect x="662.45" y="56.38" width="1.7" height="1.45" fill="#a31014"/>
<rect x="657.2" y="58.37" width="1.7" height="1.45" fill="#a31014"/>
<rect x="659.3" y="58.45" width="1.7" height="1.45" fill="#a31014"/>
<rect x="658.25" y="60.54" width="1.7" height="1.45" fill="#a31014"/>
<rect x="656.1" y="66.45" width="1.8" height="1.5" fill="#a31014"/>
<rect x="658.2" y="66.85" width="1.8" height="1.5" fill="#a31014"/>
<rect x="660.3" y="66.45" width="1.8" height="1.5" fill="#a31014"/>
<rect x="662.4" y="66.85" width="1.8" height="1.5" fill="#a31014"/>
<rect x="664.5" y="66.45" width="1.8" height="1.5" fill="#a31014"/>
<rect x="657.6" y="73.45" width="1.8" height="1.5" fill="#a31014"/>
<rect x="660.3" y="74.25" width="1.8" height="1.5" fill="#a31014"/>
<rect x="662.6" y="72.85" width="1.8" height="1.5" fill="#a31014"/>
<rect x="660.3" y="78.45" width="1.8" height="1.5" fill="#a31014"/>
<rect x="662.4" y="77.05" width="1.8" height="1.5" fill="#a31014"/>
<line x1="505.5" y1="33.3" x2="528.5" y2="33.3" stroke="#1a1a1a" stroke-width="1.4"/>
<line x1="541.3" y1="46.2" x2="564.8" y2="46.2" stroke="#1a1a1a" stroke-width="1.4"/>
<line x1="577.5" y1="33.5" x2="600.5" y2="33.5" stroke="#1a1a1a" stroke-width="1.4"/>
<line x1="613" y1="26.7" x2="637.4" y2="26.7" stroke="#888" stroke-width="1.6"/>
<line x1="649.5" y1="40.4" x2="673" y2="40.4" stroke="#1a1a1a" stroke-width="1.4"/>
<path d="M516.2 17.1V15.4H587.2V17.1" fill="none" stroke="#9a9a9a" stroke-width="0.9"/>
<text x="553.2" y="13.3" class="ns">n.s</text>
<line x1="30" y1="191.1" x2="30" y2="331.3" stroke="#888" stroke-width="1.3"/>
<line x1="28" y1="330.8" x2="30" y2="330.8" stroke="#888" stroke-width="1.1"/>
<text x="26.6" y="334" class="tk">0</text>
<line x1="28" y1="299.15" x2="30" y2="299.15" stroke="#888" stroke-width="1.1"/>
<text x="26.6" y="302.35" class="tk">25</text>
<line x1="28" y1="267.5" x2="30" y2="267.5" stroke="#888" stroke-width="1.1"/>
<text x="26.6" y="270.7" class="tk">50</text>
<line x1="28" y1="235.85" x2="30" y2="235.85" stroke="#888" stroke-width="1.1"/>
<text x="26.6" y="239.05" class="tk">75</text>
<line x1="28" y1="204.2" x2="30" y2="204.2" stroke="#888" stroke-width="1.1"/>
<text x="26.6" y="207.4" class="tk">100</text>
<line x1="37.5" y1="339.3" x2="217.8" y2="339.3" stroke="#222" stroke-width="1.3"/>
<line x1="55.5" y1="339.3" x2="55.5" y2="341.3" stroke="#222" stroke-width="1.1"/>
<text x="55.5" y="349.8" class="cl">Pooled</text>
<line x1="91.55" y1="339.3" x2="91.55" y2="341.3" stroke="#222" stroke-width="1.1"/>
<text x="91.55" y="349.8" class="cl">Folch</text>
<line x1="127.6" y1="339.3" x2="127.6" y2="341.3" stroke="#222" stroke-width="1.1"/>
<text x="127.6" y="349.8" class="cl">MTBE</text>
<line x1="163.65" y1="339.3" x2="163.65" y2="341.3" stroke="#222" stroke-width="1.1"/>
<text x="163.65" y="349.8" class="cl">Bligh</text>
<line x1="199.7" y1="339.3" x2="199.7" y2="341.3" stroke="#222" stroke-width="1.1"/>
<text x="199.7" y="349.8" class="cl">MMC</text>
<text transform="translate(8.4,261.9) rotate(-90)" class="yl">Relative average lipid level (%)</text>
<text x="209.5" y="194.8" class="lt">d</text>
<rect x="52.26" y="203.17" width="1.8" height="1.5" fill="#4a9bff"/>
<rect x="54.63" y="203.83" width="1.8" height="1.5" fill="#4a9bff"/>
<rect x="56.86" y="203.17" width="1.8" height="1.5" fill="#4a9bff"/>
<rect x="54.63" y="208.43" width="1.8" height="1.5" fill="#4a9bff"/>
<rect x="56.86" y="208.04" width="1.8" height="1.5" fill="#4a9bff"/>
<rect x="54.63" y="216.33" width="1.8" height="1.5" fill="#4a9bff"/>
<rect x="54.63" y="218.96" width="1.8" height="1.5" fill="#4a9bff"/>
<rect x="50.28" y="221.2" width="1.8" height="1.5" fill="#4a9bff"/>
<rect x="52.26" y="221.59" width="1.8" height="1.5" fill="#4a9bff"/>
<rect x="54.63" y="222.91" width="1.8" height="1.5" fill="#4a9bff"/>
<rect x="56.86" y="221.59" width="1.8" height="1.5" fill="#4a9bff"/>
<rect x="50.28" y="227.78" width="1.8" height="1.5" fill="#4a9bff"/>
<rect x="52.26" y="228.57" width="1.8" height="1.5" fill="#4a9bff"/>
<rect x="54.63" y="228.57" width="1.8" height="1.5" fill="#4a9bff"/>
<rect x="56.86" y="228.17" width="1.8" height="1.5" fill="#4a9bff"/>
<rect x="58.84" y="227.78" width="1.8" height="1.5" fill="#4a9bff"/>
<rect x="61.47" y="226.86" width="1.8" height="1.5" fill="#4a9bff"/>
<rect x="54.63" y="231.46" width="1.8" height="1.5" fill="#4a9bff"/>
<rect x="50.28" y="234.09" width="1.8" height="1.5" fill="#4a9bff"/>
<rect x="52.26" y="234.75" width="1.8" height="1.5" fill="#4a9bff"/>
<rect x="54.63" y="234.75" width="1.8" height="1.5" fill="#4a9bff"/>
<rect x="56.86" y="234.09" width="1.8" height="1.5" fill="#4a9bff"/>
<rect x="58.84" y="233.43" width="1.8" height="1.5" fill="#4a9bff"/>
<rect x="61.47" y="233.04" width="1.8" height="1.5" fill="#4a9bff"/>
<rect x="50.28" y="236.72" width="1.8" height="1.5" fill="#4a9bff"/>
<rect x="52.26" y="237.38" width="1.8" height="1.5" fill="#4a9bff"/>
<rect x="50.28" y="239.09" width="1.8" height="1.5" fill="#4a9bff"/>
<rect x="52.26" y="239.62" width="1.8" height="1.5" fill="#4a9bff"/>
<rect x="54.63" y="240.01" width="1.8" height="1.5" fill="#4a9bff"/>
<rect x="56.86" y="239.62" width="1.8" height="1.5" fill="#4a9bff"/>
<rect x="58.84" y="239.09" width="1.8" height="1.5" fill="#4a9bff"/>
<rect x="52.26" y="243.96" width="1.8" height="1.5" fill="#4a9bff"/>
<rect x="52.26" y="247.91" width="1.8" height="1.5" fill="#4a9bff"/>
<rect x="54.63" y="248.57" width="1.8" height="1.5" fill="#4a9bff"/>
<rect x="56.86" y="248.57" width="1.8" height="1.5" fill="#4a9bff"/>
<rect x="52.26" y="251.86" width="1.8" height="1.5" fill="#4a9bff"/>
<rect x="54.63" y="252.51" width="1.8" height="1.5" fill="#4a9bff"/>
<rect x="54.63" y="259.75" width="1.8" height="1.5" fill="#4a9bff"/>
<rect x="88.44" y="203.17" width="1.8" height="1.5" fill="#2d3cff"/>
<rect x="90.68" y="203.83" width="1.8" height="1.5" fill="#2d3cff"/>
<rect x="93.05" y="203.17" width="1.8" height="1.5" fill="#2d3cff"/>
<rect x="95.42" y="203.17" width="1.8" height="1.5" fill="#2d3cff"/>
<rect x="88.44" y="205.8" width="1.8" height="1.5" fill="#2d3cff"/>
<rect x="90.68" y="207.12" width="1.8" height="1.5" fill="#2d3cff"/>
<rect x="88.44" y="210.14" width="1.8" height="1.5" fill="#2d3cff"/>
<rect x="90.68" y="211.72" width="1.8" height="1.5" fill="#2d3cff"/>
<rect x="93.05" y="210.14" width="1.8" height="1.5" fill="#2d3cff"/>
<rect x="95.42" y="210.14" width="1.8" height="1.5" fill="#2d3cff"/>
<rect x="88.44" y="213.7" width="1.8" height="1.5" fill="#2d3cff"/>
<rect x="90.68" y="215.01" width="1.8" height="1.5" fill="#2d3cff"/>
<rect x="88.44" y="219.88" width="1.8" height="1.5" fill="#2d3cff"/>
<rect x="90.68" y="221.59" width="1.8" height="1.5" fill="#2d3cff"/>
<rect x="93.05" y="221.2" width="1.8" height="1.5" fill="#2d3cff"/>
<rect x="88.44" y="224.22" width="1.8" height="1.5" fill="#2d3cff"/>
<rect x="90.68" y="224.22" width="1.8" height="1.5" fill="#2d3cff"/>
<rect x="88.44" y="230.14" width="1.8" height="1.5" fill="#2d3cff"/>
<rect x="90.68" y="230.8" width="1.8" height="1.5" fill="#2d3cff"/>
<rect x="93.05" y="230.8" width="1.8" height="1.5" fill="#2d3cff"/>
<rect x="86.21" y="232.12" width="1.8" height="1.5" fill="#2d3cff"/>
<rect x="88.44" y="232.51" width="1.8" height="1.5" fill="#2d3cff"/>
<rect x="90.68" y="232.78" width="1.8" height="1.5" fill="#2d3cff"/>
<rect x="93.05" y="232.78" width="1.8" height="1.5" fill="#2d3cff"/>
<rect x="88.44" y="234.75" width="1.8" height="1.5" fill="#2d3cff"/>
<rect x="90.68" y="235.67" width="1.8" height="1.5" fill="#2d3cff"/>
<rect x="93.05" y="235.41" width="1.8" height="1.5" fill="#2d3cff"/>
<rect x="95.42" y="235.67" width="1.8" height="1.5" fill="#2d3cff"/>
<rect x="88.44" y="237.38" width="1.8" height="1.5" fill="#2d3cff"/>
<rect x="90.68" y="238.04" width="1.8" height="1.5" fill="#2d3cff"/>
<rect x="93.05" y="237.38" width="1.8" height="1.5" fill="#2d3cff"/>
<rect x="88.44" y="239.09" width="1.8" height="1.5" fill="#2d3cff"/>
<rect x="90.68" y="239.62" width="1.8" height="1.5" fill="#2d3cff"/>
<rect x="93.05" y="239.62" width="1.8" height="1.5" fill="#2d3cff"/>
<rect x="90.68" y="242.64" width="1.8" height="1.5" fill="#2d3cff"/>
<rect x="88.44" y="245.28" width="1.8" height="1.5" fill="#2d3cff"/>
<rect x="90.68" y="246.59" width="1.8" height="1.5" fill="#2d3cff"/>
<rect x="90.68" y="250.54" width="1.8" height="1.5" fill="#2d3cff"/>
<rect x="93.05" y="249.22" width="1.8" height="1.5" fill="#2d3cff"/>
<rect x="88.44" y="259.75" width="1.8" height="1.5" fill="#2d3cff"/>
<rect x="90.68" y="260.14" width="1.8" height="1.5" fill="#2d3cff"/>
<rect x="93.05" y="259.09" width="1.8" height="1.5" fill="#2d3cff"/>
<rect x="54.6" y="282.45" width="1.8" height="1.5" fill="#4a9bff"/>
<rect x="54.6" y="295.85" width="1.8" height="1.5" fill="#4a9bff"/>
<rect x="54.6" y="320.25" width="1.8" height="1.5" fill="#4a9bff"/>
<rect x="54.6" y="327.15" width="1.8" height="1.5" fill="#4a9bff"/>
<rect x="90.8" y="281.35" width="1.8" height="1.5" fill="#2d3cff"/>
<rect x="90.8" y="284.65" width="1.8" height="1.5" fill="#2d3cff"/>
<rect x="88.4" y="330.55" width="1.8" height="1.5" fill="#2d3cff"/>
<rect x="90.7" y="330.55" width="1.8" height="1.5" fill="#2d3cff"/>
<rect x="93" y="330.55" width="1.8" height="1.5" fill="#2d3cff"/>
<rect x="95.4" y="330.55" width="1.8" height="1.5" fill="#2d3cff"/>
<rect x="124.43" y="203.09" width="1.8" height="1.5" fill="#a6cf1c"/>
<rect x="126.62" y="203.82" width="1.8" height="1.5" fill="#a6cf1c"/>
<rect x="124.43" y="214.77" width="1.8" height="1.5" fill="#a6cf1c"/>
<rect x="126.62" y="213.31" width="1.8" height="1.5" fill="#a6cf1c"/>
<rect x="126.62" y="216.23" width="1.8" height="1.5" fill="#a6cf1c"/>
<rect x="124.43" y="219.44" width="1.8" height="1.5" fill="#a6cf1c"/>
<rect x="126.62" y="218.86" width="1.8" height="1.5" fill="#a6cf1c"/>
<rect x="126.62" y="221.34" width="1.8" height="1.5" fill="#a6cf1c"/>
<rect x="122.24" y="230.53" width="1.8" height="1.5" fill="#a6cf1c"/>
<rect x="124.43" y="232.29" width="1.8" height="1.5" fill="#a6cf1c"/>
<rect x="126.62" y="228.64" width="1.8" height="1.5" fill="#a6cf1c"/>
<rect x="128.81" y="229.07" width="1.8" height="1.5" fill="#a6cf1c"/>
<rect x="131" y="229.66" width="1.8" height="1.5" fill="#a6cf1c"/>
<rect x="126.62" y="231.99" width="1.8" height="1.5" fill="#a6cf1c"/>
<rect x="128.81" y="231.99" width="1.8" height="1.5" fill="#a6cf1c"/>
<rect x="126.62" y="234.48" width="1.8" height="1.5" fill="#a6cf1c"/>
<rect x="128.81" y="234.48" width="1.8" height="1.5" fill="#a6cf1c"/>
<rect x="124.43" y="236.96" width="1.8" height="1.5" fill="#a6cf1c"/>
<rect x="126.62" y="237.83" width="1.8" height="1.5" fill="#a6cf1c"/>
<rect x="126.62" y="241.05" width="1.8" height="1.5" fill="#a6cf1c"/>
<rect x="128.81" y="241.05" width="1.8" height="1.5" fill="#a6cf1c"/>
<rect x="120.05" y="243.24" width="1.8" height="1.5" fill="#a6cf1c"/>
<rect x="122.24" y="244.26" width="1.8" height="1.5" fill="#a6cf1c"/>
<rect x="124.43" y="243.97" width="1.8" height="1.5" fill="#a6cf1c"/>
<rect x="126.62" y="243.97" width="1.8" height="1.5" fill="#a6cf1c"/>
<rect x="128.81" y="243.67" width="1.8" height="1.5" fill="#a6cf1c"/>
<rect x="131" y="243.67" width="1.8" height="1.5" fill="#a6cf1c"/>
<rect x="122.24" y="246.16" width="1.8" height="1.5" fill="#a6cf1c"/>
<rect x="124.43" y="246.89" width="1.8" height="1.5" fill="#a6cf1c"/>
<rect x="126.62" y="247.18" width="1.8" height="1.5" fill="#a6cf1c"/>
<rect x="128.81" y="246.16" width="1.8" height="1.5" fill="#a6cf1c"/>
<rect x="124.43" y="249.07" width="1.8" height="1.5" fill="#a6cf1c"/>
<rect x="126.62" y="249.51" width="1.8" height="1.5" fill="#a6cf1c"/>
<rect x="128.81" y="249.07" width="1.8" height="1.5" fill="#a6cf1c"/>
<rect x="126.62" y="252.72" width="1.8" height="1.5" fill="#a6cf1c"/>
<rect x="126.62" y="257.83" width="1.8" height="1.5" fill="#a6cf1c"/>
<rect x="128.81" y="260.02" width="1.8" height="1.5" fill="#a6cf1c"/>
<rect x="126.62" y="261.48" width="1.8" height="1.5" fill="#a6cf1c"/>
<rect x="126.62" y="265.13" width="1.8" height="1.5" fill="#a6cf1c"/>
<rect x="126.8" y="261.95" width="1.8" height="1.5" fill="#a6cf1c"/>
<rect x="126.8" y="265.35" width="1.8" height="1.5" fill="#a6cf1c"/>
<rect x="126.8" y="271.45" width="1.8" height="1.5" fill="#a6cf1c"/>
<rect x="126.8" y="290.15" width="1.8" height="1.5" fill="#a6cf1c"/>
<rect x="126.8" y="312.65" width="1.8" height="1.5" fill="#a6cf1c"/>
<rect x="126.8" y="320.85" width="1.8" height="1.5" fill="#a6cf1c"/>
<rect x="126.8" y="329.55" width="1.8" height="1.5" fill="#a6cf1c"/>
<rect x="162.82" y="239.59" width="1.8" height="1.5" fill="#3ff01f"/>
<rect x="162.82" y="243.24" width="1.8" height="1.5" fill="#3ff01f"/>
<rect x="158.44" y="247.61" width="1.8" height="1.5" fill="#3ff01f"/>
<rect x="160.92" y="248.34" width="1.8" height="1.5" fill="#3ff01f"/>
<rect x="162.82" y="248.64" width="1.8" height="1.5" fill="#3ff01f"/>
<rect x="165.3" y="248.05" width="1.8" height="1.5" fill="#3ff01f"/>
<rect x="160.92" y="253.45" width="1.8" height="1.5" fill="#3ff01f"/>
<rect x="162.82" y="254.91" width="1.8" height="1.5" fill="#3ff01f"/>
<rect x="165.3" y="254.18" width="1.8" height="1.5" fill="#3ff01f"/>
<rect x="160.92" y="257.1" width="1.8" height="1.5" fill="#3ff01f"/>
<rect x="162.82" y="257.83" width="1.8" height="1.5" fill="#3ff01f"/>
<rect x="165.3" y="256.37" width="1.8" height="1.5" fill="#3ff01f"/>
<rect x="158.74" y="260.75" width="1.8" height="1.5" fill="#3ff01f"/>
<rect x="160.92" y="261.48" width="1.8" height="1.5" fill="#3ff01f"/>
<rect x="162.82" y="260.32" width="1.8" height="1.5" fill="#3ff01f"/>
<rect x="165.3" y="261.48" width="1.8" height="1.5" fill="#3ff01f"/>
<rect x="162.82" y="264.7" width="1.8" height="1.5" fill="#3ff01f"/>
<rect x="165.3" y="265.13" width="1.8" height="1.5" fill="#3ff01f"/>
<rect x="162.82" y="267.03" width="1.8" height="1.5" fill="#3ff01f"/>
<rect x="158.44" y="261.25" width="1.8" height="1.5" fill="#3ff01f"/>
<rect x="160.49" y="262.42" width="1.8" height="1.5" fill="#3ff01f"/>
<rect x="162.82" y="263" width="1.8" height="1.5" fill="#3ff01f"/>
<rect x="165.3" y="261.25" width="1.8" height="1.5" fill="#3ff01f"/>
<rect x="165.3" y="264.9" width="1.8" height="1.5" fill="#3ff01f"/>
<rect x="162.82" y="266.8" width="1.8" height="1.5" fill="#3ff01f"/>
<rect x="158.44" y="270.01" width="1.8" height="1.5" fill="#3ff01f"/>
<rect x="160.49" y="270.74" width="1.8" height="1.5" fill="#3ff01f"/>
<rect x="165.3" y="270.3" width="1.8" height="1.5" fill="#3ff01f"/>
<rect x="162.82" y="272.2" width="1.8" height="1.5" fill="#3ff01f"/>
<rect x="160.49" y="274.68" width="1.8" height="1.5" fill="#3ff01f"/>
<rect x="162.82" y="275.12" width="1.8" height="1.5" fill="#3ff01f"/>
<rect x="165.3" y="274.39" width="1.8" height="1.5" fill="#3ff01f"/>
<rect x="167.49" y="273.66" width="1.8" height="1.5" fill="#3ff01f"/>
<rect x="158.44" y="277.31" width="1.8" height="1.5" fill="#3ff01f"/>
<rect x="160.49" y="278.48" width="1.8" height="1.5" fill="#3ff01f"/>
<rect x="162.82" y="278.77" width="1.8" height="1.5" fill="#3ff01f"/>
<rect x="165.3" y="278.04" width="1.8" height="1.5" fill="#3ff01f"/>
<rect x="167.49" y="277.02" width="1.8" height="1.5" fill="#3ff01f"/>
<rect x="160.49" y="280.52" width="1.8" height="1.5" fill="#3ff01f"/>
<rect x="162.82" y="280.96" width="1.8" height="1.5" fill="#3ff01f"/>
<rect x="165.3" y="280.52" width="1.8" height="1.5" fill="#3ff01f"/>
<rect x="162.82" y="285.34" width="1.8" height="1.5" fill="#3ff01f"/>
<rect x="162.82" y="288.26" width="1.8" height="1.5" fill="#3ff01f"/>
<rect x="165.3" y="287.53" width="1.8" height="1.5" fill="#3ff01f"/>
<rect x="162.82" y="291.91" width="1.8" height="1.5" fill="#3ff01f"/>
<rect x="162.82" y="297.75" width="1.8" height="1.5" fill="#3ff01f"/>
<rect x="160.49" y="319.64" width="1.8" height="1.5" fill="#3ff01f"/>
<rect x="162.82" y="319.94" width="1.8" height="1.5" fill="#3ff01f"/>
<rect x="160.49" y="329.86" width="1.8" height="1.5" fill="#3ff01f"/>
<rect x="162.82" y="331.03" width="1.8" height="1.5" fill="#3ff01f"/>
<rect x="165.3" y="331.03" width="1.8" height="1.5" fill="#3ff01f"/>
<rect x="196.4" y="207.76" width="1.8" height="1.5" fill="#a31014"/>
<rect x="198.44" y="208.64" width="1.8" height="1.5" fill="#a31014"/>
<rect x="198.44" y="213.02" width="1.8" height="1.5" fill="#a31014"/>
<rect x="196.4" y="222.07" width="1.8" height="1.5" fill="#a31014"/>
<rect x="198.44" y="223.97" width="1.8" height="1.5" fill="#a31014"/>
<rect x="198.44" y="232.72" width="1.8" height="1.5" fill="#a31014"/>
<line x1="189" y1="205.7" x2="210.5" y2="205.7" stroke="#aaa" stroke-width="1.4"/>
<line x1="188.8" y1="204" x2="210.4" y2="204" stroke="#a3161a" stroke-width="1.8"/>
<line x1="43.7" y1="238.89" x2="67.3" y2="238.89" stroke="#999" stroke-width="1.6"/>
<line x1="79.75" y1="241.04" x2="103.35" y2="241.04" stroke="#999" stroke-width="1.6"/>
<line x1="115.8" y1="245.34" x2="139.4" y2="245.34" stroke="#333" stroke-width="1.3"/>
<line x1="151.85" y1="274.84" x2="175.45" y2="274.84" stroke="#888" stroke-width="1.5"/>
<path d="M55.6 196.8V195.1H90V196.8" fill="none" stroke="#9a9a9a" stroke-width="0.9"/>
<path d="M55.6 196.8V195.1H127.5V196.8" fill="none" stroke="#9a9a9a" stroke-width="0.9"/>
<path d="M55.6 200.4V198.7H90V200.4" fill="none" stroke="#9a9a9a" stroke-width="0.9"/>
<path d="M93 200.4V198.7H127.5V200.4" fill="none" stroke="#9a9a9a" stroke-width="0.9"/>
<text x="91.1" y="192.5" class="ns">n.s</text>
<line x1="255.8" y1="191.2" x2="255.8" y2="331.9" stroke="#666" stroke-width="1.3"/>
<line x1="253.8" y1="331.4" x2="255.8" y2="331.4" stroke="#666" stroke-width="1.1"/>
<text x="252.4" y="334.6" class="tk">0</text>
<line x1="253.8" y1="299.6" x2="255.8" y2="299.6" stroke="#666" stroke-width="1.1"/>
<text x="252.4" y="302.8" class="tk">25</text>
<line x1="253.8" y1="267.8" x2="255.8" y2="267.8" stroke="#666" stroke-width="1.1"/>
<text x="252.4" y="271" class="tk">50</text>
<line x1="253.8" y1="236" x2="255.8" y2="236" stroke="#666" stroke-width="1.1"/>
<text x="252.4" y="239.2" class="tk">75</text>
<line x1="253.8" y1="204.2" x2="255.8" y2="204.2" stroke="#666" stroke-width="1.1"/>
<text x="252.4" y="207.4" class="tk">100</text>
<line x1="263.2" y1="339.5" x2="443.8" y2="339.5" stroke="#222" stroke-width="1.3"/>
<line x1="281.6" y1="339.5" x2="281.6" y2="341.5" stroke="#222" stroke-width="1.1"/>
<text x="281.6" y="350" class="cl">Pooled</text>
<line x1="317.6" y1="339.5" x2="317.6" y2="341.5" stroke="#222" stroke-width="1.1"/>
<text x="317.6" y="350" class="cl">Folch</text>
<line x1="353.6" y1="339.5" x2="353.6" y2="341.5" stroke="#222" stroke-width="1.1"/>
<text x="353.6" y="350" class="cl">MTBE</text>
<line x1="389.6" y1="339.5" x2="389.6" y2="341.5" stroke="#222" stroke-width="1.1"/>
<text x="389.6" y="350" class="cl">Bligh</text>
<line x1="425.6" y1="339.5" x2="425.6" y2="341.5" stroke="#222" stroke-width="1.1"/>
<text x="425.6" y="350" class="cl">MMC</text>
<text transform="translate(233.2,262.4) rotate(-90)" class="yl">Relative average lipid level (%)</text>
<text x="434.2" y="192.8" class="lt">e</text>
<rect x="280.55" y="203.83" width="1.8" height="1.5" fill="#4a9bff"/>
<rect x="280.55" y="207.78" width="1.8" height="1.5" fill="#4a9bff"/>
<rect x="282.52" y="212.78" width="1.8" height="1.5" fill="#4a9bff"/>
<rect x="275.94" y="215.67" width="1.8" height="1.5" fill="#4a9bff"/>
<rect x="278.31" y="215.93" width="1.8" height="1.5" fill="#4a9bff"/>
<rect x="280.55" y="214.62" width="1.8" height="1.5" fill="#4a9bff"/>
<rect x="282.78" y="215.93" width="1.8" height="1.5" fill="#4a9bff"/>
<rect x="285.15" y="215.41" width="1.8" height="1.5" fill="#4a9bff"/>
<rect x="278.31" y="218.04" width="1.8" height="1.5" fill="#4a9bff"/>
<rect x="280.55" y="217.64" width="1.8" height="1.5" fill="#4a9bff"/>
<rect x="282.78" y="218.57" width="1.8" height="1.5" fill="#4a9bff"/>
<rect x="278.31" y="219.88" width="1.8" height="1.5" fill="#4a9bff"/>
<rect x="280.55" y="219.88" width="1.8" height="1.5" fill="#4a9bff"/>
<rect x="282.78" y="220.28" width="1.8" height="1.5" fill="#4a9bff"/>
<rect x="278.31" y="221.59" width="1.8" height="1.5" fill="#4a9bff"/>
<rect x="280.55" y="222.51" width="1.8" height="1.5" fill="#4a9bff"/>
<rect x="282.78" y="220.93" width="1.8" height="1.5" fill="#4a9bff"/>
<rect x="280.55" y="224.88" width="1.8" height="1.5" fill="#4a9bff"/>
<rect x="282.78" y="224.62" width="1.8" height="1.5" fill="#4a9bff"/>
<rect x="278.31" y="229.09" width="1.8" height="1.5" fill="#4a9bff"/>
<rect x="280.55" y="229.49" width="1.8" height="1.5" fill="#4a9bff"/>
<rect x="282.78" y="229.88" width="1.8" height="1.5" fill="#4a9bff"/>
<rect x="278.31" y="230.8" width="1.8" height="1.5" fill="#4a9bff"/>
<rect x="278.31" y="232.51" width="1.8" height="1.5" fill="#4a9bff"/>
<rect x="280.55" y="233.43" width="1.8" height="1.5" fill="#4a9bff"/>
<rect x="282.78" y="231.72" width="1.8" height="1.5" fill="#4a9bff"/>
<rect x="278.31" y="235.14" width="1.8" height="1.5" fill="#4a9bff"/>
<rect x="280.55" y="236.46" width="1.8" height="1.5" fill="#4a9bff"/>
<rect x="282.78" y="236.07" width="1.8" height="1.5" fill="#4a9bff"/>
<rect x="280.55" y="240.67" width="1.8" height="1.5" fill="#4a9bff"/>
<rect x="282.78" y="242.64" width="1.8" height="1.5" fill="#4a9bff"/>
<rect x="280.55" y="243.57" width="1.8" height="1.5" fill="#4a9bff"/>
<rect x="280.55" y="251.46" width="1.8" height="1.5" fill="#4a9bff"/>
<rect x="280.55" y="255.8" width="1.8" height="1.5" fill="#4a9bff"/>
<rect x="316.73" y="211.99" width="1.8" height="1.5" fill="#2d3cff"/>
<rect x="316.73" y="218.04" width="1.8" height="1.5" fill="#2d3cff"/>
<rect x="314.1" y="220.67" width="1.8" height="1.5" fill="#2d3cff"/>
<rect x="316.73" y="221.72" width="1.8" height="1.5" fill="#2d3cff"/>
<rect x="316.73" y="227.78" width="1.8" height="1.5" fill="#2d3cff"/>
<rect x="319.1" y="227.51" width="1.8" height="1.5" fill="#2d3cff"/>
<rect x="316.73" y="231.72" width="1.8" height="1.5" fill="#2d3cff"/>
<rect x="314.1" y="234.36" width="1.8" height="1.5" fill="#2d3cff"/>
<rect x="316.73" y="235.41" width="1.8" height="1.5" fill="#2d3cff"/>
<rect x="319.1" y="234.75" width="1.8" height="1.5" fill="#2d3cff"/>
<rect x="309.49" y="239.09" width="1.8" height="1.5" fill="#2d3cff"/>
<rect x="311.73" y="239.62" width="1.8" height="1.5" fill="#2d3cff"/>
<rect x="314.1" y="239.62" width="1.8" height="1.5" fill="#2d3cff"/>
<rect x="316.73" y="239.09" width="1.8" height="1.5" fill="#2d3cff"/>
<rect x="319.1" y="239.62" width="1.8" height="1.5" fill="#2d3cff"/>
<rect x="321.34" y="239.62" width="1.8" height="1.5" fill="#2d3cff"/>
<rect x="323.97" y="239.09" width="1.8" height="1.5" fill="#2d3cff"/>
<rect x="314.1" y="241.33" width="1.8" height="1.5" fill="#2d3cff"/>
<rect x="316.73" y="240.93" width="1.8" height="1.5" fill="#2d3cff"/>
<rect x="319.1" y="241.33" width="1.8" height="1.5" fill="#2d3cff"/>
<rect x="314.1" y="243.3" width="1.8" height="1.5" fill="#2d3cff"/>
<rect x="316.73" y="243.96" width="1.8" height="1.5" fill="#2d3cff"/>
<rect x="319.1" y="243.04" width="1.8" height="1.5" fill="#2d3cff"/>
<rect x="314.1" y="245.93" width="1.8" height="1.5" fill="#2d3cff"/>
<rect x="316.73" y="246.2" width="1.8" height="1.5" fill="#2d3cff"/>
<rect x="319.1" y="245.67" width="1.8" height="1.5" fill="#2d3cff"/>
<rect x="314.1" y="248.83" width="1.8" height="1.5" fill="#2d3cff"/>
<rect x="316.73" y="248.57" width="1.8" height="1.5" fill="#2d3cff"/>
<rect x="319.1" y="248.57" width="1.8" height="1.5" fill="#2d3cff"/>
<rect x="316.73" y="260.14" width="1.8" height="1.5" fill="#2d3cff"/>
<rect x="352.8" y="210.74" width="1.8" height="1.5" fill="#a6cf1c"/>
<rect x="355.25" y="209.21" width="1.8" height="1.5" fill="#a6cf1c"/>
<rect x="350.19" y="215.64" width="1.8" height="1.5" fill="#a6cf1c"/>
<rect x="352.8" y="216.87" width="1.8" height="1.5" fill="#a6cf1c"/>
<rect x="352.8" y="224.84" width="1.8" height="1.5" fill="#a6cf1c"/>
<rect x="355.25" y="223" width="1.8" height="1.5" fill="#a6cf1c"/>
<rect x="350.19" y="229.44" width="1.8" height="1.5" fill="#a6cf1c"/>
<rect x="352.8" y="227.91" width="1.8" height="1.5" fill="#a6cf1c"/>
<rect x="355.25" y="229.75" width="1.8" height="1.5" fill="#a6cf1c"/>
<rect x="345.6" y="231.74" width="1.8" height="1.5" fill="#a6cf1c"/>
<rect x="347.9" y="232.2" width="1.8" height="1.5" fill="#a6cf1c"/>
<rect x="350.19" y="232.81" width="1.8" height="1.5" fill="#a6cf1c"/>
<rect x="352.8" y="233.27" width="1.8" height="1.5" fill="#a6cf1c"/>
<rect x="355.25" y="232.2" width="1.8" height="1.5" fill="#a6cf1c"/>
<rect x="357.86" y="231.74" width="1.8" height="1.5" fill="#a6cf1c"/>
<rect x="359.85" y="231.74" width="1.8" height="1.5" fill="#a6cf1c"/>
<rect x="350.19" y="238.33" width="1.8" height="1.5" fill="#a6cf1c"/>
<rect x="352.8" y="238.33" width="1.8" height="1.5" fill="#a6cf1c"/>
<rect x="355.25" y="238.64" width="1.8" height="1.5" fill="#a6cf1c"/>
<rect x="357.09" y="236.8" width="1.8" height="1.5" fill="#a6cf1c"/>
<rect x="350.19" y="240.93" width="1.8" height="1.5" fill="#a6cf1c"/>
<rect x="352.8" y="240.48" width="1.8" height="1.5" fill="#a6cf1c"/>
<rect x="355.25" y="240.93" width="1.8" height="1.5" fill="#a6cf1c"/>
<rect x="350.19" y="243.23" width="1.8" height="1.5" fill="#a6cf1c"/>
<rect x="352.8" y="242.93" width="1.8" height="1.5" fill="#a6cf1c"/>
<rect x="350.19" y="245.07" width="1.8" height="1.5" fill="#a6cf1c"/>
<rect x="352.8" y="245.07" width="1.8" height="1.5" fill="#a6cf1c"/>
<rect x="355.25" y="245.07" width="1.8" height="1.5" fill="#a6cf1c"/>
<rect x="352.8" y="248.6" width="1.8" height="1.5" fill="#a6cf1c"/>
<rect x="355.25" y="250.13" width="1.8" height="1.5" fill="#a6cf1c"/>
<rect x="352.8" y="251.2" width="1.8" height="1.5" fill="#a6cf1c"/>
<rect x="352.8" y="258.87" width="1.8" height="1.5" fill="#a6cf1c"/>
<rect x="352.8" y="268.83" width="1.8" height="1.5" fill="#a6cf1c"/>
<rect x="424.84" y="215.64" width="1.8" height="1.5" fill="#a31014"/>
<rect x="424.84" y="222.08" width="1.8" height="1.5" fill="#a31014"/>
<rect x="422.7" y="224.53" width="1.8" height="1.5" fill="#a31014"/>
<rect x="424.84" y="225.15" width="1.8" height="1.5" fill="#a31014"/>
<rect x="427.29" y="226.37" width="1.8" height="1.5" fill="#a31014"/>
<rect x="426.07" y="227.6" width="1.8" height="1.5" fill="#a31014"/>
<rect x="422.7" y="229.75" width="1.8" height="1.5" fill="#a31014"/>
<rect x="424.84" y="230.21" width="1.8" height="1.5" fill="#a31014"/>
<rect x="420.24" y="232.2" width="1.8" height="1.5" fill="#a31014"/>
<rect x="422.7" y="232.81" width="1.8" height="1.5" fill="#a31014"/>
<rect x="424.84" y="233.73" width="1.8" height="1.5" fill="#a31014"/>
<rect x="427.29" y="233.27" width="1.8" height="1.5" fill="#a31014"/>
<rect x="429.44" y="232.2" width="1.8" height="1.5" fill="#a31014"/>
<rect x="424.84" y="237.41" width="1.8" height="1.5" fill="#a31014"/>
<rect x="422.7" y="238.64" width="1.8" height="1.5" fill="#a31014"/>
<rect x="422.7" y="240.48" width="1.8" height="1.5" fill="#a31014"/>
<rect x="427.29" y="240.17" width="1.8" height="1.5" fill="#a31014"/>
<rect x="424.84" y="243.54" width="1.8" height="1.5" fill="#a31014"/>
<rect x="422.7" y="247.07" width="1.8" height="1.5" fill="#a31014"/>
<rect x="424.84" y="249.37" width="1.8" height="1.5" fill="#a31014"/>
<rect x="427.29" y="248.14" width="1.8" height="1.5" fill="#a31014"/>
<rect x="422.7" y="254.27" width="1.8" height="1.5" fill="#a31014"/>
<rect x="424.84" y="255.19" width="1.8" height="1.5" fill="#a31014"/>
<rect x="427.29" y="255.19" width="1.8" height="1.5" fill="#a31014"/>
<rect x="424.84" y="259.33" width="1.8" height="1.5" fill="#a31014"/>
<rect x="424.84" y="263.47" width="1.8" height="1.5" fill="#a31014"/>
<rect x="424.84" y="266.99" width="1.8" height="1.5" fill="#a31014"/>
<rect x="424.84" y="271.13" width="1.8" height="1.5" fill="#a31014"/>
<line x1="377.9" y1="203.9" x2="401.2" y2="203.9" stroke="#3f9c2c" stroke-width="1.8"/>
<line x1="269.8" y1="228.11" x2="293.4" y2="228.11" stroke="#222" stroke-width="1.3"/>
<line x1="305.8" y1="238.67" x2="329.4" y2="238.67" stroke="#222" stroke-width="1.3"/>
<line x1="341.8" y1="236.51" x2="365.4" y2="236.51" stroke="#333" stroke-width="1.3"/>
<line x1="413.8" y1="241.6" x2="437.4" y2="241.6" stroke="#222" stroke-width="1.3"/>
<path d="M317.7 201.4V199.7H352.3V201.4" fill="none" stroke="#9a9a9a" stroke-width="0.9"/>
<path d="M355.3 201.4V199.7H426.4V201.4" fill="none" stroke="#9a9a9a" stroke-width="0.9"/>
<path d="M317.7 197.8V196.1H426.4V197.8" fill="none" stroke="#9a9a9a" stroke-width="0.9"/>
<text x="373.4" y="194" class="ns">n.s</text>
<line x1="488.8" y1="194.6" x2="488.8" y2="332.8" stroke="#888" stroke-width="1.3"/>
<line x1="486.8" y1="332.3" x2="488.8" y2="332.3" stroke="#888" stroke-width="1.1"/>
<text x="486.6" y="335.5" class="tk">0</text>
<line x1="486.8" y1="300.98" x2="488.8" y2="300.98" stroke="#888" stroke-width="1.1"/>
<text x="486.6" y="304.18" class="tk">25</text>
<line x1="486.8" y1="269.65" x2="488.8" y2="269.65" stroke="#888" stroke-width="1.1"/>
<text x="486.6" y="272.85" class="tk">50</text>
<line x1="486.8" y1="238.33" x2="488.8" y2="238.33" stroke="#888" stroke-width="1.1"/>
<text x="486.6" y="241.53" class="tk">75</text>
<line x1="486.8" y1="207" x2="488.8" y2="207" stroke="#888" stroke-width="1.1"/>
<text x="486.6" y="207.6" class="tk">100</text>
<line x1="496.7" y1="340.1" x2="673.4" y2="340.1" stroke="#666" stroke-width="1.3"/>
<line x1="514.2" y1="340.1" x2="514.2" y2="342.1" stroke="#666" stroke-width="1.1"/>
<text x="514.2" y="350.6" class="cl">Pooled</text>
<line x1="549.52" y1="340.1" x2="549.52" y2="342.1" stroke="#666" stroke-width="1.1"/>
<text x="549.52" y="350.6" class="cl">Folch</text>
<line x1="584.84" y1="340.1" x2="584.84" y2="342.1" stroke="#666" stroke-width="1.1"/>
<text x="584.84" y="350.6" class="cl">MTBE</text>
<line x1="620.16" y1="340.1" x2="620.16" y2="342.1" stroke="#666" stroke-width="1.1"/>
<text x="620.16" y="350.6" class="cl">Bligh</text>
<line x1="655.48" y1="340.1" x2="655.48" y2="342.1" stroke="#666" stroke-width="1.1"/>
<text x="655.48" y="350.6" class="cl">MMC</text>
<text transform="translate(467.3,262.7) rotate(-90)" class="yl">Relative average lipid level (%)</text>
<text x="676.8" y="195.7" class="lt">f</text>
<rect x="503.7" y="206.05" width="1.8" height="1.5" fill="#4a9bff"/>
<rect x="505.82" y="206.05" width="1.8" height="1.5" fill="#4a9bff"/>
<rect x="507.94" y="206.05" width="1.8" height="1.5" fill="#4a9bff"/>
<rect x="510.07" y="206.05" width="1.8" height="1.5" fill="#4a9bff"/>
<rect x="512.19" y="206.05" width="1.8" height="1.5" fill="#4a9bff"/>
<rect x="514.31" y="206.05" width="1.8" height="1.5" fill="#4a9bff"/>
<rect x="516.43" y="206.05" width="1.8" height="1.5" fill="#4a9bff"/>
<rect x="518.56" y="206.05" width="1.8" height="1.5" fill="#4a9bff"/>
<rect x="520.68" y="206.05" width="1.8" height="1.5" fill="#4a9bff"/>
<rect x="522.8" y="206.05" width="1.8" height="1.5" fill="#4a9bff"/>
<rect x="510.94" y="209.78" width="1.8" height="1.5" fill="#4a9bff"/>
<rect x="512.92" y="210.43" width="1.8" height="1.5" fill="#4a9bff"/>
<rect x="512.92" y="214.38" width="1.8" height="1.5" fill="#4a9bff"/>
<rect x="515.15" y="214.38" width="1.8" height="1.5" fill="#4a9bff"/>
<rect x="510.94" y="217.01" width="1.8" height="1.5" fill="#4a9bff"/>
<rect x="512.92" y="219.64" width="1.8" height="1.5" fill="#4a9bff"/>
<rect x="508.57" y="222.93" width="1.8" height="1.5" fill="#4a9bff"/>
<rect x="510.94" y="222.67" width="1.8" height="1.5" fill="#4a9bff"/>
<rect x="512.92" y="222.28" width="1.8" height="1.5" fill="#4a9bff"/>
<rect x="515.15" y="222.93" width="1.8" height="1.5" fill="#4a9bff"/>
<rect x="517.52" y="221.62" width="1.8" height="1.5" fill="#4a9bff"/>
<rect x="508.57" y="226.22" width="1.8" height="1.5" fill="#4a9bff"/>
<rect x="510.94" y="227.14" width="1.8" height="1.5" fill="#4a9bff"/>
<rect x="512.92" y="225.3" width="1.8" height="1.5" fill="#4a9bff"/>
<rect x="515.15" y="226.22" width="1.8" height="1.5" fill="#4a9bff"/>
<rect x="517.52" y="227.14" width="1.8" height="1.5" fill="#4a9bff"/>
<rect x="510.94" y="229.51" width="1.8" height="1.5" fill="#4a9bff"/>
<rect x="512.92" y="230.83" width="1.8" height="1.5" fill="#4a9bff"/>
<rect x="515.15" y="229.78" width="1.8" height="1.5" fill="#4a9bff"/>
<rect x="515.15" y="232.14" width="1.8" height="1.5" fill="#4a9bff"/>
<rect x="512.92" y="233.72" width="1.8" height="1.5" fill="#4a9bff"/>
<rect x="510.94" y="237.41" width="1.8" height="1.5" fill="#4a9bff"/>
<rect x="512.92" y="239.38" width="1.8" height="1.5" fill="#4a9bff"/>
<rect x="512.92" y="245.96" width="1.8" height="1.5" fill="#4a9bff"/>
<rect x="512.92" y="256.09" width="1.8" height="1.5" fill="#4a9bff"/>
<rect x="512.9" y="286.05" width="1.8" height="1.5" fill="#4a9bff"/>
<rect x="543.84" y="206.09" width="1.8" height="1.5" fill="#2d3cff"/>
<rect x="545.81" y="206.09" width="1.8" height="1.5" fill="#2d3cff"/>
<rect x="548.44" y="207.14" width="1.8" height="1.5" fill="#2d3cff"/>
<rect x="551.07" y="206.09" width="1.8" height="1.5" fill="#2d3cff"/>
<rect x="553.05" y="206.09" width="1.8" height="1.5" fill="#2d3cff"/>
<rect x="546.21" y="209.51" width="1.8" height="1.5" fill="#2d3cff"/>
<rect x="548.44" y="211.09" width="1.8" height="1.5" fill="#2d3cff"/>
<rect x="550.68" y="210.04" width="1.8" height="1.5" fill="#2d3cff"/>
<rect x="543.84" y="212.67" width="1.8" height="1.5" fill="#2d3cff"/>
<rect x="546.21" y="213.99" width="1.8" height="1.5" fill="#2d3cff"/>
<rect x="548.44" y="214.78" width="1.8" height="1.5" fill="#2d3cff"/>
<rect x="550.68" y="213.46" width="1.8" height="1.5" fill="#2d3cff"/>
<rect x="546.21" y="216.09" width="1.8" height="1.5" fill="#2d3cff"/>
<rect x="548.44" y="217.01" width="1.8" height="1.5" fill="#2d3cff"/>
<rect x="550.68" y="216.62" width="1.8" height="1.5" fill="#2d3cff"/>
<rect x="546.21" y="220.04" width="1.8" height="1.5" fill="#2d3cff"/>
<rect x="548.44" y="220.04" width="1.8" height="1.5" fill="#2d3cff"/>
<rect x="550.68" y="220.04" width="1.8" height="1.5" fill="#2d3cff"/>
<rect x="550.68" y="221.62" width="1.8" height="1.5" fill="#2d3cff"/>
<rect x="553.05" y="222.93" width="1.8" height="1.5" fill="#2d3cff"/>
<rect x="543.84" y="223.59" width="1.8" height="1.5" fill="#2d3cff"/>
<rect x="546.21" y="224.51" width="1.8" height="1.5" fill="#2d3cff"/>
<rect x="548.44" y="224.91" width="1.8" height="1.5" fill="#2d3cff"/>
<rect x="550.68" y="223.99" width="1.8" height="1.5" fill="#2d3cff"/>
<rect x="546.21" y="229.25" width="1.8" height="1.5" fill="#2d3cff"/>
<rect x="548.44" y="230.57" width="1.8" height="1.5" fill="#2d3cff"/>
<rect x="550.68" y="228.86" width="1.8" height="1.5" fill="#2d3cff"/>
<rect x="548.44" y="236.09" width="1.8" height="1.5" fill="#2d3cff"/>
<rect x="546.21" y="240.04" width="1.8" height="1.5" fill="#2d3cff"/>
<rect x="548.44" y="242.01" width="1.8" height="1.5" fill="#2d3cff"/>
<rect x="550.68" y="242.93" width="1.8" height="1.5" fill="#2d3cff"/>
<rect x="546.21" y="245.57" width="1.8" height="1.5" fill="#2d3cff"/>
<rect x="548.44" y="244.64" width="1.8" height="1.5" fill="#2d3cff"/>
<rect x="548.44" y="247.28" width="1.8" height="1.5" fill="#2d3cff"/>
<rect x="548.44" y="252.14" width="1.8" height="1.5" fill="#2d3cff"/>
<rect x="550.68" y="251.62" width="1.8" height="1.5" fill="#2d3cff"/>
<rect x="581.51" y="205.82" width="1.8" height="1.5" fill="#a6cf1c"/>
<rect x="583.7" y="205.82" width="1.8" height="1.5" fill="#a6cf1c"/>
<rect x="586.33" y="205.82" width="1.8" height="1.5" fill="#a6cf1c"/>
<rect x="581.51" y="212.1" width="1.8" height="1.5" fill="#a6cf1c"/>
<rect x="583.7" y="213.85" width="1.8" height="1.5" fill="#a6cf1c"/>
<rect x="586.33" y="212.68" width="1.8" height="1.5" fill="#a6cf1c"/>
<rect x="583.7" y="217.94" width="1.8" height="1.5" fill="#a6cf1c"/>
<rect x="579.32" y="221.88" width="1.8" height="1.5" fill="#a6cf1c"/>
<rect x="581.51" y="222.61" width="1.8" height="1.5" fill="#a6cf1c"/>
<rect x="583.7" y="223.34" width="1.8" height="1.5" fill="#a6cf1c"/>
<rect x="586.33" y="222.9" width="1.8" height="1.5" fill="#a6cf1c"/>
<rect x="588.37" y="222.32" width="1.8" height="1.5" fill="#a6cf1c"/>
<rect x="579.32" y="224.07" width="1.8" height="1.5" fill="#a6cf1c"/>
<rect x="581.51" y="224.8" width="1.8" height="1.5" fill="#a6cf1c"/>
<rect x="583.7" y="225.53" width="1.8" height="1.5" fill="#a6cf1c"/>
<rect x="586.33" y="224.8" width="1.8" height="1.5" fill="#a6cf1c"/>
<rect x="588.37" y="224.36" width="1.8" height="1.5" fill="#a6cf1c"/>
<rect x="579.32" y="226.7" width="1.8" height="1.5" fill="#a6cf1c"/>
<rect x="581.51" y="226.99" width="1.8" height="1.5" fill="#a6cf1c"/>
<rect x="583.7" y="228.16" width="1.8" height="1.5" fill="#a6cf1c"/>
<rect x="586.33" y="227.28" width="1.8" height="1.5" fill="#a6cf1c"/>
<rect x="588.37" y="226.7" width="1.8" height="1.5" fill="#a6cf1c"/>
<rect x="579.32" y="232.83" width="1.8" height="1.5" fill="#a6cf1c"/>
<rect x="581.51" y="233.56" width="1.8" height="1.5" fill="#a6cf1c"/>
<rect x="583.7" y="233.99" width="1.8" height="1.5" fill="#a6cf1c"/>
<rect x="586.33" y="233.56" width="1.8" height="1.5" fill="#a6cf1c"/>
<rect x="588.37" y="233.12" width="1.8" height="1.5" fill="#a6cf1c"/>
<rect x="583.7" y="238.37" width="1.8" height="1.5" fill="#a6cf1c"/>
<rect x="583.7" y="243.78" width="1.8" height="1.5" fill="#a6cf1c"/>
<rect x="586.33" y="242.32" width="1.8" height="1.5" fill="#a6cf1c"/>
<rect x="583.7" y="246.7" width="1.8" height="1.5" fill="#a6cf1c"/>
<rect x="583.7" y="251.07" width="1.8" height="1.5" fill="#a6cf1c"/>
<rect x="581.51" y="255.02" width="1.8" height="1.5" fill="#a6cf1c"/>
<rect x="583.7" y="256.91" width="1.8" height="1.5" fill="#a6cf1c"/>
<rect x="583.7" y="305.25" width="1.8" height="1.5" fill="#a6cf1c"/>
<line x1="609.4" y1="206.8" x2="630.6" y2="206.8" stroke="#3ff01f" stroke-width="2"/>
<rect x="617.28" y="208.74" width="1.8" height="1.5" fill="#3ff01f"/>
<rect x="619.03" y="209.18" width="1.8" height="1.5" fill="#3ff01f"/>
<rect x="621.36" y="208.3" width="1.8" height="1.5" fill="#3ff01f"/>
<rect x="617.28" y="212.1" width="1.8" height="1.5" fill="#3ff01f"/>
<rect x="619.03" y="212.39" width="1.8" height="1.5" fill="#3ff01f"/>
<rect x="619.03" y="218.96" width="1.8" height="1.5" fill="#3ff01f"/>
<rect x="617.28" y="223.78" width="1.8" height="1.5" fill="#3ff01f"/>
<rect x="619.03" y="224.36" width="1.8" height="1.5" fill="#3ff01f"/>
<rect x="619.03" y="227.28" width="1.8" height="1.5" fill="#3ff01f"/>
<rect x="617.28" y="234.58" width="1.8" height="1.5" fill="#3ff01f"/>
<rect x="619.03" y="236.48" width="1.8" height="1.5" fill="#3ff01f"/>
<rect x="619.03" y="241.88" width="1.8" height="1.5" fill="#3ff01f"/>
<rect x="619.03" y="250.64" width="1.8" height="1.5" fill="#3ff01f"/>
<rect x="619" y="301.45" width="1.8" height="1.5" fill="#3ff01f"/>
<rect x="654.5" y="205.82" width="1.8" height="1.5" fill="#a31014"/>
<rect x="656.69" y="206.26" width="1.8" height="1.5" fill="#a31014"/>
<rect x="652.31" y="208.74" width="1.8" height="1.5" fill="#a31014"/>
<rect x="654.5" y="208.3" width="1.8" height="1.5" fill="#a31014"/>
<rect x="656.69" y="209.47" width="1.8" height="1.5" fill="#a31014"/>
<rect x="654.5" y="210.93" width="1.8" height="1.5" fill="#a31014"/>
<rect x="656.69" y="211.22" width="1.8" height="1.5" fill="#a31014"/>
<rect x="647.93" y="213.56" width="1.8" height="1.5" fill="#a31014"/>
<rect x="650.12" y="213.85" width="1.8" height="1.5" fill="#a31014"/>
<rect x="652.31" y="213.85" width="1.8" height="1.5" fill="#a31014"/>
<rect x="654.5" y="214.58" width="1.8" height="1.5" fill="#a31014"/>
<rect x="656.69" y="213.85" width="1.8" height="1.5" fill="#a31014"/>
<rect x="658.88" y="213.56" width="1.8" height="1.5" fill="#a31014"/>
<rect x="652.31" y="216.04" width="1.8" height="1.5" fill="#a31014"/>
<rect x="654.5" y="217.06" width="1.8" height="1.5" fill="#a31014"/>
<rect x="654.5" y="221.15" width="1.8" height="1.5" fill="#a31014"/>
<rect x="652.31" y="223.34" width="1.8" height="1.5" fill="#a31014"/>
<rect x="654.5" y="223.78" width="1.8" height="1.5" fill="#a31014"/>
<rect x="656.69" y="222.61" width="1.8" height="1.5" fill="#a31014"/>
<rect x="658.88" y="222.32" width="1.8" height="1.5" fill="#a31014"/>
<rect x="652.31" y="225.53" width="1.8" height="1.5" fill="#a31014"/>
<rect x="654.5" y="226.26" width="1.8" height="1.5" fill="#a31014"/>
<rect x="654.5" y="228.45" width="1.8" height="1.5" fill="#a31014"/>
<rect x="656.69" y="229.18" width="1.8" height="1.5" fill="#a31014"/>
<rect x="654.5" y="234.29" width="1.8" height="1.5" fill="#a31014"/>
<rect x="652.31" y="238.67" width="1.8" height="1.5" fill="#a31014"/>
<rect x="654.5" y="240.86" width="1.8" height="1.5" fill="#a31014"/>
<rect x="656.69" y="240.42" width="1.8" height="1.5" fill="#a31014"/>
<rect x="652.31" y="247.72" width="1.8" height="1.5" fill="#a31014"/>
<rect x="654.5" y="248.16" width="1.8" height="1.5" fill="#a31014"/>
<rect x="654.5" y="262.32" width="1.8" height="1.5" fill="#a31014"/>
<rect x="654.5" y="267.57" width="1.8" height="1.5" fill="#a31014"/>
<rect x="654.5" y="272.35" width="1.8" height="1.5" fill="#a31014"/>
<rect x="654.5" y="278.15" width="1.8" height="1.5" fill="#a31014"/>
<rect x="654.5" y="286.55" width="1.8" height="1.5" fill="#a31014"/>
<rect x="654.5" y="293.35" width="1.8" height="1.5" fill="#a31014"/>
<rect x="654.5" y="313.65" width="1.8" height="1.5" fill="#a31014"/>
<line x1="502.4" y1="224.67" x2="526" y2="224.67" stroke="#222" stroke-width="1.3"/>
<line x1="537.72" y1="225.67" x2="561.32" y2="225.67" stroke="#222" stroke-width="1.3"/>
<line x1="573.04" y1="231.31" x2="596.64" y2="231.31" stroke="#888" stroke-width="1.6"/>
<line x1="608.36" y1="215.4" x2="631.96" y2="215.4" stroke="#222" stroke-width="1.3"/>
<line x1="643.68" y1="233.94" x2="667.28" y2="233.94" stroke="#222" stroke-width="1.3"/>
<path d="M513.5 183.4V181.7H654.6V183.4" fill="none" stroke="#9a9a9a" stroke-width="0.9"/>
<path d="M513.5 187V185.3H618.4V187" fill="none" stroke="#9a9a9a" stroke-width="0.9"/>
<path d="M513.5 190.5V188.8H584.5V190.5" fill="none" stroke="#9a9a9a" stroke-width="0.9"/>
<path d="M551 194.1V192.4H654.6V194.1" fill="none" stroke="#9a9a9a" stroke-width="0.9"/>
<path d="M584 197.5V195.8H654.6V197.5" fill="none" stroke="#9a9a9a" stroke-width="0.9"/>
<path d="M551 200.6V198.9H621.8V200.6" fill="none" stroke="#555" stroke-width="0.9"/>
<path d="M513.5 204.2V202.5H547.7V204.2" fill="none" stroke="#9a9a9a" stroke-width="0.9"/>
<path d="M551 204.2V202.5H584.5V204.2" fill="none" stroke="#9a9a9a" stroke-width="0.9"/>
<text x="583.8" y="181.2" class="ns">n.s</text>
<line x1="30.3" y1="370.4" x2="30.3" y2="511.5" stroke="#777" stroke-width="1.3"/>
<line x1="28.3" y1="511" x2="30.3" y2="511" stroke="#777" stroke-width="1.1"/>
<text x="26.9" y="514.2" class="tk">0</text>
<line x1="28.3" y1="479.07" x2="30.3" y2="479.07" stroke="#777" stroke-width="1.1"/>
<text x="26.9" y="482.27" class="tk">25</text>
<line x1="28.3" y1="447.15" x2="30.3" y2="447.15" stroke="#777" stroke-width="1.1"/>
<text x="26.9" y="450.35" class="tk">50</text>
<line x1="28.3" y1="415.23" x2="30.3" y2="415.23" stroke="#777" stroke-width="1.1"/>
<text x="26.9" y="418.43" class="tk">75</text>
<line x1="28.3" y1="383.3" x2="30.3" y2="383.3" stroke="#777" stroke-width="1.1"/>
<text x="26.9" y="386.5" class="tk">100</text>
<line x1="37.5" y1="518.7" x2="217.8" y2="518.7" stroke="#444" stroke-width="1.3"/>
<line x1="55.5" y1="518.7" x2="55.5" y2="520.7" stroke="#444" stroke-width="1.1"/>
<text x="55.5" y="529.2" class="cl">Pooled</text>
<line x1="91.55" y1="518.7" x2="91.55" y2="520.7" stroke="#444" stroke-width="1.1"/>
<text x="91.55" y="529.2" class="cl">Folch</text>
<line x1="127.6" y1="518.7" x2="127.6" y2="520.7" stroke="#444" stroke-width="1.1"/>
<text x="127.6" y="529.2" class="cl">MTBE</text>
<line x1="163.65" y1="518.7" x2="163.65" y2="520.7" stroke="#444" stroke-width="1.1"/>
<text x="163.65" y="529.2" class="cl">Bligh</text>
<line x1="199.7" y1="518.7" x2="199.7" y2="520.7" stroke="#444" stroke-width="1.1"/>
<text x="199.7" y="529.2" class="cl">MMC</text>
<text transform="translate(7.3,442.7) rotate(-90)" class="yl">Relative average lipid level (%)</text>
<text x="208.8" y="374.3" class="lt">g</text>
<rect x="54.6" y="382.65" width="1.8" height="1.5" fill="#4a9bff"/>
<rect x="54.6" y="388.55" width="1.8" height="1.5" fill="#4a9bff"/>
<rect x="53.6" y="391.65" width="1.8" height="1.5" fill="#4a9bff"/>
<rect x="55.7" y="391.65" width="1.8" height="1.5" fill="#4a9bff"/>
<rect x="47.3" y="393.49" width="1.7" height="1.45" fill="#4a9bff"/>
<rect x="49.4" y="393.7" width="1.7" height="1.45" fill="#4a9bff"/>
<rect x="51.5" y="393.58" width="1.7" height="1.45" fill="#4a9bff"/>
<rect x="53.6" y="393.66" width="1.7" height="1.45" fill="#4a9bff"/>
<rect x="55.7" y="393.66" width="1.7" height="1.45" fill="#4a9bff"/>
<rect x="57.8" y="393.78" width="1.7" height="1.45" fill="#4a9bff"/>
<rect x="59.9" y="393.44" width="1.7" height="1.45" fill="#4a9bff"/>
<rect x="62" y="393.42" width="1.7" height="1.45" fill="#4a9bff"/>
<rect x="63.05" y="393.67" width="1.7" height="1.45" fill="#4a9bff"/>
<rect x="49.4" y="395.09" width="1.7" height="1.45" fill="#4a9bff"/>
<rect x="51.5" y="395.13" width="1.7" height="1.45" fill="#4a9bff"/>
<rect x="53.6" y="394.96" width="1.7" height="1.45" fill="#4a9bff"/>
<rect x="55.7" y="394.95" width="1.7" height="1.45" fill="#4a9bff"/>
<rect x="57.8" y="395.05" width="1.7" height="1.45" fill="#4a9bff"/>
<rect x="59.9" y="395.11" width="1.7" height="1.45" fill="#4a9bff"/>
<rect x="60.95" y="395.05" width="1.7" height="1.45" fill="#4a9bff"/>
<rect x="45.2" y="396.63" width="1.7" height="1.45" fill="#4a9bff"/>
<rect x="47.3" y="396.4" width="1.7" height="1.45" fill="#4a9bff"/>
<rect x="49.4" y="396.4" width="1.7" height="1.45" fill="#4a9bff"/>
<rect x="51.5" y="396.51" width="1.7" height="1.45" fill="#4a9bff"/>
<rect x="53.6" y="396.45" width="1.7" height="1.45" fill="#4a9bff"/>
<rect x="57.8" y="396.52" width="1.7" height="1.45" fill="#4a9bff"/>
<rect x="59.9" y="396.22" width="1.7" height="1.45" fill="#4a9bff"/>
<rect x="62" y="396.19" width="1.7" height="1.45" fill="#4a9bff"/>
<rect x="64.1" y="396.52" width="1.7" height="1.45" fill="#4a9bff"/>
<rect x="65.15" y="396.51" width="1.7" height="1.45" fill="#4a9bff"/>
<rect x="45.2" y="397.73" width="1.7" height="1.45" fill="#4a9bff"/>
<rect x="47.3" y="397.57" width="1.7" height="1.45" fill="#4a9bff"/>
<rect x="49.4" y="397.72" width="1.7" height="1.45" fill="#4a9bff"/>
<rect x="51.5" y="397.96" width="1.7" height="1.45" fill="#4a9bff"/>
<rect x="53.6" y="397.64" width="1.7" height="1.45" fill="#4a9bff"/>
<rect x="55.7" y="397.91" width="1.7" height="1.45" fill="#4a9bff"/>
<rect x="57.8" y="397.62" width="1.7" height="1.45" fill="#4a9bff"/>
<rect x="59.9" y="397.95" width="1.7" height="1.45" fill="#4a9bff"/>
<rect x="62" y="397.66" width="1.7" height="1.45" fill="#4a9bff"/>
<rect x="64.1" y="397.93" width="1.7" height="1.45" fill="#4a9bff"/>
<rect x="65.15" y="397.79" width="1.7" height="1.45" fill="#4a9bff"/>
<rect x="46.25" y="399.18" width="1.7" height="1.45" fill="#4a9bff"/>
<rect x="48.35" y="399.15" width="1.7" height="1.45" fill="#4a9bff"/>
<rect x="50.45" y="399.36" width="1.7" height="1.45" fill="#4a9bff"/>
<rect x="54.65" y="399.41" width="1.7" height="1.45" fill="#4a9bff"/>
<rect x="56.75" y="399.09" width="1.7" height="1.45" fill="#4a9bff"/>
<rect x="58.85" y="399.38" width="1.7" height="1.45" fill="#4a9bff"/>
<rect x="60.95" y="399.23" width="1.7" height="1.45" fill="#4a9bff"/>
<rect x="63.05" y="399.4" width="1.7" height="1.45" fill="#4a9bff"/>
<rect x="47.3" y="400.92" width="1.7" height="1.45" fill="#4a9bff"/>
<rect x="49.4" y="400.65" width="1.7" height="1.45" fill="#4a9bff"/>
<rect x="51.5" y="400.66" width="1.7" height="1.45" fill="#4a9bff"/>
<rect x="53.6" y="400.87" width="1.7" height="1.45" fill="#4a9bff"/>
<rect x="55.7" y="400.83" width="1.7" height="1.45" fill="#4a9bff"/>
<rect x="57.8" y="400.69" width="1.7" height="1.45" fill="#4a9bff"/>
<rect x="59.9" y="400.61" width="1.7" height="1.45" fill="#4a9bff"/>
<rect x="62" y="400.84" width="1.7" height="1.45" fill="#4a9bff"/>
<rect x="63.05" y="400.56" width="1.7" height="1.45" fill="#4a9bff"/>
<rect x="45.2" y="402.1" width="1.7" height="1.45" fill="#4a9bff"/>
<rect x="47.3" y="401.78" width="1.7" height="1.45" fill="#4a9bff"/>
<rect x="49.4" y="401.77" width="1.7" height="1.45" fill="#4a9bff"/>
<rect x="53.6" y="402.09" width="1.7" height="1.45" fill="#4a9bff"/>
<rect x="57.8" y="401.87" width="1.7" height="1.45" fill="#4a9bff"/>
<rect x="59.9" y="401.81" width="1.7" height="1.45" fill="#4a9bff"/>
<rect x="62" y="402.12" width="1.7" height="1.45" fill="#4a9bff"/>
<rect x="64.1" y="401.94" width="1.7" height="1.45" fill="#4a9bff"/>
<rect x="65.15" y="402" width="1.7" height="1.45" fill="#4a9bff"/>
<rect x="45.2" y="403.46" width="1.7" height="1.45" fill="#4a9bff"/>
<rect x="47.3" y="403.4" width="1.7" height="1.45" fill="#4a9bff"/>
<rect x="51.5" y="403.32" width="1.7" height="1.45" fill="#4a9bff"/>
<rect x="53.6" y="403.7" width="1.7" height="1.45" fill="#4a9bff"/>
<rect x="55.7" y="403.41" width="1.7" height="1.45" fill="#4a9bff"/>
<rect x="57.8" y="403.68" width="1.7" height="1.45" fill="#4a9bff"/>
<rect x="59.9" y="403.34" width="1.7" height="1.45" fill="#4a9bff"/>
<rect x="62" y="403.43" width="1.7" height="1.45" fill="#4a9bff"/>
<rect x="64.1" y="403.69" width="1.7" height="1.45" fill="#4a9bff"/>
<rect x="65.15" y="403.44" width="1.7" height="1.45" fill="#4a9bff"/>
<rect x="46.25" y="396.22" width="1.7" height="1.45" fill="#4a9bff"/>
<rect x="52.55" y="396.29" width="1.7" height="1.45" fill="#4a9bff"/>
<rect x="54.65" y="396.14" width="1.7" height="1.45" fill="#4a9bff"/>
<rect x="58.85" y="396.41" width="1.7" height="1.45" fill="#4a9bff"/>
<rect x="63.05" y="396.17" width="1.7" height="1.45" fill="#4a9bff"/>
<rect x="44.15" y="397.9" width="1.7" height="1.45" fill="#4a9bff"/>
<rect x="48.35" y="397.63" width="1.7" height="1.45" fill="#4a9bff"/>
<rect x="50.45" y="397.93" width="1.7" height="1.45" fill="#4a9bff"/>
<rect x="56.75" y="397.71" width="1.7" height="1.45" fill="#4a9bff"/>
<rect x="58.85" y="397.82" width="1.7" height="1.45" fill="#4a9bff"/>
<rect x="60.95" y="398.06" width="1.7" height="1.45" fill="#4a9bff"/>
<rect x="63.05" y="398.1" width="1.7" height="1.45" fill="#4a9bff"/>
<rect x="65.15" y="398.04" width="1.7" height="1.45" fill="#4a9bff"/>
<rect x="51.5" y="399.14" width="1.7" height="1.45" fill="#4a9bff"/>
<rect x="57.8" y="399.24" width="1.7" height="1.45" fill="#4a9bff"/>
<rect x="64.1" y="399.21" width="1.7" height="1.45" fill="#4a9bff"/>
<rect x="46.25" y="400.42" width="1.7" height="1.45" fill="#4a9bff"/>
<rect x="50.45" y="400.79" width="1.7" height="1.45" fill="#4a9bff"/>
<rect x="52.55" y="400.52" width="1.7" height="1.45" fill="#4a9bff"/>
<rect x="54.65" y="400.29" width="1.7" height="1.45" fill="#4a9bff"/>
<rect x="56.75" y="400.34" width="1.7" height="1.45" fill="#4a9bff"/>
<rect x="58.85" y="400.51" width="1.7" height="1.45" fill="#4a9bff"/>
<rect x="63.05" y="400.64" width="1.7" height="1.45" fill="#4a9bff"/>
<rect x="47.3" y="402.03" width="1.7" height="1.45" fill="#4a9bff"/>
<rect x="51.5" y="402.08" width="1.7" height="1.45" fill="#4a9bff"/>
<rect x="59.9" y="402.27" width="1.7" height="1.45" fill="#4a9bff"/>
<rect x="47.3" y="403.76" width="1.7" height="1.45" fill="#4a9bff"/>
<rect x="49.4" y="403.5" width="1.7" height="1.45" fill="#4a9bff"/>
<rect x="51.5" y="403.87" width="1.7" height="1.45" fill="#4a9bff"/>
<rect x="53.6" y="403.43" width="1.7" height="1.45" fill="#4a9bff"/>
<rect x="57.8" y="403.69" width="1.7" height="1.45" fill="#4a9bff"/>
<rect x="59.9" y="403.55" width="1.7" height="1.45" fill="#4a9bff"/>
<rect x="62" y="403.78" width="1.7" height="1.45" fill="#4a9bff"/>
<rect x="63.05" y="403.88" width="1.7" height="1.45" fill="#4a9bff"/>
<rect x="51.5" y="409.11" width="1.7" height="1.45" fill="#4a9bff"/>
<rect x="57.8" y="408.86" width="1.7" height="1.45" fill="#4a9bff"/>
<rect x="58.85" y="408.71" width="1.7" height="1.45" fill="#4a9bff"/>
<rect x="51.5" y="410.96" width="1.7" height="1.45" fill="#4a9bff"/>
<rect x="59.9" y="410.88" width="1.7" height="1.45" fill="#4a9bff"/>
<rect x="51.5" y="412.99" width="1.7" height="1.45" fill="#4a9bff"/>
<rect x="53.6" y="412.96" width="1.7" height="1.45" fill="#4a9bff"/>
<rect x="57.8" y="412.76" width="1.7" height="1.45" fill="#4a9bff"/>
<rect x="58.85" y="413.07" width="1.7" height="1.45" fill="#4a9bff"/>
<rect x="49.4" y="414.87" width="1.7" height="1.45" fill="#4a9bff"/>
<rect x="51.5" y="414.62" width="1.7" height="1.45" fill="#4a9bff"/>
<rect x="55.7" y="414.9" width="1.7" height="1.45" fill="#4a9bff"/>
<rect x="57.8" y="414.94" width="1.7" height="1.45" fill="#4a9bff"/>
<rect x="59.9" y="414.67" width="1.7" height="1.45" fill="#4a9bff"/>
<rect x="50.45" y="416.68" width="1.7" height="1.45" fill="#4a9bff"/>
<rect x="52.55" y="416.65" width="1.7" height="1.45" fill="#4a9bff"/>
<rect x="56.75" y="416.67" width="1.7" height="1.45" fill="#4a9bff"/>
<rect x="58.85" y="416.68" width="1.7" height="1.45" fill="#4a9bff"/>
<rect x="51.5" y="418.49" width="1.7" height="1.45" fill="#4a9bff"/>
<rect x="53.6" y="418.4" width="1.7" height="1.45" fill="#4a9bff"/>
<rect x="55.7" y="418.39" width="1.7" height="1.45" fill="#4a9bff"/>
<rect x="54.65" y="420.22" width="1.7" height="1.45" fill="#4a9bff"/>
<rect x="56.75" y="420.28" width="1.7" height="1.45" fill="#4a9bff"/>
<rect x="56.75" y="422.16" width="1.7" height="1.45" fill="#4a9bff"/>
<rect x="47.3" y="424.39" width="1.7" height="1.45" fill="#4a9bff"/>
<rect x="53.6" y="424.12" width="1.7" height="1.45" fill="#4a9bff"/>
<rect x="57.8" y="424.05" width="1.7" height="1.45" fill="#4a9bff"/>
<rect x="59.9" y="424.01" width="1.7" height="1.45" fill="#4a9bff"/>
<rect x="62" y="424.21" width="1.7" height="1.45" fill="#4a9bff"/>
<rect x="47.3" y="426.07" width="1.7" height="1.45" fill="#4a9bff"/>
<rect x="55.7" y="426.17" width="1.7" height="1.45" fill="#4a9bff"/>
<rect x="57.8" y="426.43" width="1.7" height="1.45" fill="#4a9bff"/>
<rect x="62" y="426.32" width="1.7" height="1.45" fill="#4a9bff"/>
<rect x="53.6" y="428.23" width="1.7" height="1.45" fill="#4a9bff"/>
<rect x="57.8" y="428.04" width="1.7" height="1.45" fill="#4a9bff"/>
<rect x="52.55" y="429.7" width="1.7" height="1.45" fill="#4a9bff"/>
<rect x="54.65" y="429.62" width="1.7" height="1.45" fill="#4a9bff"/>
<rect x="56.75" y="429.51" width="1.7" height="1.45" fill="#4a9bff"/>
<rect x="49.9" y="431.25" width="1.8" height="1.5" fill="#4a9bff"/>
<rect x="52.4" y="432.85" width="1.8" height="1.5" fill="#4a9bff"/>
<rect x="54.7" y="433.15" width="1.8" height="1.5" fill="#4a9bff"/>
<rect x="56.7" y="432.55" width="1.8" height="1.5" fill="#4a9bff"/>
<rect x="54.7" y="436.45" width="1.8" height="1.5" fill="#4a9bff"/>
<rect x="56.7" y="435.35" width="1.8" height="1.5" fill="#4a9bff"/>
<rect x="54.7" y="439.75" width="1.8" height="1.5" fill="#4a9bff"/>
<rect x="54.7" y="447.45" width="1.8" height="1.5" fill="#4a9bff"/>
<rect x="56.7" y="446.15" width="1.8" height="1.5" fill="#4a9bff"/>
<rect x="79.9" y="382.25" width="1.8" height="1.5" fill="#2d3cff"/>
<rect x="82.1" y="382.25" width="1.8" height="1.5" fill="#2d3cff"/>
<rect x="84.3" y="382.25" width="1.8" height="1.5" fill="#2d3cff"/>
<rect x="86.5" y="382.25" width="1.8" height="1.5" fill="#2d3cff"/>
<rect x="88.7" y="382.25" width="1.8" height="1.5" fill="#2d3cff"/>
<rect x="90.9" y="382.25" width="1.8" height="1.5" fill="#2d3cff"/>
<rect x="93.1" y="382.25" width="1.8" height="1.5" fill="#2d3cff"/>
<rect x="95.3" y="382.25" width="1.8" height="1.5" fill="#2d3cff"/>
<rect x="97.5" y="382.25" width="1.8" height="1.5" fill="#2d3cff"/>
<rect x="99.7" y="382.25" width="1.8" height="1.5" fill="#2d3cff"/>
<rect x="101.9" y="382.25" width="1.8" height="1.5" fill="#2d3cff"/>
<rect x="82.25" y="383.53" width="1.7" height="1.45" fill="#2d3cff"/>
<rect x="84.35" y="383.29" width="1.7" height="1.45" fill="#2d3cff"/>
<rect x="86.45" y="383.37" width="1.7" height="1.45" fill="#2d3cff"/>
<rect x="88.55" y="383.62" width="1.7" height="1.45" fill="#2d3cff"/>
<rect x="90.65" y="383.63" width="1.7" height="1.45" fill="#2d3cff"/>
<rect x="92.75" y="383.56" width="1.7" height="1.45" fill="#2d3cff"/>
<rect x="94.85" y="383.32" width="1.7" height="1.45" fill="#2d3cff"/>
<rect x="96.95" y="383.43" width="1.7" height="1.45" fill="#2d3cff"/>
<rect x="99.05" y="383.3" width="1.7" height="1.45" fill="#2d3cff"/>
<rect x="81.2" y="384.36" width="1.7" height="1.45" fill="#2d3cff"/>
<rect x="83.3" y="384.73" width="1.7" height="1.45" fill="#2d3cff"/>
<rect x="85.4" y="384.61" width="1.7" height="1.45" fill="#2d3cff"/>
<rect x="87.5" y="384.64" width="1.7" height="1.45" fill="#2d3cff"/>
<rect x="89.6" y="384.36" width="1.7" height="1.45" fill="#2d3cff"/>
<rect x="91.7" y="384.75" width="1.7" height="1.45" fill="#2d3cff"/>
<rect x="93.8" y="384.76" width="1.7" height="1.45" fill="#2d3cff"/>
<rect x="95.9" y="384.36" width="1.7" height="1.45" fill="#2d3cff"/>
<rect x="98" y="384.74" width="1.7" height="1.45" fill="#2d3cff"/>
<rect x="100.1" y="384.63" width="1.7" height="1.45" fill="#2d3cff"/>
<rect x="101.15" y="384.78" width="1.7" height="1.45" fill="#2d3cff"/>
<rect x="82.25" y="385.41" width="1.7" height="1.45" fill="#2d3cff"/>
<rect x="84.35" y="385.73" width="1.7" height="1.45" fill="#2d3cff"/>
<rect x="86.45" y="385.66" width="1.7" height="1.45" fill="#2d3cff"/>
<rect x="88.55" y="385.43" width="1.7" height="1.45" fill="#2d3cff"/>
<rect x="90.65" y="385.82" width="1.7" height="1.45" fill="#2d3cff"/>
<rect x="92.75" y="385.51" width="1.7" height="1.45" fill="#2d3cff"/>
<rect x="94.85" y="385.51" width="1.7" height="1.45" fill="#2d3cff"/>
<rect x="96.95" y="385.63" width="1.7" height="1.45" fill="#2d3cff"/>
<rect x="99.05" y="385.53" width="1.7" height="1.45" fill="#2d3cff"/>
<rect x="81.2" y="386.68" width="1.7" height="1.45" fill="#2d3cff"/>
<rect x="83.3" y="386.73" width="1.7" height="1.45" fill="#2d3cff"/>
<rect x="85.4" y="386.92" width="1.7" height="1.45" fill="#2d3cff"/>
<rect x="87.5" y="387.06" width="1.7" height="1.45" fill="#2d3cff"/>
<rect x="89.6" y="386.59" width="1.7" height="1.45" fill="#2d3cff"/>
<rect x="91.7" y="386.77" width="1.7" height="1.45" fill="#2d3cff"/>
<rect x="93.8" y="386.76" width="1.7" height="1.45" fill="#2d3cff"/>
<rect x="95.9" y="386.6" width="1.7" height="1.45" fill="#2d3cff"/>
<rect x="98" y="386.82" width="1.7" height="1.45" fill="#2d3cff"/>
<rect x="100.1" y="386.79" width="1.7" height="1.45" fill="#2d3cff"/>
<rect x="81.2" y="388.29" width="1.7" height="1.45" fill="#2d3cff"/>
<rect x="83.3" y="388.28" width="1.7" height="1.45" fill="#2d3cff"/>
<rect x="85.4" y="387.9" width="1.7" height="1.45" fill="#2d3cff"/>
<rect x="87.5" y="388.35" width="1.7" height="1.45" fill="#2d3cff"/>
<rect x="89.6" y="388.37" width="1.7" height="1.45" fill="#2d3cff"/>
<rect x="91.7" y="387.93" width="1.7" height="1.45" fill="#2d3cff"/>
<rect x="93.8" y="388.32" width="1.7" height="1.45" fill="#2d3cff"/>
<rect x="95.9" y="387.88" width="1.7" height="1.45" fill="#2d3cff"/>
<rect x="98" y="388.12" width="1.7" height="1.45" fill="#2d3cff"/>
<rect x="100.1" y="387.97" width="1.7" height="1.45" fill="#2d3cff"/>
<rect x="101.15" y="388.31" width="1.7" height="1.45" fill="#2d3cff"/>
<rect x="80.15" y="389.24" width="1.7" height="1.45" fill="#2d3cff"/>
<rect x="82.25" y="389.2" width="1.7" height="1.45" fill="#2d3cff"/>
<rect x="84.35" y="389.41" width="1.7" height="1.45" fill="#2d3cff"/>
<rect x="86.45" y="389.16" width="1.7" height="1.45" fill="#2d3cff"/>
<rect x="88.55" y="389.07" width="1.7" height="1.45" fill="#2d3cff"/>
<rect x="90.65" y="389.07" width="1.7" height="1.45" fill="#2d3cff"/>
<rect x="92.75" y="389.45" width="1.7" height="1.45" fill="#2d3cff"/>
<rect x="94.85" y="389.13" width="1.7" height="1.45" fill="#2d3cff"/>
<rect x="96.95" y="389.37" width="1.7" height="1.45" fill="#2d3cff"/>
<rect x="99.05" y="389.2" width="1.7" height="1.45" fill="#2d3cff"/>
<rect x="101.15" y="389.51" width="1.7" height="1.45" fill="#2d3cff"/>
<rect x="81.2" y="390.39" width="1.7" height="1.45" fill="#2d3cff"/>
<rect x="83.3" y="390.57" width="1.7" height="1.45" fill="#2d3cff"/>
<rect x="85.4" y="390.38" width="1.7" height="1.45" fill="#2d3cff"/>
<rect x="87.5" y="390.52" width="1.7" height="1.45" fill="#2d3cff"/>
<rect x="89.6" y="390.57" width="1.7" height="1.45" fill="#2d3cff"/>
<rect x="91.7" y="390.52" width="1.7" height="1.45" fill="#2d3cff"/>
<rect x="93.8" y="390.61" width="1.7" height="1.45" fill="#2d3cff"/>
<rect x="95.9" y="390.62" width="1.7" height="1.45" fill="#2d3cff"/>
<rect x="98" y="390.46" width="1.7" height="1.45" fill="#2d3cff"/>
<rect x="100.1" y="390.41" width="1.7" height="1.45" fill="#2d3cff"/>
<rect x="101.15" y="390.63" width="1.7" height="1.45" fill="#2d3cff"/>
<rect x="84.35" y="391.94" width="1.7" height="1.45" fill="#2d3cff"/>
<rect x="86.45" y="391.59" width="1.7" height="1.45" fill="#2d3cff"/>
<rect x="88.55" y="391.68" width="1.7" height="1.45" fill="#2d3cff"/>
<rect x="90.65" y="391.7" width="1.7" height="1.45" fill="#2d3cff"/>
<rect x="92.75" y="391.63" width="1.7" height="1.45" fill="#2d3cff"/>
<rect x="94.85" y="391.83" width="1.7" height="1.45" fill="#2d3cff"/>
<rect x="96.95" y="391.94" width="1.7" height="1.45" fill="#2d3cff"/>
<rect x="84.35" y="392.7" width="1.7" height="1.45" fill="#2d3cff"/>
<rect x="86.45" y="392.56" width="1.7" height="1.45" fill="#2d3cff"/>
<rect x="88.55" y="392.77" width="1.7" height="1.45" fill="#2d3cff"/>
<rect x="90.65" y="392.93" width="1.7" height="1.45" fill="#2d3cff"/>
<rect x="92.75" y="392.82" width="1.7" height="1.45" fill="#2d3cff"/>
<rect x="94.85" y="392.66" width="1.7" height="1.45" fill="#2d3cff"/>
<rect x="96.95" y="392.74" width="1.7" height="1.45" fill="#2d3cff"/>
<rect x="86.45" y="384.25" width="1.7" height="1.45" fill="#2d3cff"/>
<rect x="88.55" y="383.95" width="1.7" height="1.45" fill="#2d3cff"/>
<rect x="90.65" y="384.14" width="1.7" height="1.45" fill="#2d3cff"/>
<rect x="94.85" y="384.34" width="1.7" height="1.45" fill="#2d3cff"/>
<rect x="80.15" y="385.33" width="1.7" height="1.45" fill="#2d3cff"/>
<rect x="82.25" y="385.18" width="1.7" height="1.45" fill="#2d3cff"/>
<rect x="86.45" y="385.44" width="1.7" height="1.45" fill="#2d3cff"/>
<rect x="88.55" y="385.16" width="1.7" height="1.45" fill="#2d3cff"/>
<rect x="90.65" y="385.3" width="1.7" height="1.45" fill="#2d3cff"/>
<rect x="92.75" y="385.4" width="1.7" height="1.45" fill="#2d3cff"/>
<rect x="94.85" y="385.25" width="1.7" height="1.45" fill="#2d3cff"/>
<rect x="99.05" y="385.53" width="1.7" height="1.45" fill="#2d3cff"/>
<rect x="85.4" y="386.71" width="1.7" height="1.45" fill="#2d3cff"/>
<rect x="87.5" y="386.84" width="1.7" height="1.45" fill="#2d3cff"/>
<rect x="89.6" y="386.57" width="1.7" height="1.45" fill="#2d3cff"/>
<rect x="93.8" y="386.78" width="1.7" height="1.45" fill="#2d3cff"/>
<rect x="98" y="386.52" width="1.7" height="1.45" fill="#2d3cff"/>
<rect x="102.2" y="386.84" width="1.7" height="1.45" fill="#2d3cff"/>
<rect x="81.2" y="387.61" width="1.7" height="1.45" fill="#2d3cff"/>
<rect x="85.4" y="387.72" width="1.7" height="1.45" fill="#2d3cff"/>
<rect x="87.5" y="387.86" width="1.7" height="1.45" fill="#2d3cff"/>
<rect x="93.8" y="387.8" width="1.7" height="1.45" fill="#2d3cff"/>
<rect x="95.9" y="387.6" width="1.7" height="1.45" fill="#2d3cff"/>
<rect x="82.25" y="389.28" width="1.7" height="1.45" fill="#2d3cff"/>
<rect x="92.75" y="389.3" width="1.7" height="1.45" fill="#2d3cff"/>
<rect x="94.85" y="389.06" width="1.7" height="1.45" fill="#2d3cff"/>
<rect x="96.95" y="389.31" width="1.7" height="1.45" fill="#2d3cff"/>
<rect x="80.15" y="390.69" width="1.7" height="1.45" fill="#2d3cff"/>
<rect x="82.25" y="390.48" width="1.7" height="1.45" fill="#2d3cff"/>
<rect x="86.45" y="390.32" width="1.7" height="1.45" fill="#2d3cff"/>
<rect x="96.95" y="390.29" width="1.7" height="1.45" fill="#2d3cff"/>
<rect x="99.05" y="390.7" width="1.7" height="1.45" fill="#2d3cff"/>
<rect x="87.5" y="395.03" width="1.7" height="1.45" fill="#2d3cff"/>
<rect x="91.7" y="395.15" width="1.7" height="1.45" fill="#2d3cff"/>
<rect x="93.8" y="395.07" width="1.7" height="1.45" fill="#2d3cff"/>
<rect x="96.95" y="395.28" width="1.7" height="1.45" fill="#2d3cff"/>
<rect x="84.35" y="397.32" width="1.7" height="1.45" fill="#2d3cff"/>
<rect x="88.55" y="397.25" width="1.7" height="1.45" fill="#2d3cff"/>
<rect x="90.65" y="397.18" width="1.7" height="1.45" fill="#2d3cff"/>
<rect x="96.95" y="397.23" width="1.7" height="1.45" fill="#2d3cff"/>
<rect x="85.4" y="398.63" width="1.7" height="1.45" fill="#2d3cff"/>
<rect x="87.5" y="399.04" width="1.7" height="1.45" fill="#2d3cff"/>
<rect x="93.8" y="398.76" width="1.7" height="1.45" fill="#2d3cff"/>
<rect x="95.9" y="398.69" width="1.7" height="1.45" fill="#2d3cff"/>
<rect x="84.35" y="400.31" width="1.7" height="1.45" fill="#2d3cff"/>
<rect x="90.65" y="400.32" width="1.7" height="1.45" fill="#2d3cff"/>
<rect x="92.75" y="400.45" width="1.7" height="1.45" fill="#2d3cff"/>
<rect x="94.85" y="400.42" width="1.7" height="1.45" fill="#2d3cff"/>
<rect x="96.95" y="400.64" width="1.7" height="1.45" fill="#2d3cff"/>
<rect x="84.35" y="402.68" width="1.7" height="1.45" fill="#2d3cff"/>
<rect x="88.55" y="402.4" width="1.7" height="1.45" fill="#2d3cff"/>
<rect x="90.65" y="402.5" width="1.7" height="1.45" fill="#2d3cff"/>
<rect x="96.95" y="402.73" width="1.7" height="1.45" fill="#2d3cff"/>
<rect x="86.45" y="404.48" width="1.7" height="1.45" fill="#2d3cff"/>
<rect x="88.55" y="404.45" width="1.7" height="1.45" fill="#2d3cff"/>
<rect x="90.65" y="404.65" width="1.7" height="1.45" fill="#2d3cff"/>
<rect x="94.85" y="404.86" width="1.7" height="1.45" fill="#2d3cff"/>
<rect x="86.45" y="406.98" width="1.7" height="1.45" fill="#2d3cff"/>
<rect x="88.55" y="406.69" width="1.7" height="1.45" fill="#2d3cff"/>
<rect x="92.75" y="406.68" width="1.7" height="1.45" fill="#2d3cff"/>
<rect x="86.45" y="409.03" width="1.7" height="1.45" fill="#2d3cff"/>
<rect x="92.75" y="408.85" width="1.7" height="1.45" fill="#2d3cff"/>
<rect x="94.85" y="408.66" width="1.7" height="1.45" fill="#2d3cff"/>
<rect x="89.6" y="410.99" width="1.7" height="1.45" fill="#2d3cff"/>
<rect x="91.7" y="410.77" width="1.7" height="1.45" fill="#2d3cff"/>
<rect x="93.8" y="410.56" width="1.7" height="1.45" fill="#2d3cff"/>
<rect x="86.45" y="412.81" width="1.7" height="1.45" fill="#2d3cff"/>
<rect x="94.85" y="412.95" width="1.7" height="1.45" fill="#2d3cff"/>
<rect x="90.65" y="414.93" width="1.7" height="1.45" fill="#2d3cff"/>
<rect x="92.75" y="414.79" width="1.7" height="1.45" fill="#2d3cff"/>
<rect x="88.55" y="417.19" width="1.7" height="1.45" fill="#2d3cff"/>
<rect x="90.65" y="417.23" width="1.7" height="1.45" fill="#2d3cff"/>
<rect x="92.75" y="416.96" width="1.7" height="1.45" fill="#2d3cff"/>
<rect x="94.85" y="417.1" width="1.7" height="1.45" fill="#2d3cff"/>
<rect x="87.5" y="419.56" width="1.7" height="1.45" fill="#2d3cff"/>
<rect x="89.6" y="419.25" width="1.7" height="1.45" fill="#2d3cff"/>
<rect x="93.8" y="419.46" width="1.7" height="1.45" fill="#2d3cff"/>
<rect x="86.45" y="421.59" width="1.7" height="1.45" fill="#2d3cff"/>
<rect x="90.65" y="421.46" width="1.7" height="1.45" fill="#2d3cff"/>
<rect x="92.75" y="421.62" width="1.7" height="1.45" fill="#2d3cff"/>
<rect x="94.85" y="421.57" width="1.7" height="1.45" fill="#2d3cff"/>
<rect x="88.55" y="423.39" width="1.7" height="1.45" fill="#2d3cff"/>
<rect x="90.65" y="423.3" width="1.7" height="1.45" fill="#2d3cff"/>
<rect x="89.6" y="425.01" width="1.7" height="1.45" fill="#2d3cff"/>
<rect x="91.7" y="425.34" width="1.7" height="1.45" fill="#2d3cff"/>
<rect x="93.8" y="425.29" width="1.7" height="1.45" fill="#2d3cff"/>
<rect x="88.55" y="426.82" width="1.7" height="1.45" fill="#2d3cff"/>
<rect x="90.65" y="427.25" width="1.7" height="1.45" fill="#2d3cff"/>
<rect x="92.75" y="426.81" width="1.7" height="1.45" fill="#2d3cff"/>
<rect x="87.5" y="429.16" width="1.7" height="1.45" fill="#2d3cff"/>
<rect x="93.8" y="429.56" width="1.7" height="1.45" fill="#2d3cff"/>
<rect x="90.7" y="436.25" width="1.8" height="1.5" fill="#2d3cff"/>
<rect x="88.4" y="440.65" width="1.8" height="1.5" fill="#2d3cff"/>
<rect x="90.7" y="442.55" width="1.8" height="1.5" fill="#2d3cff"/>
<rect x="90.7" y="452.25" width="1.8" height="1.5" fill="#2d3cff"/>
<rect x="115.9" y="382.35" width="1.8" height="1.5" fill="#a6cf1c"/>
<rect x="118.06" y="382.35" width="1.8" height="1.5" fill="#a6cf1c"/>
<rect x="120.22" y="382.35" width="1.8" height="1.5" fill="#a6cf1c"/>
<rect x="122.38" y="382.35" width="1.8" height="1.5" fill="#a6cf1c"/>
<rect x="124.54" y="382.35" width="1.8" height="1.5" fill="#a6cf1c"/>
<rect x="126.7" y="382.35" width="1.8" height="1.5" fill="#a6cf1c"/>
<rect x="128.86" y="382.35" width="1.8" height="1.5" fill="#a6cf1c"/>
<rect x="131.02" y="382.35" width="1.8" height="1.5" fill="#a6cf1c"/>
<rect x="133.18" y="382.35" width="1.8" height="1.5" fill="#a6cf1c"/>
<rect x="135.34" y="382.35" width="1.8" height="1.5" fill="#a6cf1c"/>
<rect x="137.5" y="382.35" width="1.8" height="1.5" fill="#a6cf1c"/>
<rect x="119.5" y="383.61" width="1.7" height="1.45" fill="#a6cf1c"/>
<rect x="121.6" y="383.54" width="1.7" height="1.45" fill="#a6cf1c"/>
<rect x="123.7" y="383.72" width="1.7" height="1.45" fill="#a6cf1c"/>
<rect x="125.8" y="383.64" width="1.7" height="1.45" fill="#a6cf1c"/>
<rect x="127.9" y="383.38" width="1.7" height="1.45" fill="#a6cf1c"/>
<rect x="130" y="383.57" width="1.7" height="1.45" fill="#a6cf1c"/>
<rect x="132.1" y="383.51" width="1.7" height="1.45" fill="#a6cf1c"/>
<rect x="134.2" y="383.35" width="1.7" height="1.45" fill="#a6cf1c"/>
<rect x="119.5" y="384.76" width="1.7" height="1.45" fill="#a6cf1c"/>
<rect x="121.6" y="384.98" width="1.7" height="1.45" fill="#a6cf1c"/>
<rect x="123.7" y="385.03" width="1.7" height="1.45" fill="#a6cf1c"/>
<rect x="125.8" y="384.8" width="1.7" height="1.45" fill="#a6cf1c"/>
<rect x="127.9" y="384.78" width="1.7" height="1.45" fill="#a6cf1c"/>
<rect x="130" y="384.88" width="1.7" height="1.45" fill="#a6cf1c"/>
<rect x="132.1" y="384.72" width="1.7" height="1.45" fill="#a6cf1c"/>
<rect x="134.2" y="384.82" width="1.7" height="1.45" fill="#a6cf1c"/>
<rect x="118.45" y="386.2" width="1.7" height="1.45" fill="#a6cf1c"/>
<rect x="120.55" y="386.39" width="1.7" height="1.45" fill="#a6cf1c"/>
<rect x="122.65" y="386.42" width="1.7" height="1.45" fill="#a6cf1c"/>
<rect x="124.75" y="386.67" width="1.7" height="1.45" fill="#a6cf1c"/>
<rect x="126.85" y="386.25" width="1.7" height="1.45" fill="#a6cf1c"/>
<rect x="128.95" y="386.29" width="1.7" height="1.45" fill="#a6cf1c"/>
<rect x="131.05" y="386.41" width="1.7" height="1.45" fill="#a6cf1c"/>
<rect x="133.15" y="386.42" width="1.7" height="1.45" fill="#a6cf1c"/>
<rect x="135.25" y="386.62" width="1.7" height="1.45" fill="#a6cf1c"/>
<rect x="119.5" y="388.11" width="1.7" height="1.45" fill="#a6cf1c"/>
<rect x="121.6" y="387.91" width="1.7" height="1.45" fill="#a6cf1c"/>
<rect x="123.7" y="388.18" width="1.7" height="1.45" fill="#a6cf1c"/>
<rect x="125.8" y="387.99" width="1.7" height="1.45" fill="#a6cf1c"/>
<rect x="127.9" y="388.21" width="1.7" height="1.45" fill="#a6cf1c"/>
<rect x="130" y="387.97" width="1.7" height="1.45" fill="#a6cf1c"/>
<rect x="132.1" y="388.18" width="1.7" height="1.45" fill="#a6cf1c"/>
<rect x="134.2" y="387.87" width="1.7" height="1.45" fill="#a6cf1c"/>
<rect x="118.45" y="389.08" width="1.7" height="1.45" fill="#a6cf1c"/>
<rect x="120.55" y="389.43" width="1.7" height="1.45" fill="#a6cf1c"/>
<rect x="122.65" y="389.47" width="1.7" height="1.45" fill="#a6cf1c"/>
<rect x="124.75" y="389.31" width="1.7" height="1.45" fill="#a6cf1c"/>
<rect x="126.85" y="389.35" width="1.7" height="1.45" fill="#a6cf1c"/>
<rect x="128.95" y="389.18" width="1.7" height="1.45" fill="#a6cf1c"/>
<rect x="131.05" y="389.19" width="1.7" height="1.45" fill="#a6cf1c"/>
<rect x="133.15" y="389.15" width="1.7" height="1.45" fill="#a6cf1c"/>
<rect x="135.25" y="389.13" width="1.7" height="1.45" fill="#a6cf1c"/>
<rect x="117.4" y="390.84" width="1.7" height="1.45" fill="#a6cf1c"/>
<rect x="119.5" y="390.66" width="1.7" height="1.45" fill="#a6cf1c"/>
<rect x="121.6" y="390.54" width="1.7" height="1.45" fill="#a6cf1c"/>
<rect x="123.7" y="390.93" width="1.7" height="1.45" fill="#a6cf1c"/>
<rect x="125.8" y="390.8" width="1.7" height="1.45" fill="#a6cf1c"/>
<rect x="127.9" y="390.97" width="1.7" height="1.45" fill="#a6cf1c"/>
<rect x="130" y="390.75" width="1.7" height="1.45" fill="#a6cf1c"/>
<rect x="132.1" y="391.03" width="1.7" height="1.45" fill="#a6cf1c"/>
<rect x="134.2" y="390.88" width="1.7" height="1.45" fill="#a6cf1c"/>
<rect x="136.3" y="390.58" width="1.7" height="1.45" fill="#a6cf1c"/>
<rect x="117.4" y="392.2" width="1.7" height="1.45" fill="#a6cf1c"/>
<rect x="119.5" y="392.43" width="1.7" height="1.45" fill="#a6cf1c"/>
<rect x="121.6" y="392.31" width="1.7" height="1.45" fill="#a6cf1c"/>
<rect x="123.7" y="392.04" width="1.7" height="1.45" fill="#a6cf1c"/>
<rect x="125.8" y="392.25" width="1.7" height="1.45" fill="#a6cf1c"/>
<rect x="127.9" y="392.21" width="1.7" height="1.45" fill="#a6cf1c"/>
<rect x="132.1" y="392.16" width="1.7" height="1.45" fill="#a6cf1c"/>
<rect x="134.2" y="392.08" width="1.7" height="1.45" fill="#a6cf1c"/>
<rect x="136.3" y="392.28" width="1.7" height="1.45" fill="#a6cf1c"/>
<rect x="137.35" y="392.2" width="1.7" height="1.45" fill="#a6cf1c"/>
<rect x="119.5" y="393.31" width="1.7" height="1.45" fill="#a6cf1c"/>
<rect x="121.6" y="393.54" width="1.7" height="1.45" fill="#a6cf1c"/>
<rect x="123.7" y="393.7" width="1.7" height="1.45" fill="#a6cf1c"/>
<rect x="125.8" y="393.44" width="1.7" height="1.45" fill="#a6cf1c"/>
<rect x="127.9" y="393.4" width="1.7" height="1.45" fill="#a6cf1c"/>
<rect x="130" y="393.44" width="1.7" height="1.45" fill="#a6cf1c"/>
<rect x="132.1" y="393.49" width="1.7" height="1.45" fill="#a6cf1c"/>
<rect x="134.2" y="393.66" width="1.7" height="1.45" fill="#a6cf1c"/>
<rect x="135.25" y="393.39" width="1.7" height="1.45" fill="#a6cf1c"/>
<rect x="119.5" y="394.6" width="1.7" height="1.45" fill="#a6cf1c"/>
<rect x="121.6" y="394.74" width="1.7" height="1.45" fill="#a6cf1c"/>
<rect x="123.7" y="394.57" width="1.7" height="1.45" fill="#a6cf1c"/>
<rect x="125.8" y="394.96" width="1.7" height="1.45" fill="#a6cf1c"/>
<rect x="127.9" y="394.89" width="1.7" height="1.45" fill="#a6cf1c"/>
<rect x="130" y="395.02" width="1.7" height="1.45" fill="#a6cf1c"/>
<rect x="132.1" y="394.76" width="1.7" height="1.45" fill="#a6cf1c"/>
<rect x="134.2" y="394.91" width="1.7" height="1.45" fill="#a6cf1c"/>
<rect x="120.55" y="384.21" width="1.7" height="1.45" fill="#a6cf1c"/>
<rect x="122.65" y="384.41" width="1.7" height="1.45" fill="#a6cf1c"/>
<rect x="131.05" y="384.09" width="1.7" height="1.45" fill="#a6cf1c"/>
<rect x="133.15" y="384.35" width="1.7" height="1.45" fill="#a6cf1c"/>
<rect x="135.25" y="384.15" width="1.7" height="1.45" fill="#a6cf1c"/>
<rect x="121.6" y="385.54" width="1.7" height="1.45" fill="#a6cf1c"/>
<rect x="130" y="385.79" width="1.7" height="1.45" fill="#a6cf1c"/>
<rect x="134.2" y="385.87" width="1.7" height="1.45" fill="#a6cf1c"/>
<rect x="123.7" y="387.26" width="1.7" height="1.45" fill="#a6cf1c"/>
<rect x="127.9" y="387.43" width="1.7" height="1.45" fill="#a6cf1c"/>
<rect x="134.2" y="387.33" width="1.7" height="1.45" fill="#a6cf1c"/>
<rect x="120.55" y="388.62" width="1.7" height="1.45" fill="#a6cf1c"/>
<rect x="124.75" y="388.52" width="1.7" height="1.45" fill="#a6cf1c"/>
<rect x="131.05" y="388.41" width="1.7" height="1.45" fill="#a6cf1c"/>
<rect x="133.15" y="388.3" width="1.7" height="1.45" fill="#a6cf1c"/>
<rect x="135.25" y="388.62" width="1.7" height="1.45" fill="#a6cf1c"/>
<rect x="119.5" y="390.06" width="1.7" height="1.45" fill="#a6cf1c"/>
<rect x="121.6" y="389.74" width="1.7" height="1.45" fill="#a6cf1c"/>
<rect x="123.7" y="389.94" width="1.7" height="1.45" fill="#a6cf1c"/>
<rect x="125.8" y="390.13" width="1.7" height="1.45" fill="#a6cf1c"/>
<rect x="130" y="390.06" width="1.7" height="1.45" fill="#a6cf1c"/>
<rect x="135.25" y="390.16" width="1.7" height="1.45" fill="#a6cf1c"/>
<rect x="119.5" y="391.66" width="1.7" height="1.45" fill="#a6cf1c"/>
<rect x="123.7" y="391.44" width="1.7" height="1.45" fill="#a6cf1c"/>
<rect x="130" y="391.53" width="1.7" height="1.45" fill="#a6cf1c"/>
<rect x="134.2" y="391.45" width="1.7" height="1.45" fill="#a6cf1c"/>
<rect x="118.45" y="392.77" width="1.7" height="1.45" fill="#a6cf1c"/>
<rect x="124.75" y="392.98" width="1.7" height="1.45" fill="#a6cf1c"/>
<rect x="128.95" y="392.93" width="1.7" height="1.45" fill="#a6cf1c"/>
<rect x="133.15" y="392.82" width="1.7" height="1.45" fill="#a6cf1c"/>
<rect x="121.6" y="394.75" width="1.7" height="1.45" fill="#a6cf1c"/>
<rect x="125.8" y="394.64" width="1.7" height="1.45" fill="#a6cf1c"/>
<rect x="127.9" y="394.56" width="1.7" height="1.45" fill="#a6cf1c"/>
<rect x="132.1" y="394.54" width="1.7" height="1.45" fill="#a6cf1c"/>
<rect x="135.25" y="394.6" width="1.7" height="1.45" fill="#a6cf1c"/>
<rect x="122.65" y="397.5" width="1.7" height="1.45" fill="#a6cf1c"/>
<rect x="124.75" y="397.5" width="1.7" height="1.45" fill="#a6cf1c"/>
<rect x="126.85" y="397.58" width="1.7" height="1.45" fill="#a6cf1c"/>
<rect x="126.85" y="399.48" width="1.7" height="1.45" fill="#a6cf1c"/>
<rect x="123.7" y="401.68" width="1.7" height="1.45" fill="#a6cf1c"/>
<rect x="125.8" y="401.54" width="1.7" height="1.45" fill="#a6cf1c"/>
<rect x="127.9" y="401.4" width="1.7" height="1.45" fill="#a6cf1c"/>
<rect x="130" y="401.78" width="1.7" height="1.45" fill="#a6cf1c"/>
<rect x="133.15" y="401.78" width="1.7" height="1.45" fill="#a6cf1c"/>
<rect x="123.7" y="403.44" width="1.7" height="1.45" fill="#a6cf1c"/>
<rect x="127.9" y="403.4" width="1.7" height="1.45" fill="#a6cf1c"/>
<rect x="130" y="403.43" width="1.7" height="1.45" fill="#a6cf1c"/>
<rect x="132.1" y="403.52" width="1.7" height="1.45" fill="#a6cf1c"/>
<rect x="133.15" y="403.45" width="1.7" height="1.45" fill="#a6cf1c"/>
<rect x="125.8" y="405.07" width="1.7" height="1.45" fill="#a6cf1c"/>
<rect x="127.9" y="405.16" width="1.7" height="1.45" fill="#a6cf1c"/>
<rect x="130" y="405.08" width="1.7" height="1.45" fill="#a6cf1c"/>
<rect x="133.15" y="405.32" width="1.7" height="1.45" fill="#a6cf1c"/>
<rect x="120.55" y="406.96" width="1.7" height="1.45" fill="#a6cf1c"/>
<rect x="124.75" y="407.25" width="1.7" height="1.45" fill="#a6cf1c"/>
<rect x="128.95" y="406.97" width="1.7" height="1.45" fill="#a6cf1c"/>
<rect x="133.15" y="406.97" width="1.7" height="1.45" fill="#a6cf1c"/>
<rect x="120.55" y="408.66" width="1.7" height="1.45" fill="#a6cf1c"/>
<rect x="126.85" y="408.89" width="1.7" height="1.45" fill="#a6cf1c"/>
<rect x="128.95" y="409.1" width="1.7" height="1.45" fill="#a6cf1c"/>
<rect x="131.05" y="409" width="1.7" height="1.45" fill="#a6cf1c"/>
<rect x="133.15" y="409.14" width="1.7" height="1.45" fill="#a6cf1c"/>
<rect x="122.65" y="410.67" width="1.7" height="1.45" fill="#a6cf1c"/>
<rect x="126.85" y="410.99" width="1.7" height="1.45" fill="#a6cf1c"/>
<rect x="128.95" y="411.04" width="1.7" height="1.45" fill="#a6cf1c"/>
<rect x="131.05" y="411.06" width="1.7" height="1.45" fill="#a6cf1c"/>
<rect x="122.65" y="412.72" width="1.7" height="1.45" fill="#a6cf1c"/>
<rect x="124.75" y="412.84" width="1.7" height="1.45" fill="#a6cf1c"/>
<rect x="126.85" y="412.65" width="1.7" height="1.45" fill="#a6cf1c"/>
<rect x="131.05" y="412.4" width="1.7" height="1.45" fill="#a6cf1c"/>
<rect x="122.65" y="414.31" width="1.7" height="1.45" fill="#a6cf1c"/>
<rect x="124.75" y="414.46" width="1.7" height="1.45" fill="#a6cf1c"/>
<rect x="122.65" y="416.31" width="1.7" height="1.45" fill="#a6cf1c"/>
<rect x="124.75" y="416.21" width="1.7" height="1.45" fill="#a6cf1c"/>
<rect x="126.85" y="416.25" width="1.7" height="1.45" fill="#a6cf1c"/>
<rect x="128.95" y="416.14" width="1.7" height="1.45" fill="#a6cf1c"/>
<rect x="131.05" y="418.36" width="1.7" height="1.45" fill="#a6cf1c"/>
<rect x="123.7" y="420.57" width="1.7" height="1.45" fill="#a6cf1c"/>
<rect x="127.9" y="420.39" width="1.7" height="1.45" fill="#a6cf1c"/>
<rect x="130" y="420.54" width="1.7" height="1.45" fill="#a6cf1c"/>
<rect x="131.05" y="420.61" width="1.7" height="1.45" fill="#a6cf1c"/>
<rect x="123.7" y="422.33" width="1.7" height="1.45" fill="#a6cf1c"/>
<rect x="125.8" y="422.4" width="1.7" height="1.45" fill="#a6cf1c"/>
<rect x="127.9" y="422.24" width="1.7" height="1.45" fill="#a6cf1c"/>
<rect x="130" y="422.27" width="1.7" height="1.45" fill="#a6cf1c"/>
<rect x="131.05" y="422.2" width="1.7" height="1.45" fill="#a6cf1c"/>
<rect x="124.75" y="424.41" width="1.7" height="1.45" fill="#a6cf1c"/>
<rect x="126.85" y="424.2" width="1.7" height="1.45" fill="#a6cf1c"/>
<rect x="125.8" y="426" width="1.7" height="1.45" fill="#a6cf1c"/>
<rect x="127.9" y="426.35" width="1.7" height="1.45" fill="#a6cf1c"/>
<rect x="126.6" y="429.25" width="1.8" height="1.5" fill="#a6cf1c"/>
<rect x="126.6" y="434.25" width="1.8" height="1.5" fill="#a6cf1c"/>
<rect x="124.3" y="439.45" width="1.8" height="1.5" fill="#a6cf1c"/>
<rect x="126.6" y="440.65" width="1.8" height="1.5" fill="#a6cf1c"/>
<rect x="126.6" y="458.95" width="1.8" height="1.5" fill="#a6cf1c"/>
<rect x="152.8" y="382.35" width="1.8" height="1.5" fill="#3ff01f"/>
<rect x="154.83" y="382.35" width="1.8" height="1.5" fill="#3ff01f"/>
<rect x="156.86" y="382.35" width="1.8" height="1.5" fill="#3ff01f"/>
<rect x="158.89" y="382.35" width="1.8" height="1.5" fill="#3ff01f"/>
<rect x="160.92" y="382.35" width="1.8" height="1.5" fill="#3ff01f"/>
<rect x="162.95" y="382.35" width="1.8" height="1.5" fill="#3ff01f"/>
<rect x="164.98" y="382.35" width="1.8" height="1.5" fill="#3ff01f"/>
<rect x="167.01" y="382.35" width="1.8" height="1.5" fill="#3ff01f"/>
<rect x="169.04" y="382.35" width="1.8" height="1.5" fill="#3ff01f"/>
<rect x="171.07" y="382.35" width="1.8" height="1.5" fill="#3ff01f"/>
<rect x="173.1" y="382.35" width="1.8" height="1.5" fill="#3ff01f"/>
<rect x="155.4" y="383.71" width="1.7" height="1.45" fill="#3ff01f"/>
<rect x="157.5" y="383.33" width="1.7" height="1.45" fill="#3ff01f"/>
<rect x="159.6" y="383.45" width="1.7" height="1.45" fill="#3ff01f"/>
<rect x="161.7" y="383.62" width="1.7" height="1.45" fill="#3ff01f"/>
<rect x="163.8" y="383.61" width="1.7" height="1.45" fill="#3ff01f"/>
<rect x="165.9" y="383.57" width="1.7" height="1.45" fill="#3ff01f"/>
<rect x="168" y="383.43" width="1.7" height="1.45" fill="#3ff01f"/>
<rect x="170.1" y="383.58" width="1.7" height="1.45" fill="#3ff01f"/>
<rect x="154.35" y="384.82" width="1.7" height="1.45" fill="#3ff01f"/>
<rect x="156.45" y="385.07" width="1.7" height="1.45" fill="#3ff01f"/>
<rect x="158.55" y="385.02" width="1.7" height="1.45" fill="#3ff01f"/>
<rect x="160.65" y="385.13" width="1.7" height="1.45" fill="#3ff01f"/>
<rect x="164.85" y="384.96" width="1.7" height="1.45" fill="#3ff01f"/>
<rect x="166.95" y="384.87" width="1.7" height="1.45" fill="#3ff01f"/>
<rect x="169.05" y="384.98" width="1.7" height="1.45" fill="#3ff01f"/>
<rect x="171.15" y="384.68" width="1.7" height="1.45" fill="#3ff01f"/>
<rect x="154.35" y="386.18" width="1.7" height="1.45" fill="#3ff01f"/>
<rect x="156.45" y="386.4" width="1.7" height="1.45" fill="#3ff01f"/>
<rect x="158.55" y="386.37" width="1.7" height="1.45" fill="#3ff01f"/>
<rect x="160.65" y="386.13" width="1.7" height="1.45" fill="#3ff01f"/>
<rect x="162.75" y="386.06" width="1.7" height="1.45" fill="#3ff01f"/>
<rect x="164.85" y="386.02" width="1.7" height="1.45" fill="#3ff01f"/>
<rect x="166.95" y="386.2" width="1.7" height="1.45" fill="#3ff01f"/>
<rect x="169.05" y="386.35" width="1.7" height="1.45" fill="#3ff01f"/>
<rect x="171.15" y="386" width="1.7" height="1.45" fill="#3ff01f"/>
<rect x="157.5" y="387.62" width="1.7" height="1.45" fill="#3ff01f"/>
<rect x="159.6" y="387.85" width="1.7" height="1.45" fill="#3ff01f"/>
<rect x="161.7" y="387.53" width="1.7" height="1.45" fill="#3ff01f"/>
<rect x="163.8" y="387.6" width="1.7" height="1.45" fill="#3ff01f"/>
<rect x="165.9" y="387.93" width="1.7" height="1.45" fill="#3ff01f"/>
<rect x="168" y="387.5" width="1.7" height="1.45" fill="#3ff01f"/>
<rect x="170.1" y="387.94" width="1.7" height="1.45" fill="#3ff01f"/>
<rect x="171.15" y="387.69" width="1.7" height="1.45" fill="#3ff01f"/>
<rect x="157.5" y="389.01" width="1.7" height="1.45" fill="#3ff01f"/>
<rect x="159.6" y="389.25" width="1.7" height="1.45" fill="#3ff01f"/>
<rect x="161.7" y="389.36" width="1.7" height="1.45" fill="#3ff01f"/>
<rect x="163.8" y="388.93" width="1.7" height="1.45" fill="#3ff01f"/>
<rect x="165.9" y="389.13" width="1.7" height="1.45" fill="#3ff01f"/>
<rect x="168" y="389.37" width="1.7" height="1.45" fill="#3ff01f"/>
<rect x="170.1" y="389.27" width="1.7" height="1.45" fill="#3ff01f"/>
<rect x="154.35" y="390.79" width="1.7" height="1.45" fill="#3ff01f"/>
<rect x="156.45" y="390.4" width="1.7" height="1.45" fill="#3ff01f"/>
<rect x="158.55" y="390.43" width="1.7" height="1.45" fill="#3ff01f"/>
<rect x="160.65" y="390.61" width="1.7" height="1.45" fill="#3ff01f"/>
<rect x="162.75" y="390.64" width="1.7" height="1.45" fill="#3ff01f"/>
<rect x="164.85" y="390.47" width="1.7" height="1.45" fill="#3ff01f"/>
<rect x="169.05" y="390.52" width="1.7" height="1.45" fill="#3ff01f"/>
<rect x="171.15" y="390.84" width="1.7" height="1.45" fill="#3ff01f"/>
<rect x="152.25" y="392.04" width="1.7" height="1.45" fill="#3ff01f"/>
<rect x="154.35" y="391.93" width="1.7" height="1.45" fill="#3ff01f"/>
<rect x="156.45" y="392.02" width="1.7" height="1.45" fill="#3ff01f"/>
<rect x="160.65" y="391.95" width="1.7" height="1.45" fill="#3ff01f"/>
<rect x="162.75" y="391.81" width="1.7" height="1.45" fill="#3ff01f"/>
<rect x="164.85" y="391.95" width="1.7" height="1.45" fill="#3ff01f"/>
<rect x="166.95" y="392.04" width="1.7" height="1.45" fill="#3ff01f"/>
<rect x="169.05" y="391.84" width="1.7" height="1.45" fill="#3ff01f"/>
<rect x="171.15" y="391.98" width="1.7" height="1.45" fill="#3ff01f"/>
<rect x="173.25" y="391.78" width="1.7" height="1.45" fill="#3ff01f"/>
<rect x="153.3" y="384.36" width="1.7" height="1.45" fill="#3ff01f"/>
<rect x="155.4" y="384.01" width="1.7" height="1.45" fill="#3ff01f"/>
<rect x="157.5" y="384.18" width="1.7" height="1.45" fill="#3ff01f"/>
<rect x="170.1" y="384.34" width="1.7" height="1.45" fill="#3ff01f"/>
<rect x="172.2" y="384.08" width="1.7" height="1.45" fill="#3ff01f"/>
<rect x="173.25" y="384.23" width="1.7" height="1.45" fill="#3ff01f"/>
<rect x="163.8" y="385.88" width="1.7" height="1.45" fill="#3ff01f"/>
<rect x="170.1" y="385.53" width="1.7" height="1.45" fill="#3ff01f"/>
<rect x="154.35" y="387.01" width="1.7" height="1.45" fill="#3ff01f"/>
<rect x="164.85" y="386.98" width="1.7" height="1.45" fill="#3ff01f"/>
<rect x="158.55" y="388.49" width="1.7" height="1.45" fill="#3ff01f"/>
<rect x="162.75" y="388.37" width="1.7" height="1.45" fill="#3ff01f"/>
<rect x="164.85" y="388.79" width="1.7" height="1.45" fill="#3ff01f"/>
<rect x="171.15" y="388.35" width="1.7" height="1.45" fill="#3ff01f"/>
<rect x="154.35" y="389.99" width="1.7" height="1.45" fill="#3ff01f"/>
<rect x="156.45" y="390.24" width="1.7" height="1.45" fill="#3ff01f"/>
<rect x="162.75" y="389.98" width="1.7" height="1.45" fill="#3ff01f"/>
<rect x="171.15" y="390.17" width="1.7" height="1.45" fill="#3ff01f"/>
<rect x="155.4" y="391.22" width="1.7" height="1.45" fill="#3ff01f"/>
<rect x="168" y="391.65" width="1.7" height="1.45" fill="#3ff01f"/>
<rect x="170.1" y="391.64" width="1.7" height="1.45" fill="#3ff01f"/>
<rect x="172.2" y="391.64" width="1.7" height="1.45" fill="#3ff01f"/>
<rect x="158.55" y="392.64" width="1.7" height="1.45" fill="#3ff01f"/>
<rect x="162.75" y="392.44" width="1.7" height="1.45" fill="#3ff01f"/>
<rect x="164.85" y="392.69" width="1.7" height="1.45" fill="#3ff01f"/>
<rect x="156.45" y="394.35" width="1.7" height="1.45" fill="#3ff01f"/>
<rect x="162.75" y="394.33" width="1.7" height="1.45" fill="#3ff01f"/>
<rect x="164.85" y="394.57" width="1.7" height="1.45" fill="#3ff01f"/>
<rect x="159.6" y="396.02" width="1.7" height="1.45" fill="#3ff01f"/>
<rect x="161.7" y="396.11" width="1.7" height="1.45" fill="#3ff01f"/>
<rect x="163.8" y="396.1" width="1.7" height="1.45" fill="#3ff01f"/>
<rect x="168" y="396.13" width="1.7" height="1.45" fill="#3ff01f"/>
<rect x="156.45" y="398.22" width="1.7" height="1.45" fill="#3ff01f"/>
<rect x="160.65" y="398.26" width="1.7" height="1.45" fill="#3ff01f"/>
<rect x="162.75" y="398.23" width="1.7" height="1.45" fill="#3ff01f"/>
<rect x="166.95" y="398.03" width="1.7" height="1.45" fill="#3ff01f"/>
<rect x="169.05" y="398.1" width="1.7" height="1.45" fill="#3ff01f"/>
<rect x="161.7" y="400.16" width="1.7" height="1.45" fill="#3ff01f"/>
<rect x="163.8" y="400.24" width="1.7" height="1.45" fill="#3ff01f"/>
<rect x="165.9" y="400.43" width="1.7" height="1.45" fill="#3ff01f"/>
<rect x="160.65" y="402.37" width="1.7" height="1.45" fill="#3ff01f"/>
<rect x="162.75" y="402.48" width="1.7" height="1.45" fill="#3ff01f"/>
<rect x="158.55" y="403.68" width="1.7" height="1.45" fill="#3ff01f"/>
<rect x="160.65" y="403.69" width="1.7" height="1.45" fill="#3ff01f"/>
<rect x="162.75" y="403.81" width="1.7" height="1.45" fill="#3ff01f"/>
<rect x="166.95" y="403.96" width="1.7" height="1.45" fill="#3ff01f"/>
<rect x="158.55" y="405.61" width="1.7" height="1.45" fill="#3ff01f"/>
<rect x="160.65" y="405.39" width="1.7" height="1.45" fill="#3ff01f"/>
<rect x="162.75" y="405.68" width="1.7" height="1.45" fill="#3ff01f"/>
<rect x="164.85" y="405.8" width="1.7" height="1.45" fill="#3ff01f"/>
<rect x="161.7" y="407.66" width="1.7" height="1.45" fill="#3ff01f"/>
<rect x="163.8" y="407.77" width="1.7" height="1.45" fill="#3ff01f"/>
<rect x="165.9" y="407.76" width="1.7" height="1.45" fill="#3ff01f"/>
<rect x="153.3" y="409.6" width="1.7" height="1.45" fill="#3ff01f"/>
<rect x="157.5" y="409.64" width="1.7" height="1.45" fill="#3ff01f"/>
<rect x="159.6" y="409.67" width="1.7" height="1.45" fill="#3ff01f"/>
<rect x="163.8" y="409.73" width="1.7" height="1.45" fill="#3ff01f"/>
<rect x="165.9" y="409.35" width="1.7" height="1.45" fill="#3ff01f"/>
<rect x="168" y="409.24" width="1.7" height="1.45" fill="#3ff01f"/>
<rect x="170.1" y="409.45" width="1.7" height="1.45" fill="#3ff01f"/>
<rect x="172.2" y="409.41" width="1.7" height="1.45" fill="#3ff01f"/>
<rect x="157.5" y="411.15" width="1.7" height="1.45" fill="#3ff01f"/>
<rect x="159.6" y="411.47" width="1.7" height="1.45" fill="#3ff01f"/>
<rect x="161.7" y="411.4" width="1.7" height="1.45" fill="#3ff01f"/>
<rect x="168" y="411.13" width="1.7" height="1.45" fill="#3ff01f"/>
<rect x="170.1" y="411.13" width="1.7" height="1.45" fill="#3ff01f"/>
<rect x="155.4" y="413.11" width="1.7" height="1.45" fill="#3ff01f"/>
<rect x="157.5" y="413" width="1.7" height="1.45" fill="#3ff01f"/>
<rect x="159.6" y="412.72" width="1.7" height="1.45" fill="#3ff01f"/>
<rect x="161.7" y="413.15" width="1.7" height="1.45" fill="#3ff01f"/>
<rect x="165.9" y="413.05" width="1.7" height="1.45" fill="#3ff01f"/>
<rect x="163.8" y="414.8" width="1.7" height="1.45" fill="#3ff01f"/>
<rect x="168" y="414.95" width="1.7" height="1.45" fill="#3ff01f"/>
<rect x="170.1" y="414.79" width="1.7" height="1.45" fill="#3ff01f"/>
<rect x="171.15" y="414.6" width="1.7" height="1.45" fill="#3ff01f"/>
<rect x="154.35" y="417.09" width="1.7" height="1.45" fill="#3ff01f"/>
<rect x="156.45" y="416.77" width="1.7" height="1.45" fill="#3ff01f"/>
<rect x="162.75" y="416.73" width="1.7" height="1.45" fill="#3ff01f"/>
<rect x="164.85" y="416.97" width="1.7" height="1.45" fill="#3ff01f"/>
<rect x="159.6" y="418.89" width="1.7" height="1.45" fill="#3ff01f"/>
<rect x="161.7" y="418.98" width="1.7" height="1.45" fill="#3ff01f"/>
<rect x="163.8" y="419.08" width="1.7" height="1.45" fill="#3ff01f"/>
<rect x="166.95" y="418.97" width="1.7" height="1.45" fill="#3ff01f"/>
<rect x="158.55" y="420.68" width="1.7" height="1.45" fill="#3ff01f"/>
<rect x="160.65" y="420.6" width="1.7" height="1.45" fill="#3ff01f"/>
<rect x="162.75" y="420.87" width="1.7" height="1.45" fill="#3ff01f"/>
<rect x="164.85" y="420.92" width="1.7" height="1.45" fill="#3ff01f"/>
<rect x="166.95" y="420.57" width="1.7" height="1.45" fill="#3ff01f"/>
<rect x="157.5" y="422.83" width="1.7" height="1.45" fill="#3ff01f"/>
<rect x="161.7" y="422.52" width="1.7" height="1.45" fill="#3ff01f"/>
<rect x="163.8" y="422.84" width="1.7" height="1.45" fill="#3ff01f"/>
<rect x="165.9" y="422.7" width="1.7" height="1.45" fill="#3ff01f"/>
<rect x="160.65" y="424.43" width="1.7" height="1.45" fill="#3ff01f"/>
<rect x="162.75" y="424.83" width="1.7" height="1.45" fill="#3ff01f"/>
<rect x="164.85" y="424.57" width="1.7" height="1.45" fill="#3ff01f"/>
<rect x="166.95" y="424.79" width="1.7" height="1.45" fill="#3ff01f"/>
<rect x="159.6" y="426.3" width="1.7" height="1.45" fill="#3ff01f"/>
<rect x="161.7" y="426.45" width="1.7" height="1.45" fill="#3ff01f"/>
<rect x="163.8" y="426.17" width="1.7" height="1.45" fill="#3ff01f"/>
<rect x="160.65" y="428.16" width="1.7" height="1.45" fill="#3ff01f"/>
<rect x="162.75" y="428.25" width="1.7" height="1.45" fill="#3ff01f"/>
<rect x="162.6" y="432.65" width="1.8" height="1.5" fill="#3ff01f"/>
<rect x="158.5" y="437.85" width="1.8" height="1.5" fill="#3ff01f"/>
<rect x="160.7" y="439.85" width="1.8" height="1.5" fill="#3ff01f"/>
<rect x="162.9" y="439.85" width="1.8" height="1.5" fill="#3ff01f"/>
<rect x="165.2" y="438.05" width="1.8" height="1.5" fill="#3ff01f"/>
<rect x="162.9" y="446.75" width="1.8" height="1.5" fill="#3ff01f"/>
<rect x="165.2" y="444.85" width="1.8" height="1.5" fill="#3ff01f"/>
<rect x="189" y="382.4" width="21.7" height="1.7" fill="#a31014"/>
<rect x="191.05" y="383.8" width="1.9" height="1.4" fill="#a31014"/>
<rect x="193.05" y="383.8" width="1.9" height="1.4" fill="#a31014"/>
<rect x="195.05" y="383.8" width="1.9" height="1.4" fill="#a31014"/>
<rect x="197.05" y="383.8" width="1.9" height="1.4" fill="#a31014"/>
<rect x="199.05" y="383.8" width="1.9" height="1.4" fill="#a31014"/>
<rect x="201.05" y="383.8" width="1.9" height="1.4" fill="#a31014"/>
<rect x="203.05" y="383.8" width="1.9" height="1.4" fill="#a31014"/>
<rect x="205.05" y="383.8" width="1.9" height="1.4" fill="#a31014"/>
<rect x="207.05" y="383.8" width="1.9" height="1.4" fill="#a31014"/>
<rect x="190.5" y="385.59" width="2" height="1.7" fill="#a31014"/>
<rect x="192.6" y="385.97" width="2" height="1.7" fill="#a31014"/>
<rect x="194.7" y="385.88" width="2" height="1.7" fill="#a31014"/>
<rect x="196.8" y="385.66" width="2" height="1.7" fill="#a31014"/>
<rect x="198.9" y="385.82" width="2" height="1.7" fill="#a31014"/>
<rect x="201" y="385.97" width="2" height="1.7" fill="#a31014"/>
<rect x="203.1" y="385.95" width="2" height="1.7" fill="#a31014"/>
<rect x="205.2" y="385.98" width="2" height="1.7" fill="#a31014"/>
<rect x="207.3" y="385.92" width="2" height="1.7" fill="#a31014"/>
<rect x="188.4" y="386.92" width="2" height="1.7" fill="#a31014"/>
<rect x="190.5" y="386.9" width="2" height="1.7" fill="#a31014"/>
<rect x="192.6" y="386.77" width="2" height="1.7" fill="#a31014"/>
<rect x="194.7" y="386.73" width="2" height="1.7" fill="#a31014"/>
<rect x="196.8" y="386.97" width="2" height="1.7" fill="#a31014"/>
<rect x="198.9" y="386.88" width="2" height="1.7" fill="#a31014"/>
<rect x="201" y="386.58" width="2" height="1.7" fill="#a31014"/>
<rect x="203.1" y="386.93" width="2" height="1.7" fill="#a31014"/>
<rect x="205.2" y="386.83" width="2" height="1.7" fill="#a31014"/>
<rect x="207.3" y="386.65" width="2" height="1.7" fill="#a31014"/>
<rect x="209.4" y="386.78" width="2" height="1.7" fill="#a31014"/>
<rect x="189.45" y="387.9" width="2" height="1.7" fill="#a31014"/>
<rect x="191.55" y="387.74" width="2" height="1.7" fill="#a31014"/>
<rect x="193.65" y="387.78" width="2" height="1.7" fill="#a31014"/>
<rect x="195.75" y="387.91" width="2" height="1.7" fill="#a31014"/>
<rect x="197.85" y="387.93" width="2" height="1.7" fill="#a31014"/>
<rect x="199.95" y="387.96" width="2" height="1.7" fill="#a31014"/>
<rect x="202.05" y="387.71" width="2" height="1.7" fill="#a31014"/>
<rect x="204.15" y="387.78" width="2" height="1.7" fill="#a31014"/>
<rect x="206.25" y="387.99" width="2" height="1.7" fill="#a31014"/>
<rect x="208.35" y="387.63" width="2" height="1.7" fill="#a31014"/>
<rect x="209.4" y="387.82" width="2" height="1.7" fill="#a31014"/>
<rect x="196.85" y="389.21" width="1.9" height="1.6" fill="#a31014"/>
<rect x="201.05" y="389.13" width="1.9" height="1.6" fill="#a31014"/>
<rect x="203.15" y="388.91" width="1.9" height="1.6" fill="#a31014"/>
<rect x="194.75" y="390.52" width="1.9" height="1.6" fill="#a31014"/>
<rect x="196.85" y="390.6" width="1.9" height="1.6" fill="#a31014"/>
<rect x="198.95" y="390.34" width="1.9" height="1.6" fill="#a31014"/>
<rect x="201.05" y="390.29" width="1.9" height="1.6" fill="#a31014"/>
<rect x="196.85" y="391.99" width="1.9" height="1.6" fill="#a31014"/>
<rect x="198.95" y="391.86" width="1.9" height="1.6" fill="#a31014"/>
<rect x="201.05" y="391.85" width="1.9" height="1.6" fill="#a31014"/>
<rect x="197.9" y="393.14" width="1.9" height="1.6" fill="#a31014"/>
<rect x="201.05" y="393.25" width="1.9" height="1.6" fill="#a31014"/>
<rect x="196.85" y="394.52" width="1.9" height="1.6" fill="#a31014"/>
<rect x="198.95" y="394.49" width="1.9" height="1.6" fill="#a31014"/>
<rect x="201.05" y="394.35" width="1.9" height="1.6" fill="#a31014"/>
<rect x="194.1" y="398.05" width="1.8" height="1.5" fill="#a31014"/>
<rect x="196.6" y="398.05" width="1.8" height="1.5" fill="#a31014"/>
<rect x="198.6" y="398.05" width="1.8" height="1.5" fill="#a31014"/>
<rect x="200.6" y="398.05" width="1.8" height="1.5" fill="#a31014"/>
<rect x="202.6" y="398.05" width="1.8" height="1.5" fill="#a31014"/>
<rect x="204.1" y="398.05" width="1.8" height="1.5" fill="#a31014"/>
<line x1="43.1" y1="408.2" x2="67.9" y2="408.2" stroke="#1a1a1a" stroke-width="1.4"/>
<line x1="79.1" y1="394.9" x2="103.9" y2="394.9" stroke="#999" stroke-width="1.7"/>
<line x1="115.7" y1="397.4" x2="139.8" y2="397.4" stroke="#1a1a1a" stroke-width="1.4"/>
<line x1="152" y1="401.3" x2="175.9" y2="401.3" stroke="#1a1a1a" stroke-width="1.4"/>
<line x1="188.2" y1="385.5" x2="211.8" y2="385.5" stroke="#333" stroke-width="1.3"/>
<path d="M94.3 379.9V378.2H128.5V379.9" fill="none" stroke="#666" stroke-width="0.9"/>
<text x="112.5" y="375.9" class="ns">n.s</text>
<line x1="253.6" y1="373.8" x2="253.6" y2="511.6" stroke="#222" stroke-width="1.3"/>
<line x1="251.6" y1="511.1" x2="253.6" y2="511.1" stroke="#222" stroke-width="1.1"/>
<text x="250.2" y="514.3" class="tk">0</text>
<line x1="251.6" y1="479.88" x2="253.6" y2="479.88" stroke="#222" stroke-width="1.1"/>
<text x="250.2" y="483.07" class="tk">25</text>
<line x1="251.6" y1="448.65" x2="253.6" y2="448.65" stroke="#222" stroke-width="1.1"/>
<text x="250.2" y="451.85" class="tk">50</text>
<line x1="251.6" y1="417.43" x2="253.6" y2="417.43" stroke="#222" stroke-width="1.1"/>
<text x="250.2" y="420.62" class="tk">75</text>
<line x1="251.6" y1="386.2" x2="253.6" y2="386.2" stroke="#222" stroke-width="1.1"/>
<text x="250.2" y="389.4" class="tk">100</text>
<line x1="261" y1="519.4" x2="438.8" y2="519.4" stroke="#222" stroke-width="1.3"/>
<line x1="278.5" y1="519.4" x2="278.5" y2="521.4" stroke="#222" stroke-width="1.1"/>
<text x="278.5" y="528.8" class="cl">Pooled</text>
<line x1="314.1" y1="519.4" x2="314.1" y2="521.4" stroke="#222" stroke-width="1.1"/>
<text x="314.1" y="528.8" class="cl">Folch</text>
<line x1="349.7" y1="519.4" x2="349.7" y2="521.4" stroke="#222" stroke-width="1.1"/>
<text x="349.7" y="528.8" class="cl">MTBE</text>
<line x1="385.3" y1="519.4" x2="385.3" y2="521.4" stroke="#222" stroke-width="1.1"/>
<text x="385.3" y="528.8" class="cl">Bligh</text>
<line x1="420.9" y1="519.4" x2="420.9" y2="521.4" stroke="#222" stroke-width="1.1"/>
<text x="420.9" y="528.8" class="cl">MMC</text>
<text transform="translate(231.2,441.8) rotate(-90)" class="yl">Relative average lipid level (%)</text>
<text x="435.5" y="374" class="lt">h</text>
<rect x="278.06" y="389.25" width="1.8" height="1.5" fill="#4a9bff"/>
<rect x="278.06" y="396.75" width="1.8" height="1.5" fill="#4a9bff"/>
<rect x="278.06" y="399.43" width="1.8" height="1.5" fill="#4a9bff"/>
<rect x="275.39" y="404.96" width="1.8" height="1.5" fill="#4a9bff"/>
<rect x="275.39" y="407.64" width="1.8" height="1.5" fill="#4a9bff"/>
<rect x="278.06" y="407.11" width="1.8" height="1.5" fill="#4a9bff"/>
<rect x="280.39" y="407.11" width="1.8" height="1.5" fill="#4a9bff"/>
<rect x="278.06" y="409.79" width="1.8" height="1.5" fill="#4a9bff"/>
<rect x="275.39" y="412.46" width="1.8" height="1.5" fill="#4a9bff"/>
<rect x="278.06" y="412.46" width="1.8" height="1.5" fill="#4a9bff"/>
<rect x="280.39" y="412.46" width="1.8" height="1.5" fill="#4a9bff"/>
<rect x="278.06" y="416.57" width="1.8" height="1.5" fill="#4a9bff"/>
<rect x="278.06" y="424.07" width="1.8" height="1.5" fill="#4a9bff"/>
<rect x="278.06" y="427.64" width="1.8" height="1.5" fill="#4a9bff"/>
<rect x="278.06" y="452.64" width="1.8" height="1.5" fill="#4a9bff"/>
<rect x="310.74" y="385.32" width="1.8" height="1.5" fill="#2d3cff"/>
<rect x="313.24" y="385.32" width="1.8" height="1.5" fill="#2d3cff"/>
<rect x="316.1" y="385.32" width="1.8" height="1.5" fill="#2d3cff"/>
<rect x="310.74" y="397.82" width="1.8" height="1.5" fill="#2d3cff"/>
<rect x="313.24" y="399.07" width="1.8" height="1.5" fill="#2d3cff"/>
<rect x="310.74" y="417.29" width="1.8" height="1.5" fill="#2d3cff"/>
<rect x="313.24" y="417.29" width="1.8" height="1.5" fill="#2d3cff"/>
<rect x="316.1" y="416.93" width="1.8" height="1.5" fill="#2d3cff"/>
<rect x="313.24" y="422.29" width="1.8" height="1.5" fill="#2d3cff"/>
<rect x="310.74" y="426.21" width="1.8" height="1.5" fill="#2d3cff"/>
<rect x="313.24" y="426.21" width="1.8" height="1.5" fill="#2d3cff"/>
<rect x="313.24" y="434.25" width="1.8" height="1.5" fill="#2d3cff"/>
<rect x="313.24" y="438.71" width="1.8" height="1.5" fill="#2d3cff"/>
<rect x="313.24" y="446.93" width="1.8" height="1.5" fill="#2d3cff"/>
<rect x="348.92" y="385.32" width="1.8" height="1.5" fill="#a6cf1c"/>
<rect x="348.92" y="399.07" width="1.8" height="1.5" fill="#a6cf1c"/>
<rect x="348.92" y="406.21" width="1.8" height="1.5" fill="#a6cf1c"/>
<rect x="344.46" y="412.11" width="1.8" height="1.5" fill="#a6cf1c"/>
<rect x="346.6" y="412.82" width="1.8" height="1.5" fill="#a6cf1c"/>
<rect x="348.92" y="413.89" width="1.8" height="1.5" fill="#a6cf1c"/>
<rect x="351.06" y="412.11" width="1.8" height="1.5" fill="#a6cf1c"/>
<rect x="346.6" y="418.71" width="1.8" height="1.5" fill="#a6cf1c"/>
<rect x="348.92" y="419.25" width="1.8" height="1.5" fill="#a6cf1c"/>
<rect x="348.92" y="422.29" width="1.8" height="1.5" fill="#a6cf1c"/>
<rect x="346.6" y="424.96" width="1.8" height="1.5" fill="#a6cf1c"/>
<rect x="348.92" y="425.32" width="1.8" height="1.5" fill="#a6cf1c"/>
<rect x="348.92" y="441.39" width="1.8" height="1.5" fill="#a6cf1c"/>
<rect x="384.46" y="385.32" width="1.8" height="1.5" fill="#3ff01f"/>
<rect x="384.46" y="394.96" width="1.8" height="1.5" fill="#3ff01f"/>
<rect x="381.96" y="397.29" width="1.8" height="1.5" fill="#3ff01f"/>
<rect x="384.46" y="398.18" width="1.8" height="1.5" fill="#3ff01f"/>
<rect x="386.78" y="397.82" width="1.8" height="1.5" fill="#3ff01f"/>
<rect x="389.1" y="397.29" width="1.8" height="1.5" fill="#3ff01f"/>
<rect x="380.17" y="399.96" width="1.8" height="1.5" fill="#3ff01f"/>
<rect x="382.31" y="400.86" width="1.8" height="1.5" fill="#3ff01f"/>
<rect x="384.46" y="401.75" width="1.8" height="1.5" fill="#3ff01f"/>
<rect x="386.78" y="401.39" width="1.8" height="1.5" fill="#3ff01f"/>
<rect x="384.46" y="403.89" width="1.8" height="1.5" fill="#3ff01f"/>
<rect x="382.31" y="408.89" width="1.8" height="1.5" fill="#3ff01f"/>
<rect x="384.46" y="409.25" width="1.8" height="1.5" fill="#3ff01f"/>
<rect x="384.46" y="432.11" width="1.8" height="1.5" fill="#3ff01f"/>
<rect x="410.5" y="385.35" width="1.8" height="1.5" fill="#a31014"/>
<rect x="412.89" y="385.35" width="1.8" height="1.5" fill="#a31014"/>
<rect x="415.27" y="385.35" width="1.8" height="1.5" fill="#a31014"/>
<rect x="417.66" y="385.35" width="1.8" height="1.5" fill="#a31014"/>
<rect x="420.05" y="385.35" width="1.8" height="1.5" fill="#a31014"/>
<rect x="422.44" y="385.35" width="1.8" height="1.5" fill="#a31014"/>
<rect x="424.83" y="385.35" width="1.8" height="1.5" fill="#a31014"/>
<rect x="427.21" y="385.35" width="1.8" height="1.5" fill="#a31014"/>
<rect x="429.6" y="385.35" width="1.8" height="1.5" fill="#a31014"/>
<rect x="419.81" y="393.18" width="1.8" height="1.5" fill="#a31014"/>
<rect x="419.81" y="396.39" width="1.8" height="1.5" fill="#a31014"/>
<rect x="419.81" y="404.43" width="1.8" height="1.5" fill="#a31014"/>
<rect x="419.81" y="457.64" width="1.8" height="1.5" fill="#a31014"/>
<line x1="266.7" y1="412.8" x2="290.3" y2="412.8" stroke="#888" stroke-width="1.6"/>
<line x1="302.3" y1="415.43" x2="325.9" y2="415.43" stroke="#333" stroke-width="1.3"/>
<line x1="337.9" y1="415.68" x2="361.5" y2="415.68" stroke="#777" stroke-width="1.5"/>
<line x1="373.5" y1="403.19" x2="397.1" y2="403.19" stroke="#222" stroke-width="1.3"/>
<line x1="409.1" y1="393.19" x2="432.7" y2="393.19" stroke="#222" stroke-width="1.3"/>
<path d="M279.3 375.4V373.7H384.6V375.4" fill="none" stroke="#9a9a9a" stroke-width="0.9"/>
<path d="M313.4 379.3V377.6H384.6V379.3" fill="none" stroke="#555" stroke-width="0.9"/>
<path d="M279.3 383.1V381.4H312.5V383.1" fill="none" stroke="#aaa" stroke-width="0.9"/>
<path d="M315.5 383.1V381.4H349V383.1" fill="none" stroke="#aaa" stroke-width="0.9"/>
<path d="M351 383.1V381.4H384.2V383.1" fill="none" stroke="#aaa" stroke-width="0.9"/>
<path d="M386.6 383.1V381.4H420.4V383.1" fill="none" stroke="#aaa" stroke-width="0.9"/>
<text x="335.2" y="372.3" class="ns">n.s</text>
<line x1="489.4" y1="374.6" x2="489.4" y2="512.3" stroke="#555" stroke-width="1.3"/>
<line x1="487.4" y1="511.8" x2="489.4" y2="511.8" stroke="#555" stroke-width="1.1"/>
<text x="486" y="515" class="tk">0</text>
<line x1="487.4" y1="480.52" x2="489.4" y2="480.52" stroke="#555" stroke-width="1.1"/>
<text x="486" y="483.72" class="tk">25</text>
<line x1="487.4" y1="449.25" x2="489.4" y2="449.25" stroke="#555" stroke-width="1.1"/>
<text x="486" y="452.45" class="tk">50</text>
<line x1="487.4" y1="417.98" x2="489.4" y2="417.98" stroke="#555" stroke-width="1.1"/>
<text x="486" y="421.18" class="tk">75</text>
<line x1="487.4" y1="386.7" x2="489.4" y2="386.7" stroke="#555" stroke-width="1.1"/>
<text x="486" y="389.9" class="tk">100</text>
<line x1="496.7" y1="519.4" x2="674" y2="519.4" stroke="#222" stroke-width="1.3"/>
<line x1="514.5" y1="519.4" x2="514.5" y2="521.4" stroke="#222" stroke-width="1.1"/>
<text x="514.5" y="529.9" class="cl">Pooled</text>
<line x1="549.95" y1="519.4" x2="549.95" y2="521.4" stroke="#222" stroke-width="1.1"/>
<text x="549.95" y="529.9" class="cl">Folch</text>
<line x1="585.4" y1="519.4" x2="585.4" y2="521.4" stroke="#222" stroke-width="1.1"/>
<text x="585.4" y="529.9" class="cl">MTBE</text>
<line x1="620.85" y1="519.4" x2="620.85" y2="521.4" stroke="#222" stroke-width="1.1"/>
<text x="620.85" y="529.9" class="cl">Bligh</text>
<line x1="656.3" y1="519.4" x2="656.3" y2="521.4" stroke="#222" stroke-width="1.1"/>
<text x="656.3" y="529.9" class="cl">MMC</text>
<text transform="translate(466.2,442.8) rotate(-90)" class="yl">Relative average lipid level (%)</text>
<text x="677.5" y="373.9" class="lt">i</text>
<rect x="513.37" y="396.04" width="1.8" height="1.5" fill="#4a9bff"/>
<rect x="513.37" y="399.4" width="1.8" height="1.5" fill="#4a9bff"/>
<rect x="515.71" y="398.67" width="1.8" height="1.5" fill="#4a9bff"/>
<rect x="513.37" y="402.75" width="1.8" height="1.5" fill="#4a9bff"/>
<rect x="511.33" y="406.7" width="1.8" height="1.5" fill="#4a9bff"/>
<rect x="513.37" y="407.43" width="1.8" height="1.5" fill="#4a9bff"/>
<rect x="515.71" y="406.7" width="1.8" height="1.5" fill="#4a9bff"/>
<rect x="518.19" y="405.97" width="1.8" height="1.5" fill="#4a9bff"/>
<rect x="513.37" y="410.34" width="1.8" height="1.5" fill="#4a9bff"/>
<rect x="513.37" y="416.48" width="1.8" height="1.5" fill="#4a9bff"/>
<rect x="539.4" y="385.95" width="1.8" height="1.5" fill="#2d3cff"/>
<rect x="542.13" y="385.95" width="1.8" height="1.5" fill="#2d3cff"/>
<rect x="544.87" y="385.95" width="1.8" height="1.5" fill="#2d3cff"/>
<rect x="547.6" y="385.95" width="1.8" height="1.5" fill="#2d3cff"/>
<rect x="550.6" y="385.95" width="1.8" height="1.5" fill="#2d3cff"/>
<rect x="553.17" y="385.95" width="1.8" height="1.5" fill="#2d3cff"/>
<rect x="555.73" y="385.95" width="1.8" height="1.5" fill="#2d3cff"/>
<rect x="558.3" y="385.95" width="1.8" height="1.5" fill="#2d3cff"/>
<rect x="548.84" y="407.72" width="1.8" height="1.5" fill="#2d3cff"/>
<rect x="582.42" y="389.61" width="1.8" height="1.5" fill="#a6cf1c"/>
<rect x="584.61" y="389.91" width="1.8" height="1.5" fill="#a6cf1c"/>
<rect x="582.42" y="393.99" width="1.8" height="1.5" fill="#a6cf1c"/>
<rect x="584.61" y="394.58" width="1.8" height="1.5" fill="#a6cf1c"/>
<rect x="586.8" y="394.58" width="1.8" height="1.5" fill="#a6cf1c"/>
<rect x="588.99" y="393.12" width="1.8" height="1.5" fill="#a6cf1c"/>
<rect x="582.42" y="397.5" width="1.8" height="1.5" fill="#a6cf1c"/>
<rect x="584.61" y="397.94" width="1.8" height="1.5" fill="#a6cf1c"/>
<rect x="586.8" y="396.91" width="1.8" height="1.5" fill="#a6cf1c"/>
<rect x="584.61" y="401.59" width="1.8" height="1.5" fill="#a6cf1c"/>
<rect x="617.68" y="386.7" width="1.8" height="1.5" fill="#3ff01f"/>
<rect x="619.87" y="386.7" width="1.8" height="1.5" fill="#3ff01f"/>
<rect x="622.35" y="385.82" width="1.8" height="1.5" fill="#3ff01f"/>
<rect x="619.87" y="390.2" width="1.8" height="1.5" fill="#3ff01f"/>
<rect x="617.68" y="392.53" width="1.8" height="1.5" fill="#3ff01f"/>
<rect x="619.87" y="393.56" width="1.8" height="1.5" fill="#3ff01f"/>
<rect x="619.87" y="398.96" width="1.8" height="1.5" fill="#3ff01f"/>
<rect x="622.35" y="397.94" width="1.8" height="1.5" fill="#3ff01f"/>
<rect x="619.87" y="403.78" width="1.8" height="1.5" fill="#3ff01f"/>
<rect x="619.87" y="407.86" width="1.8" height="1.5" fill="#3ff01f"/>
<rect x="655.19" y="385.82" width="1.8" height="1.5" fill="#a31014"/>
<rect x="650.52" y="389.61" width="1.8" height="1.5" fill="#a31014"/>
<rect x="652.71" y="390.2" width="1.8" height="1.5" fill="#a31014"/>
<rect x="655.19" y="390.64" width="1.8" height="1.5" fill="#a31014"/>
<rect x="657.82" y="389.91" width="1.8" height="1.5" fill="#a31014"/>
<rect x="650.52" y="392.53" width="1.8" height="1.5" fill="#a31014"/>
<rect x="652.71" y="393.56" width="1.8" height="1.5" fill="#a31014"/>
<rect x="655.19" y="394.58" width="1.8" height="1.5" fill="#a31014"/>
<rect x="657.82" y="393.99" width="1.8" height="1.5" fill="#a31014"/>
<rect x="660.01" y="393.56" width="1.8" height="1.5" fill="#a31014"/>
<line x1="538" y1="389.5" x2="561.9" y2="389.5" stroke="#222" stroke-width="1.3"/>
<line x1="573.6" y1="395.5" x2="597.4" y2="395.5" stroke="#777" stroke-width="1.5"/>
<line x1="609.1" y1="395.3" x2="632.9" y2="395.3" stroke="#222" stroke-width="1.3"/>
<line x1="644.6" y1="392.4" x2="668.2" y2="392.4" stroke="#222" stroke-width="1.3"/>
<line x1="502.5" y1="406.3" x2="526.1" y2="406.3" stroke="#777" stroke-width="1.5"/>
<path d="M550.2 372.4V370.7H655.8V372.4" fill="none" stroke="#9a9a9a" stroke-width="0.9"/>
<path d="M550.2 376.3V374.6H619.6V376.3" fill="none" stroke="#9a9a9a" stroke-width="0.9"/>
<path d="M586.2 379.9V378.2H655.8V379.9" fill="none" stroke="#9a9a9a" stroke-width="0.9"/>
<path d="M550.2 383.9V382.2H583.3V383.9" fill="none" stroke="#9a9a9a" stroke-width="0.9"/>
<path d="M586.2 383.9V382.2H620V383.9" fill="none" stroke="#9a9a9a" stroke-width="0.9"/>
<path d="M622.2 383.9V382.2H655.8V383.9" fill="none" stroke="#9a9a9a" stroke-width="0.9"/>
<text x="601.8" y="368.6" class="ns">n.s</text>
</svg>
</body></html>
